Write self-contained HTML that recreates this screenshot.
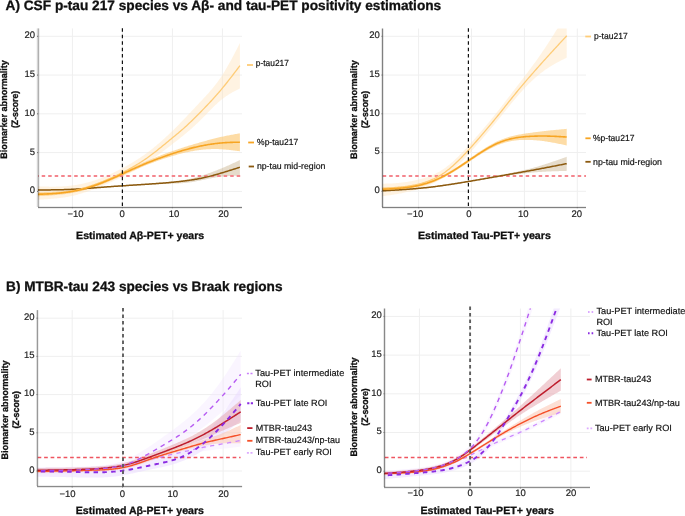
<!DOCTYPE html>
<html><head><meta charset="utf-8"><style>
html,body{margin:0;padding:0;background:#fff;width:685px;height:516px;overflow:hidden}
svg{display:block;font-family:"Liberation Sans", sans-serif;text-rendering:geometricPrecision}
</style></head><body>
<svg width="685" height="516" viewBox="0 0 685 516">
<defs><filter id="soft" color-interpolation-filters="sRGB" x="0" y="0" width="100%" height="100%" filterUnits="userSpaceOnUse"><feConvolveMatrix order="3" kernelMatrix="0 0 0 0 1 0 0 0 0" edgeMode="duplicate" preserveAlpha="false"/></filter><clipPath id="cAL"><rect x="38" y="28.4" width="204" height="178.79999999999998"/></clipPath><clipPath id="cAR"><rect x="382.5" y="28.5" width="203.5" height="178.7"/></clipPath><clipPath id="cBL"><rect x="37.5" y="310.1" width="204.5" height="176.39999999999998"/></clipPath><clipPath id="cBR"><rect x="384.5" y="308.5" width="205.5" height="179.0"/></clipPath></defs>
<g filter="url(#soft)"><rect x="0" y="0" width="685" height="516" fill="#fff"/>
<text x="5.50" y="9.60" font-size="13.7" font-weight="bold" fill="#111" stroke="#111" stroke-width="0.3" textLength="435.69" lengthAdjust="spacingAndGlyphs">A) CSF p-tau 217 species vs Aβ- and tau-PET positivity estimations</text>
<text x="6.10" y="290.90" font-size="13.7" font-weight="bold" fill="#111" stroke="#111" stroke-width="0.3" textLength="276.41" lengthAdjust="spacingAndGlyphs">B) MTBR-tau 243 species vs Braak regions</text>
<line x1="72.40" y1="28.4" x2="72.40" y2="207.2" stroke="#efefef" stroke-width="1"/>
<line x1="122.40" y1="28.4" x2="122.40" y2="207.2" stroke="#efefef" stroke-width="1"/>
<line x1="172.40" y1="28.4" x2="172.40" y2="207.2" stroke="#efefef" stroke-width="1"/>
<line x1="222.40" y1="28.4" x2="222.40" y2="207.2" stroke="#efefef" stroke-width="1"/>
<line x1="38" y1="191.40" x2="242" y2="191.40" stroke="#efefef" stroke-width="1"/>
<line x1="38" y1="152.62" x2="242" y2="152.62" stroke="#efefef" stroke-width="1"/>
<line x1="38" y1="113.85" x2="242" y2="113.85" stroke="#efefef" stroke-width="1"/>
<line x1="38" y1="75.08" x2="242" y2="75.08" stroke="#efefef" stroke-width="1"/>
<line x1="38" y1="36.30" x2="242" y2="36.30" stroke="#efefef" stroke-width="1"/>
<path d="M32.40,186.05 L33.40,186.09 L34.40,186.14 L35.40,186.18 L36.40,186.22 L37.40,186.27 L38.40,186.31 L39.40,186.35 L40.40,186.39 L41.40,186.42 L42.40,186.46 L43.40,186.49 L44.40,186.52 L45.40,186.55 L46.40,186.57 L47.40,186.60 L48.40,186.61 L49.40,186.63 L50.40,186.64 L51.40,186.65 L52.40,186.65 L53.40,186.65 L54.40,186.64 L55.40,186.63 L56.40,186.62 L57.40,186.60 L58.40,186.57 L59.40,186.54 L60.40,186.50 L61.40,186.46 L62.40,186.40 L63.40,186.35 L64.40,186.28 L65.40,186.21 L66.40,186.13 L67.40,186.05 L68.40,185.95 L69.40,185.85 L70.40,185.74 L71.40,185.62 L72.40,185.50 L73.40,185.36 L74.40,185.22 L75.40,185.06 L76.40,184.90 L77.40,184.73 L78.40,184.55 L79.40,184.36 L80.40,184.16 L81.40,183.96 L82.40,183.74 L83.40,183.52 L84.40,183.28 L85.40,183.04 L86.40,182.79 L87.40,182.53 L88.40,182.27 L89.40,181.99 L90.40,181.70 L91.40,181.41 L92.40,181.11 L93.40,180.80 L94.40,180.48 L95.40,180.15 L96.40,179.81 L97.40,179.47 L98.40,179.11 L99.40,178.75 L100.40,178.38 L101.40,178.00 L102.40,177.61 L103.40,177.21 L104.40,176.81 L105.40,176.39 L106.40,175.97 L107.40,175.54 L108.40,175.11 L109.40,174.66 L110.40,174.21 L111.40,173.75 L112.40,173.28 L113.40,172.81 L114.40,172.33 L115.40,171.84 L116.40,171.35 L117.40,170.85 L118.40,170.34 L119.40,169.83 L120.40,169.31 L121.40,168.78 L122.40,168.25 L123.40,167.71 L124.40,167.17 L125.40,166.62 L126.40,166.06 L127.40,165.50 L128.40,164.93 L129.40,164.35 L130.40,163.76 L131.40,163.17 L132.40,162.57 L133.40,161.96 L134.40,161.35 L135.40,160.73 L136.40,160.09 L137.40,159.45 L138.40,158.80 L139.40,158.15 L140.40,157.48 L141.40,156.80 L142.40,156.12 L143.40,155.42 L144.40,154.72 L145.40,154.00 L146.40,153.28 L147.40,152.54 L148.40,151.80 L149.40,151.04 L150.40,150.27 L151.40,149.50 L152.40,148.71 L153.40,147.91 L154.40,147.10 L155.40,146.28 L156.40,145.45 L157.40,144.61 L158.40,143.76 L159.40,142.90 L160.40,142.03 L161.40,141.15 L162.40,140.26 L163.40,139.37 L164.40,138.46 L165.40,137.54 L166.40,136.61 L167.40,135.68 L168.40,134.73 L169.40,133.78 L170.40,132.82 L171.40,131.86 L172.40,130.88 L173.40,129.90 L174.40,128.91 L175.40,127.92 L176.40,126.92 L177.40,125.91 L178.40,124.90 L179.40,123.88 L180.40,122.85 L181.40,121.83 L182.40,120.79 L183.40,119.76 L184.40,118.72 L185.40,117.67 L186.40,116.63 L187.40,115.58 L188.40,114.52 L189.40,113.47 L190.40,112.41 L191.40,111.35 L192.40,110.29 L193.40,109.23 L194.40,108.17 L195.40,107.11 L196.40,106.05 L197.40,104.98 L198.40,103.92 L199.40,102.86 L200.40,101.80 L201.40,100.74 L202.40,99.68 L203.40,98.61 L204.40,97.54 L205.40,96.46 L206.40,95.37 L207.40,94.27 L208.40,93.16 L209.40,92.02 L210.40,90.87 L211.40,89.70 L212.40,88.51 L213.40,87.29 L214.40,86.05 L215.40,84.77 L216.40,83.47 L217.40,82.13 L218.40,80.76 L219.40,79.35 L220.40,77.91 L221.40,76.42 L222.40,74.88 L223.40,73.31 L224.40,71.69 L225.40,70.03 L226.40,68.34 L227.40,66.61 L228.40,64.84 L229.40,63.05 L230.40,61.23 L231.40,59.39 L232.40,57.52 L233.40,55.63 L234.40,53.73 L235.40,51.81 L236.40,49.89 L237.40,47.95 L238.40,46.01 L239.40,44.06 L239.90,43.08 L239.90,88.37 L239.40,88.63 L238.40,89.15 L237.40,89.66 L236.40,90.19 L235.40,90.72 L234.40,91.25 L233.40,91.80 L232.40,92.36 L231.40,92.93 L230.40,93.52 L229.40,94.12 L228.40,94.74 L227.40,95.38 L226.40,96.05 L225.40,96.74 L224.40,97.45 L223.40,98.19 L222.40,98.96 L221.40,99.76 L220.40,100.59 L219.40,101.45 L218.40,102.33 L217.40,103.23 L216.40,104.16 L215.40,105.10 L214.40,106.06 L213.40,107.04 L212.40,108.03 L211.40,109.03 L210.40,110.04 L209.40,111.06 L208.40,112.08 L207.40,113.11 L206.40,114.14 L205.40,115.17 L204.40,116.19 L203.40,117.21 L202.40,118.23 L201.40,119.23 L200.40,120.23 L199.40,121.21 L198.40,122.18 L197.40,123.14 L196.40,124.09 L195.40,125.02 L194.40,125.94 L193.40,126.85 L192.40,127.76 L191.40,128.65 L190.40,129.53 L189.40,130.40 L188.40,131.26 L187.40,132.11 L186.40,132.95 L185.40,133.79 L184.40,134.62 L183.40,135.44 L182.40,136.26 L181.40,137.06 L180.40,137.87 L179.40,138.66 L178.40,139.45 L177.40,140.24 L176.40,141.02 L175.40,141.80 L174.40,142.57 L173.40,143.34 L172.40,144.11 L171.40,144.88 L170.40,145.64 L169.40,146.40 L168.40,147.16 L167.40,147.92 L166.40,148.68 L165.40,149.43 L164.40,150.19 L163.40,150.95 L162.40,151.71 L161.40,152.47 L160.40,153.23 L159.40,153.99 L158.40,154.75 L157.40,155.51 L156.40,156.27 L155.40,157.03 L154.40,157.78 L153.40,158.53 L152.40,159.28 L151.40,160.01 L150.40,160.74 L149.40,161.46 L148.40,162.16 L147.40,162.85 L146.40,163.53 L145.40,164.20 L144.40,164.85 L143.40,165.49 L142.40,166.12 L141.40,166.74 L140.40,167.34 L139.40,167.94 L138.40,168.52 L137.40,169.10 L136.40,169.66 L135.40,170.22 L134.40,170.77 L133.40,171.31 L132.40,171.84 L131.40,172.37 L130.40,172.89 L129.40,173.40 L128.40,173.90 L127.40,174.40 L126.40,174.90 L125.40,175.39 L124.40,175.88 L123.40,176.36 L122.40,176.84 L121.40,177.32 L120.40,177.79 L119.40,178.26 L118.40,178.73 L117.40,179.20 L116.40,179.66 L115.40,180.12 L114.40,180.57 L113.40,181.03 L112.40,181.48 L111.40,181.92 L110.40,182.36 L109.40,182.81 L108.40,183.24 L107.40,183.68 L106.40,184.11 L105.40,184.53 L104.40,184.96 L103.40,185.38 L102.40,185.79 L101.40,186.21 L100.40,186.62 L99.40,187.02 L98.40,187.42 L97.40,187.82 L96.40,188.22 L95.40,188.61 L94.40,188.99 L93.40,189.37 L92.40,189.75 L91.40,190.12 L90.40,190.48 L89.40,190.84 L88.40,191.20 L87.40,191.54 L86.40,191.88 L85.40,192.22 L84.40,192.55 L83.40,192.87 L82.40,193.18 L81.40,193.49 L80.40,193.79 L79.40,194.08 L78.40,194.36 L77.40,194.63 L76.40,194.90 L75.40,195.15 L74.40,195.40 L73.40,195.64 L72.40,195.87 L71.40,196.09 L70.40,196.30 L69.40,196.50 L68.40,196.69 L67.40,196.88 L66.40,197.05 L65.40,197.22 L64.40,197.38 L63.40,197.53 L62.40,197.67 L61.40,197.81 L60.40,197.94 L59.40,198.07 L58.40,198.19 L57.40,198.30 L56.40,198.41 L55.40,198.51 L54.40,198.60 L53.40,198.69 L52.40,198.78 L51.40,198.86 L50.40,198.94 L49.40,199.02 L48.40,199.09 L47.40,199.16 L46.40,199.22 L45.40,199.28 L44.40,199.34 L43.40,199.40 L42.40,199.46 L41.40,199.51 L40.40,199.56 L39.40,199.61 L38.40,199.66 L37.40,199.71 L36.40,199.76 L35.40,199.81 L34.40,199.86 L33.40,199.91 L32.40,199.96 Z" fill="#ffe3bb" fill-opacity="0.42" stroke="none" clip-path="url(#cAL)"/>
<path d="M32.40,192.23 L33.40,192.23 L34.40,192.22 L35.40,192.22 L36.40,192.21 L37.40,192.20 L38.40,192.20 L39.40,192.19 L40.40,192.18 L41.40,192.17 L42.40,192.16 L43.40,192.14 L44.40,192.12 L45.40,192.11 L46.40,192.08 L47.40,192.06 L48.40,192.03 L49.40,192.00 L50.40,191.97 L51.40,191.93 L52.40,191.89 L53.40,191.84 L54.40,191.79 L55.40,191.74 L56.40,191.68 L57.40,191.61 L58.40,191.55 L59.40,191.47 L60.40,191.39 L61.40,191.30 L62.40,191.21 L63.40,191.11 L64.40,191.01 L65.40,190.89 L66.40,190.77 L67.40,190.65 L68.40,190.51 L69.40,190.37 L70.40,190.22 L71.40,190.06 L72.40,189.90 L73.40,189.72 L74.40,189.54 L75.40,189.35 L76.40,189.15 L77.40,188.94 L78.40,188.72 L79.40,188.50 L80.40,188.26 L81.40,188.02 L82.40,187.77 L83.40,187.52 L84.40,187.25 L85.40,186.98 L86.40,186.70 L87.40,186.41 L88.40,186.11 L89.40,185.81 L90.40,185.49 L91.40,185.17 L92.40,184.85 L93.40,184.51 L94.40,184.17 L95.40,183.82 L96.40,183.47 L97.40,183.10 L98.40,182.73 L99.40,182.36 L100.40,181.97 L101.40,181.58 L102.40,181.18 L103.40,180.78 L104.40,180.37 L105.40,179.95 L106.40,179.53 L107.40,179.10 L108.40,178.67 L109.40,178.24 L110.40,177.80 L111.40,177.35 L112.40,176.91 L113.40,176.46 L114.40,176.00 L115.40,175.54 L116.40,175.09 L117.40,174.62 L118.40,174.16 L119.40,173.70 L120.40,173.23 L121.40,172.76 L122.40,172.29 L123.40,171.82 L124.40,171.35 L125.40,170.89 L126.40,170.42 L127.40,169.95 L128.40,169.48 L129.40,169.01 L130.40,168.54 L131.40,168.07 L132.40,167.61 L133.40,167.14 L134.40,166.68 L135.40,166.22 L136.40,165.75 L137.40,165.30 L138.40,164.84 L139.40,164.38 L140.40,163.93 L141.40,163.48 L142.40,163.03 L143.40,162.58 L144.40,162.14 L145.40,161.70 L146.40,161.27 L147.40,160.83 L148.40,160.40 L149.40,159.98 L150.40,159.55 L151.40,159.13 L152.40,158.72 L153.40,158.30 L154.40,157.90 L155.40,157.49 L156.40,157.09 L157.40,156.69 L158.40,156.29 L159.40,155.90 L160.40,155.51 L161.40,155.12 L162.40,154.74 L163.40,154.36 L164.40,153.99 L165.40,153.61 L166.40,153.24 L167.40,152.88 L168.40,152.51 L169.40,152.15 L170.40,151.80 L171.40,151.44 L172.40,151.09 L173.40,150.75 L174.40,150.40 L175.40,150.06 L176.40,149.72 L177.40,149.39 L178.40,149.05 L179.40,148.72 L180.40,148.40 L181.40,148.07 L182.40,147.75 L183.40,147.43 L184.40,147.11 L185.40,146.80 L186.40,146.49 L187.40,146.18 L188.40,145.87 L189.40,145.56 L190.40,145.26 L191.40,144.96 L192.40,144.66 L193.40,144.36 L194.40,144.06 L195.40,143.77 L196.40,143.48 L197.40,143.19 L198.40,142.90 L199.40,142.61 L200.40,142.32 L201.40,142.04 L202.40,141.75 L203.40,141.47 L204.40,141.19 L205.40,140.92 L206.40,140.64 L207.40,140.37 L208.40,140.10 L209.40,139.83 L210.40,139.56 L211.40,139.30 L212.40,139.04 L213.40,138.79 L214.40,138.53 L215.40,138.28 L216.40,138.04 L217.40,137.80 L218.40,137.56 L219.40,137.32 L220.40,137.09 L221.40,136.87 L222.40,136.65 L223.40,136.43 L224.40,136.22 L225.40,136.01 L226.40,135.81 L227.40,135.61 L228.40,135.41 L229.40,135.22 L230.40,135.02 L231.40,134.83 L232.40,134.65 L233.40,134.46 L234.40,134.28 L235.40,134.10 L236.40,133.92 L237.40,133.74 L238.40,133.56 L239.40,133.38 L239.90,133.29 L239.90,151.28 L239.40,151.22 L238.40,151.08 L237.40,150.94 L236.40,150.81 L235.40,150.67 L234.40,150.54 L233.40,150.42 L232.40,150.29 L231.40,150.17 L230.40,150.05 L229.40,149.94 L228.40,149.83 L227.40,149.73 L226.40,149.63 L225.40,149.54 L224.40,149.45 L223.40,149.38 L222.40,149.31 L221.40,149.25 L220.40,149.20 L219.40,149.15 L218.40,149.12 L217.40,149.09 L216.40,149.07 L215.40,149.06 L214.40,149.06 L213.40,149.07 L212.40,149.08 L211.40,149.10 L210.40,149.14 L209.40,149.18 L208.40,149.22 L207.40,149.28 L206.40,149.35 L205.40,149.42 L204.40,149.50 L203.40,149.59 L202.40,149.69 L201.40,149.80 L200.40,149.92 L199.40,150.04 L198.40,150.17 L197.40,150.31 L196.40,150.46 L195.40,150.62 L194.40,150.79 L193.40,150.96 L192.40,151.14 L191.40,151.33 L190.40,151.52 L189.40,151.72 L188.40,151.93 L187.40,152.15 L186.40,152.37 L185.40,152.59 L184.40,152.83 L183.40,153.07 L182.40,153.31 L181.40,153.56 L180.40,153.82 L179.40,154.08 L178.40,154.35 L177.40,154.62 L176.40,154.90 L175.40,155.18 L174.40,155.46 L173.40,155.75 L172.40,156.05 L171.40,156.35 L170.40,156.65 L169.40,156.95 L168.40,157.26 L167.40,157.58 L166.40,157.90 L165.40,158.22 L164.40,158.54 L163.40,158.87 L162.40,159.21 L161.40,159.55 L160.40,159.89 L159.40,160.24 L158.40,160.59 L157.40,160.94 L156.40,161.30 L155.40,161.66 L154.40,162.03 L153.40,162.40 L152.40,162.78 L151.40,163.15 L150.40,163.54 L149.40,163.93 L148.40,164.32 L147.40,164.71 L146.40,165.11 L145.40,165.52 L144.40,165.93 L143.40,166.34 L142.40,166.76 L141.40,167.17 L140.40,167.60 L139.40,168.02 L138.40,168.45 L137.40,168.88 L136.40,169.31 L135.40,169.75 L134.40,170.19 L133.40,170.63 L132.40,171.07 L131.40,171.51 L130.40,171.96 L129.40,172.40 L128.40,172.85 L127.40,173.30 L126.40,173.75 L125.40,174.19 L124.40,174.64 L123.40,175.09 L122.40,175.54 L121.40,175.99 L120.40,176.44 L119.40,176.89 L118.40,177.34 L117.40,177.79 L116.40,178.23 L115.40,178.67 L114.40,179.12 L113.40,179.55 L112.40,179.99 L111.40,180.42 L110.40,180.85 L109.40,181.28 L108.40,181.70 L107.40,182.12 L106.40,182.53 L105.40,182.94 L104.40,183.35 L103.40,183.75 L102.40,184.14 L101.40,184.53 L100.40,184.91 L99.40,185.29 L98.40,185.66 L97.40,186.02 L96.40,186.37 L95.40,186.72 L94.40,187.07 L93.40,187.40 L92.40,187.73 L91.40,188.05 L90.40,188.37 L89.40,188.68 L88.40,188.98 L87.40,189.28 L86.40,189.57 L85.40,189.85 L84.40,190.12 L83.40,190.39 L82.40,190.65 L81.40,190.90 L80.40,191.15 L79.40,191.39 L78.40,191.62 L77.40,191.85 L76.40,192.07 L75.40,192.28 L74.40,192.48 L73.40,192.68 L72.40,192.87 L71.40,193.05 L70.40,193.22 L69.40,193.39 L68.40,193.55 L67.40,193.71 L66.40,193.86 L65.40,194.00 L64.40,194.14 L63.40,194.27 L62.40,194.39 L61.40,194.51 L60.40,194.62 L59.40,194.73 L58.40,194.84 L57.40,194.94 L56.40,195.03 L55.40,195.12 L54.40,195.21 L53.40,195.29 L52.40,195.37 L51.40,195.45 L50.40,195.52 L49.40,195.59 L48.40,195.66 L47.40,195.72 L46.40,195.78 L45.40,195.84 L44.40,195.90 L43.40,195.96 L42.40,196.01 L41.40,196.06 L40.40,196.11 L39.40,196.16 L38.40,196.21 L37.40,196.26 L36.40,196.30 L35.40,196.35 L34.40,196.40 L33.40,196.44 L32.40,196.49 Z" fill="#fcc56b" fill-opacity="0.6" stroke="none" clip-path="url(#cAL)"/>
<path d="M32.40,189.38 L33.40,189.37 L34.40,189.36 L35.40,189.36 L36.40,189.35 L37.40,189.35 L38.40,189.34 L39.40,189.34 L40.40,189.33 L41.40,189.32 L42.40,189.32 L43.40,189.31 L44.40,189.31 L45.40,189.30 L46.40,189.29 L47.40,189.29 L48.40,189.28 L49.40,189.27 L50.40,189.26 L51.40,189.25 L52.40,189.24 L53.40,189.22 L54.40,189.21 L55.40,189.20 L56.40,189.18 L57.40,189.16 L58.40,189.14 L59.40,189.12 L60.40,189.10 L61.40,189.08 L62.40,189.05 L63.40,189.03 L64.40,189.00 L65.40,188.97 L66.40,188.93 L67.40,188.90 L68.40,188.86 L69.40,188.82 L70.40,188.78 L71.40,188.74 L72.40,188.69 L73.40,188.64 L74.40,188.59 L75.40,188.54 L76.40,188.48 L77.40,188.42 L78.40,188.36 L79.40,188.30 L80.40,188.24 L81.40,188.17 L82.40,188.10 L83.40,188.03 L84.40,187.96 L85.40,187.89 L86.40,187.82 L87.40,187.75 L88.40,187.67 L89.40,187.60 L90.40,187.52 L91.40,187.45 L92.40,187.37 L93.40,187.29 L94.40,187.22 L95.40,187.14 L96.40,187.06 L97.40,186.99 L98.40,186.91 L99.40,186.83 L100.40,186.76 L101.40,186.68 L102.40,186.61 L103.40,186.53 L104.40,186.46 L105.40,186.39 L106.40,186.31 L107.40,186.24 L108.40,186.17 L109.40,186.10 L110.40,186.03 L111.40,185.96 L112.40,185.89 L113.40,185.82 L114.40,185.75 L115.40,185.68 L116.40,185.61 L117.40,185.54 L118.40,185.47 L119.40,185.40 L120.40,185.34 L121.40,185.27 L122.40,185.20 L123.40,185.13 L124.40,185.07 L125.40,185.00 L126.40,184.93 L127.40,184.87 L128.40,184.80 L129.40,184.73 L130.40,184.66 L131.40,184.60 L132.40,184.53 L133.40,184.46 L134.40,184.40 L135.40,184.33 L136.40,184.26 L137.40,184.19 L138.40,184.12 L139.40,184.05 L140.40,183.99 L141.40,183.92 L142.40,183.85 L143.40,183.78 L144.40,183.71 L145.40,183.63 L146.40,183.56 L147.40,183.49 L148.40,183.42 L149.40,183.34 L150.40,183.27 L151.40,183.20 L152.40,183.12 L153.40,183.04 L154.40,182.97 L155.40,182.89 L156.40,182.81 L157.40,182.73 L158.40,182.65 L159.40,182.57 L160.40,182.49 L161.40,182.40 L162.40,182.32 L163.40,182.23 L164.40,182.15 L165.40,182.06 L166.40,181.97 L167.40,181.88 L168.40,181.79 L169.40,181.70 L170.40,181.60 L171.40,181.51 L172.40,181.41 L173.40,181.31 L174.40,181.21 L175.40,181.10 L176.40,180.99 L177.40,180.87 L178.40,180.75 L179.40,180.63 L180.40,180.49 L181.40,180.35 L182.40,180.21 L183.40,180.06 L184.40,179.89 L185.40,179.72 L186.40,179.54 L187.40,179.36 L188.40,179.16 L189.40,178.95 L190.40,178.73 L191.40,178.50 L192.40,178.26 L193.40,178.01 L194.40,177.75 L195.40,177.48 L196.40,177.20 L197.40,176.92 L198.40,176.63 L199.40,176.33 L200.40,176.02 L201.40,175.71 L202.40,175.39 L203.40,175.06 L204.40,174.73 L205.40,174.40 L206.40,174.06 L207.40,173.71 L208.40,173.36 L209.40,173.01 L210.40,172.65 L211.40,172.29 L212.40,171.92 L213.40,171.55 L214.40,171.18 L215.40,170.80 L216.40,170.41 L217.40,170.02 L218.40,169.62 L219.40,169.22 L220.40,168.82 L221.40,168.41 L222.40,167.99 L223.40,167.57 L224.40,167.14 L225.40,166.71 L226.40,166.27 L227.40,165.83 L228.40,165.39 L229.40,164.94 L230.40,164.49 L231.40,164.04 L232.40,163.58 L233.40,163.12 L234.40,162.66 L235.40,162.20 L236.40,161.74 L237.40,161.27 L238.40,160.81 L239.40,160.34 L239.90,160.11 L239.90,175.61 L239.40,175.62 L238.40,175.65 L237.40,175.68 L236.40,175.71 L235.40,175.74 L234.40,175.77 L233.40,175.81 L232.40,175.85 L231.40,175.89 L230.40,175.94 L229.40,176.00 L228.40,176.06 L227.40,176.12 L226.40,176.19 L225.40,176.27 L224.40,176.36 L223.40,176.46 L222.40,176.56 L221.40,176.68 L220.40,176.80 L219.40,176.93 L218.40,177.07 L217.40,177.22 L216.40,177.37 L215.40,177.53 L214.40,177.70 L213.40,177.87 L212.40,178.05 L211.40,178.24 L210.40,178.43 L209.40,178.62 L208.40,178.82 L207.40,179.02 L206.40,179.22 L205.40,179.43 L204.40,179.63 L203.40,179.84 L202.40,180.05 L201.40,180.26 L200.40,180.47 L199.40,180.67 L198.40,180.87 L197.40,181.07 L196.40,181.26 L195.40,181.45 L194.40,181.64 L193.40,181.81 L192.40,181.98 L191.40,182.14 L190.40,182.29 L189.40,182.43 L188.40,182.56 L187.40,182.68 L186.40,182.79 L185.40,182.89 L184.40,182.99 L183.40,183.07 L182.40,183.15 L181.40,183.22 L180.40,183.28 L179.40,183.34 L178.40,183.39 L177.40,183.44 L176.40,183.49 L175.40,183.53 L174.40,183.57 L173.40,183.61 L172.40,183.65 L171.40,183.69 L170.40,183.73 L169.40,183.76 L168.40,183.81 L167.40,183.85 L166.40,183.89 L165.40,183.93 L164.40,183.98 L163.40,184.02 L162.40,184.07 L161.40,184.12 L160.40,184.17 L159.40,184.22 L158.40,184.27 L157.40,184.32 L156.40,184.37 L155.40,184.43 L154.40,184.48 L153.40,184.53 L152.40,184.59 L151.40,184.64 L150.40,184.70 L149.40,184.76 L148.40,184.81 L147.40,184.87 L146.40,184.93 L145.40,184.99 L144.40,185.05 L143.40,185.11 L142.40,185.17 L141.40,185.23 L140.40,185.29 L139.40,185.35 L138.40,185.41 L137.40,185.47 L136.40,185.53 L135.40,185.59 L134.40,185.66 L133.40,185.72 L132.40,185.78 L131.40,185.85 L130.40,185.91 L129.40,185.97 L128.40,186.04 L127.40,186.10 L126.40,186.17 L125.40,186.23 L124.40,186.30 L123.40,186.37 L122.40,186.43 L121.40,186.50 L120.40,186.57 L119.40,186.63 L118.40,186.70 L117.40,186.77 L116.40,186.84 L115.40,186.91 L114.40,186.98 L113.40,187.05 L112.40,187.12 L111.40,187.19 L110.40,187.26 L109.40,187.33 L108.40,187.40 L107.40,187.48 L106.40,187.55 L105.40,187.62 L104.40,187.70 L103.40,187.77 L102.40,187.84 L101.40,187.92 L100.40,187.99 L99.40,188.07 L98.40,188.15 L97.40,188.22 L96.40,188.30 L95.40,188.38 L94.40,188.46 L93.40,188.53 L92.40,188.61 L91.40,188.69 L90.40,188.76 L89.40,188.84 L88.40,188.91 L87.40,188.99 L86.40,189.06 L85.40,189.13 L84.40,189.21 L83.40,189.28 L82.40,189.34 L81.40,189.41 L80.40,189.48 L79.40,189.54 L78.40,189.60 L77.40,189.66 L76.40,189.72 L75.40,189.78 L74.40,189.83 L73.40,189.88 L72.40,189.93 L71.40,189.98 L70.40,190.02 L69.40,190.06 L68.40,190.10 L67.40,190.14 L66.40,190.18 L65.40,190.21 L64.40,190.24 L63.40,190.27 L62.40,190.30 L61.40,190.32 L60.40,190.34 L59.40,190.37 L58.40,190.39 L57.40,190.40 L56.40,190.42 L55.40,190.44 L54.40,190.45 L53.40,190.47 L52.40,190.48 L51.40,190.49 L50.40,190.50 L49.40,190.51 L48.40,190.52 L47.40,190.53 L46.40,190.53 L45.40,190.54 L44.40,190.55 L43.40,190.55 L42.40,190.56 L41.40,190.57 L40.40,190.57 L39.40,190.58 L38.40,190.58 L37.40,190.59 L36.40,190.59 L35.40,190.60 L34.40,190.60 L33.40,190.61 L32.40,190.62 Z" fill="#b89a6a" fill-opacity="0.35" stroke="none" clip-path="url(#cAL)"/>
<line x1="35.2" y1="176.0" x2="242" y2="176.0" stroke="#f4868e" stroke-width="2.0" stroke-dasharray="3.5 3.0" clip-path="url(#cAL)"/>
<path d="M32.40,190.00 L33.40,189.99 L34.40,189.98 L35.40,189.98 L36.40,189.97 L37.40,189.97 L38.40,189.96 L39.40,189.96 L40.40,189.95 L41.40,189.95 L42.40,189.94 L43.40,189.93 L44.40,189.93 L45.40,189.92 L46.40,189.91 L47.40,189.91 L48.40,189.90 L49.40,189.89 L50.40,189.88 L51.40,189.87 L52.40,189.86 L53.40,189.85 L54.40,189.83 L55.40,189.82 L56.40,189.80 L57.40,189.78 L58.40,189.76 L59.40,189.74 L60.40,189.72 L61.40,189.70 L62.40,189.67 L63.40,189.65 L64.40,189.62 L65.40,189.59 L66.40,189.56 L67.40,189.52 L68.40,189.48 L69.40,189.44 L70.40,189.40 L71.40,189.36 L72.40,189.31 L73.40,189.26 L74.40,189.21 L75.40,189.16 L76.40,189.10 L77.40,189.04 L78.40,188.98 L79.40,188.92 L80.40,188.86 L81.40,188.79 L82.40,188.72 L83.40,188.65 L84.40,188.58 L85.40,188.51 L86.40,188.44 L87.40,188.37 L88.40,188.29 L89.40,188.22 L90.40,188.14 L91.40,188.07 L92.40,187.99 L93.40,187.91 L94.40,187.84 L95.40,187.76 L96.40,187.68 L97.40,187.60 L98.40,187.53 L99.40,187.45 L100.40,187.38 L101.40,187.30 L102.40,187.23 L103.40,187.15 L104.40,187.08 L105.40,187.00 L106.40,186.93 L107.40,186.86 L108.40,186.79 L109.40,186.71 L110.40,186.64 L111.40,186.57 L112.40,186.50 L113.40,186.43 L114.40,186.36 L115.40,186.30 L116.40,186.23 L117.40,186.16 L118.40,186.09 L119.40,186.02 L120.40,185.96 L121.40,185.89 L122.40,185.82 L123.40,185.76 L124.40,185.69 L125.40,185.63 L126.40,185.56 L127.40,185.50 L128.40,185.43 L129.40,185.37 L130.40,185.30 L131.40,185.24 L132.40,185.17 L133.40,185.11 L134.40,185.04 L135.40,184.98 L136.40,184.92 L137.40,184.85 L138.40,184.79 L139.40,184.72 L140.40,184.66 L141.40,184.59 L142.40,184.53 L143.40,184.46 L144.40,184.40 L145.40,184.33 L146.40,184.27 L147.40,184.20 L148.40,184.13 L149.40,184.07 L150.40,184.00 L151.40,183.93 L152.40,183.86 L153.40,183.79 L154.40,183.72 L155.40,183.65 L156.40,183.58 L157.40,183.51 L158.40,183.43 L159.40,183.36 L160.40,183.28 L161.40,183.21 L162.40,183.13 L163.40,183.05 L164.40,182.97 L165.40,182.89 L166.40,182.80 L167.40,182.72 L168.40,182.63 L169.40,182.54 L170.40,182.45 L171.40,182.36 L172.40,182.27 L173.40,182.17 L174.40,182.07 L175.40,181.97 L176.40,181.87 L177.40,181.77 L178.40,181.66 L179.40,181.55 L180.40,181.44 L181.40,181.32 L182.40,181.20 L183.40,181.08 L184.40,180.96 L185.40,180.83 L186.40,180.70 L187.40,180.56 L188.40,180.42 L189.40,180.28 L190.40,180.13 L191.40,179.98 L192.40,179.82 L193.40,179.66 L194.40,179.50 L195.40,179.33 L196.40,179.16 L197.40,178.98 L198.40,178.79 L199.40,178.60 L200.40,178.41 L201.40,178.21 L202.40,178.00 L203.40,177.79 L204.40,177.57 L205.40,177.35 L206.40,177.12 L207.40,176.88 L208.40,176.63 L209.40,176.39 L210.40,176.13 L211.40,175.87 L212.40,175.60 L213.40,175.33 L214.40,175.05 L215.40,174.77 L216.40,174.49 L217.40,174.20 L218.40,173.91 L219.40,173.61 L220.40,173.32 L221.40,173.02 L222.40,172.72 L223.40,172.41 L224.40,172.11 L225.40,171.80 L226.40,171.49 L227.40,171.18 L228.40,170.87 L229.40,170.56 L230.40,170.25 L231.40,169.93 L232.40,169.62 L233.40,169.30 L234.40,168.99 L235.40,168.67 L236.40,168.35 L237.40,168.04 L238.40,167.72 L239.40,167.40 L239.90,167.24" fill="none" stroke="#8c5a0f" stroke-width="1.5" stroke-opacity="1" clip-path="url(#cAL)"/>
<path d="M32.40,194.90 L33.40,194.84 L34.40,194.78 L35.40,194.72 L36.40,194.67 L37.40,194.61 L38.40,194.55 L39.40,194.49 L40.40,194.43 L41.40,194.37 L42.40,194.31 L43.40,194.25 L44.40,194.18 L45.40,194.12 L46.40,194.05 L47.40,193.98 L48.40,193.91 L49.40,193.83 L50.40,193.76 L51.40,193.68 L52.40,193.59 L53.40,193.51 L54.40,193.41 L55.40,193.32 L56.40,193.22 L57.40,193.12 L58.40,193.01 L59.40,192.90 L60.40,192.78 L61.40,192.66 L62.40,192.53 L63.40,192.40 L64.40,192.26 L65.40,192.11 L66.40,191.96 L67.40,191.80 L68.40,191.63 L69.40,191.46 L70.40,191.28 L71.40,191.09 L72.40,190.89 L73.40,190.69 L74.40,190.48 L75.40,190.26 L76.40,190.03 L77.40,189.79 L78.40,189.55 L79.40,189.30 L80.40,189.04 L81.40,188.78 L82.40,188.50 L83.40,188.22 L84.40,187.94 L85.40,187.64 L86.40,187.34 L87.40,187.04 L88.40,186.72 L89.40,186.40 L90.40,186.07 L91.40,185.74 L92.40,185.40 L93.40,185.06 L94.40,184.70 L95.40,184.34 L96.40,183.98 L97.40,183.61 L98.40,183.23 L99.40,182.85 L100.40,182.46 L101.40,182.07 L102.40,181.67 L103.40,181.27 L104.40,180.86 L105.40,180.44 L106.40,180.02 L107.40,179.60 L108.40,179.17 L109.40,178.73 L110.40,178.29 L111.40,177.84 L112.40,177.39 L113.40,176.93 L114.40,176.47 L115.40,176.00 L116.40,175.53 L117.40,175.05 L118.40,174.57 L119.40,174.08 L120.40,173.59 L121.40,173.09 L122.40,172.59 L123.40,172.08 L124.40,171.57 L125.40,171.05 L126.40,170.53 L127.40,170.00 L128.40,169.46 L129.40,168.92 L130.40,168.37 L131.40,167.81 L132.40,167.25 L133.40,166.68 L134.40,166.10 L135.40,165.51 L136.40,164.91 L137.40,164.31 L138.40,163.70 L139.40,163.08 L140.40,162.44 L141.40,161.80 L142.40,161.15 L143.40,160.49 L144.40,159.82 L145.40,159.14 L146.40,158.44 L147.40,157.74 L148.40,157.02 L149.40,156.30 L150.40,155.56 L151.40,154.81 L152.40,154.05 L153.40,153.29 L154.40,152.52 L155.40,151.74 L156.40,150.95 L157.40,150.15 L158.40,149.35 L159.40,148.55 L160.40,147.74 L161.40,146.93 L162.40,146.11 L163.40,145.29 L164.40,144.47 L165.40,143.64 L166.40,142.82 L167.40,141.99 L168.40,141.16 L169.40,140.33 L170.40,139.51 L171.40,138.68 L172.40,137.86 L173.40,137.03 L174.40,136.21 L175.40,135.39 L176.40,134.57 L177.40,133.74 L178.40,132.91 L179.40,132.07 L180.40,131.22 L181.40,130.36 L182.40,129.50 L183.40,128.62 L184.40,127.72 L185.40,126.82 L186.40,125.90 L187.40,124.98 L188.40,124.04 L189.40,123.09 L190.40,122.13 L191.40,121.17 L192.40,120.20 L193.40,119.22 L194.40,118.23 L195.40,117.23 L196.40,116.23 L197.40,115.23 L198.40,114.22 L199.40,113.21 L200.40,112.19 L201.40,111.17 L202.40,110.15 L203.40,109.12 L204.40,108.09 L205.40,107.05 L206.40,106.01 L207.40,104.96 L208.40,103.91 L209.40,102.84 L210.40,101.77 L211.40,100.70 L212.40,99.61 L213.40,98.51 L214.40,97.41 L215.40,96.29 L216.40,95.17 L217.40,94.03 L218.40,92.88 L219.40,91.73 L220.40,90.55 L221.40,89.37 L222.40,88.17 L223.40,86.96 L224.40,85.73 L225.40,84.50 L226.40,83.25 L227.40,81.99 L228.40,80.72 L229.40,79.44 L230.40,78.16 L231.40,76.86 L232.40,75.56 L233.40,74.26 L234.40,72.95 L235.40,71.63 L236.40,70.31 L237.40,68.99 L238.40,67.66 L239.40,66.34 L239.90,65.68" fill="none" stroke="#fecc78" stroke-width="1.3" stroke-opacity="1" clip-path="url(#cAL)"/>
<path d="M32.40,194.39 L33.40,194.36 L34.40,194.33 L35.40,194.30 L36.40,194.27 L37.40,194.25 L38.40,194.22 L39.40,194.19 L40.40,194.15 L41.40,194.12 L42.40,194.09 L43.40,194.05 L44.40,194.01 L45.40,193.98 L46.40,193.93 L47.40,193.89 L48.40,193.84 L49.40,193.79 L50.40,193.74 L51.40,193.69 L52.40,193.63 L53.40,193.56 L54.40,193.50 L55.40,193.43 L56.40,193.35 L57.40,193.27 L58.40,193.19 L59.40,193.10 L60.40,193.00 L61.40,192.90 L62.40,192.80 L63.40,192.68 L64.40,192.57 L65.40,192.44 L66.40,192.31 L67.40,192.17 L68.40,192.03 L69.40,191.88 L70.40,191.72 L71.40,191.55 L72.40,191.38 L73.40,191.20 L74.40,191.01 L75.40,190.81 L76.40,190.61 L77.40,190.39 L78.40,190.17 L79.40,189.94 L80.40,189.71 L81.40,189.46 L82.40,189.21 L83.40,188.95 L84.40,188.69 L85.40,188.41 L86.40,188.13 L87.40,187.84 L88.40,187.55 L89.40,187.24 L90.40,186.93 L91.40,186.61 L92.40,186.29 L93.40,185.96 L94.40,185.62 L95.40,185.27 L96.40,184.92 L97.40,184.56 L98.40,184.19 L99.40,183.82 L100.40,183.44 L101.40,183.05 L102.40,182.66 L103.40,182.26 L104.40,181.85 L105.40,181.44 L106.40,181.03 L107.40,180.61 L108.40,180.18 L109.40,179.75 L110.40,179.32 L111.40,178.88 L112.40,178.44 L113.40,178.00 L114.40,177.55 L115.40,177.10 L116.40,176.65 L117.40,176.20 L118.40,175.74 L119.40,175.29 L120.40,174.83 L121.40,174.37 L122.40,173.91 L123.40,173.45 L124.40,172.99 L125.40,172.53 L126.40,172.08 L127.40,171.62 L128.40,171.16 L129.40,170.70 L130.40,170.25 L131.40,169.79 L132.40,169.34 L133.40,168.89 L134.40,168.44 L135.40,168.00 L136.40,167.55 L137.40,167.11 L138.40,166.67 L139.40,166.23 L140.40,165.80 L141.40,165.37 L142.40,164.94 L143.40,164.51 L144.40,164.09 L145.40,163.68 L146.40,163.27 L147.40,162.86 L148.40,162.45 L149.40,162.05 L150.40,161.66 L151.40,161.27 L152.40,160.88 L153.40,160.50 L154.40,160.12 L155.40,159.74 L156.40,159.36 L157.40,158.99 L158.40,158.62 L159.40,158.25 L160.40,157.88 L161.40,157.52 L162.40,157.16 L163.40,156.80 L164.40,156.44 L165.40,156.08 L166.40,155.73 L167.40,155.38 L168.40,155.03 L169.40,154.69 L170.40,154.35 L171.40,154.01 L172.40,153.68 L173.40,153.35 L174.40,153.03 L175.40,152.70 L176.40,152.39 L177.40,152.07 L178.40,151.76 L179.40,151.46 L180.40,151.16 L181.40,150.86 L182.40,150.57 L183.40,150.28 L184.40,150.00 L185.40,149.72 L186.40,149.44 L187.40,149.17 L188.40,148.90 L189.40,148.64 L190.40,148.38 L191.40,148.13 L192.40,147.88 L193.40,147.64 L194.40,147.40 L195.40,147.17 L196.40,146.94 L197.40,146.72 L198.40,146.50 L199.40,146.28 L200.40,146.07 L201.40,145.87 L202.40,145.67 L203.40,145.47 L204.40,145.29 L205.40,145.10 L206.40,144.92 L207.40,144.75 L208.40,144.58 L209.40,144.42 L210.40,144.27 L211.40,144.12 L212.40,143.97 L213.40,143.84 L214.40,143.70 L215.40,143.58 L216.40,143.46 L217.40,143.34 L218.40,143.23 L219.40,143.13 L220.40,143.04 L221.40,142.95 L222.40,142.87 L223.40,142.79 L224.40,142.72 L225.40,142.66 L226.40,142.60 L227.40,142.55 L228.40,142.50 L229.40,142.46 L230.40,142.42 L231.40,142.38 L232.40,142.35 L233.40,142.32 L234.40,142.29 L235.40,142.27 L236.40,142.24 L237.40,142.22 L238.40,142.20 L239.40,142.18 L239.90,142.17" fill="none" stroke="#f7a523" stroke-width="1.6" stroke-opacity="1" clip-path="url(#cAL)"/>
<line x1="122.4" y1="28.3" x2="122.4" y2="207.2" stroke="#111" stroke-width="1.2" stroke-dasharray="3.5 2.95"/>
<rect x="36" y="28.4" width="1" height="178.60" fill="#000" fill-opacity="0.035"/>
<rect x="37" y="28.4" width="1" height="178.60" fill="#000" fill-opacity="0.169"/>
<rect x="38" y="28.4" width="1" height="178.60" fill="#000" fill-opacity="0.310"/>
<rect x="39" y="28.4" width="1" height="178.60" fill="#000" fill-opacity="0.059"/>
<rect x="38" y="206" width="204.00" height="1" fill="#000" fill-opacity="0.075"/>
<rect x="38" y="207" width="204.00" height="1" fill="#000" fill-opacity="0.498"/>
<rect x="38" y="208" width="204.00" height="1" fill="#000" fill-opacity="0.075"/>
<line x1="37.00" y1="191.40" x2="38" y2="191.40" stroke="#666" stroke-width="0.9"/>
<line x1="37.00" y1="152.62" x2="38" y2="152.62" stroke="#666" stroke-width="0.9"/>
<line x1="37.00" y1="113.85" x2="38" y2="113.85" stroke="#666" stroke-width="0.9"/>
<line x1="37.00" y1="75.08" x2="38" y2="75.08" stroke="#666" stroke-width="0.9"/>
<line x1="37.00" y1="36.30" x2="38" y2="36.30" stroke="#666" stroke-width="0.9"/>
<line x1="72.40" y1="207.2" x2="72.40" y2="208.2" stroke="#666" stroke-width="0.9"/>
<line x1="122.40" y1="207.2" x2="122.40" y2="208.2" stroke="#666" stroke-width="0.9"/>
<line x1="172.40" y1="207.2" x2="172.40" y2="208.2" stroke="#666" stroke-width="0.9"/>
<line x1="222.40" y1="207.2" x2="222.40" y2="208.2" stroke="#666" stroke-width="0.9"/>
<text x="29.73" y="193.30" font-size="9.5" font-weight="normal" fill="#222" stroke="#222" stroke-width="0.18">0</text>
<text x="29.73" y="154.53" font-size="9.5" font-weight="normal" fill="#222" stroke="#222" stroke-width="0.18">5</text>
<text x="24.45" y="115.75" font-size="9.5" font-weight="normal" fill="#222" stroke="#222" stroke-width="0.18">10</text>
<text x="24.45" y="76.98" font-size="9.5" font-weight="normal" fill="#222" stroke="#222" stroke-width="0.18">15</text>
<text x="24.45" y="38.20" font-size="9.5" font-weight="normal" fill="#222" stroke="#222" stroke-width="0.18">20</text>
<text x="67.40" y="216.80" font-size="9.5" font-weight="normal" fill="#222" stroke="#222" stroke-width="0.18">−10</text>
<text x="119.46" y="216.80" font-size="9.5" font-weight="normal" fill="#222" stroke="#222" stroke-width="0.18">0</text>
<text x="168.63" y="216.80" font-size="9.5" font-weight="normal" fill="#222" stroke="#222" stroke-width="0.18">10</text>
<text x="218.23" y="216.80" font-size="9.5" font-weight="normal" fill="#222" stroke="#222" stroke-width="0.18">20</text>
<line x1="418.60" y1="28.5" x2="418.60" y2="207.2" stroke="#efefef" stroke-width="1"/>
<line x1="471.50" y1="28.5" x2="471.50" y2="207.2" stroke="#efefef" stroke-width="1"/>
<line x1="524.40" y1="28.5" x2="524.40" y2="207.2" stroke="#efefef" stroke-width="1"/>
<line x1="577.30" y1="28.5" x2="577.30" y2="207.2" stroke="#efefef" stroke-width="1"/>
<line x1="382.5" y1="191.30" x2="586" y2="191.30" stroke="#efefef" stroke-width="1"/>
<line x1="382.5" y1="152.55" x2="586" y2="152.55" stroke="#efefef" stroke-width="1"/>
<line x1="382.5" y1="113.80" x2="586" y2="113.80" stroke="#efefef" stroke-width="1"/>
<line x1="382.5" y1="75.05" x2="586" y2="75.05" stroke="#efefef" stroke-width="1"/>
<line x1="382.5" y1="36.30" x2="586" y2="36.30" stroke="#efefef" stroke-width="1"/>
<path d="M376.28,183.57 L377.34,183.59 L378.40,183.61 L379.45,183.62 L380.51,183.64 L381.57,183.64 L382.63,183.65 L383.69,183.65 L384.74,183.64 L385.80,183.62 L386.86,183.60 L387.92,183.57 L388.98,183.54 L390.03,183.50 L391.09,183.45 L392.15,183.40 L393.21,183.34 L394.27,183.27 L395.32,183.20 L396.38,183.12 L397.44,183.03 L398.50,182.93 L399.56,182.83 L400.61,182.72 L401.67,182.60 L402.73,182.47 L403.79,182.34 L404.85,182.19 L405.90,182.04 L406.96,181.89 L408.02,181.72 L409.08,181.54 L410.14,181.36 L411.19,181.17 L412.25,180.97 L413.31,180.76 L414.37,180.54 L415.43,180.32 L416.48,180.08 L417.54,179.84 L418.60,179.58 L419.66,179.32 L420.72,179.04 L421.77,178.76 L422.83,178.46 L423.89,178.15 L424.95,177.83 L426.01,177.49 L427.06,177.14 L428.12,176.77 L429.18,176.38 L430.24,175.98 L431.30,175.56 L432.35,175.11 L433.41,174.65 L434.47,174.16 L435.53,173.65 L436.59,173.12 L437.64,172.57 L438.70,171.99 L439.76,171.38 L440.82,170.74 L441.88,170.08 L442.93,169.39 L443.99,168.67 L445.05,167.92 L446.11,167.14 L447.17,166.33 L448.22,165.50 L449.28,164.64 L450.34,163.75 L451.40,162.84 L452.46,161.91 L453.51,160.95 L454.57,159.98 L455.63,158.99 L456.69,157.97 L457.75,156.94 L458.80,155.90 L459.86,154.83 L460.92,153.76 L461.98,152.66 L463.04,151.56 L464.09,150.44 L465.15,149.31 L466.21,148.17 L467.27,147.02 L468.33,145.87 L469.38,144.70 L470.44,143.53 L471.50,142.35 L472.56,141.16 L473.62,139.97 L474.67,138.77 L475.73,137.57 L476.79,136.36 L477.85,135.14 L478.91,133.92 L479.96,132.69 L481.02,131.46 L482.08,130.22 L483.14,128.98 L484.20,127.73 L485.25,126.48 L486.31,125.23 L487.37,123.96 L488.43,122.69 L489.49,121.42 L490.54,120.14 L491.60,118.85 L492.66,117.56 L493.72,116.26 L494.78,114.95 L495.83,113.63 L496.89,112.31 L497.95,110.98 L499.01,109.64 L500.07,108.30 L501.12,106.94 L502.18,105.58 L503.24,104.21 L504.30,102.84 L505.36,101.46 L506.41,100.08 L507.47,98.70 L508.53,97.32 L509.59,95.94 L510.65,94.56 L511.70,93.19 L512.76,91.81 L513.82,90.44 L514.88,89.07 L515.94,87.69 L516.99,86.32 L518.05,84.95 L519.11,83.57 L520.17,82.19 L521.23,80.81 L522.28,79.43 L523.34,78.04 L524.40,76.65 L525.46,75.26 L526.52,73.86 L527.57,72.45 L528.63,71.04 L529.69,69.62 L530.75,68.20 L531.81,66.76 L532.86,65.32 L533.92,63.87 L534.98,62.41 L536.04,60.94 L537.10,59.46 L538.15,57.97 L539.21,56.46 L540.27,54.94 L541.33,53.41 L542.39,51.87 L543.44,50.31 L544.50,48.73 L545.56,47.14 L546.62,45.54 L547.68,43.92 L548.73,42.29 L549.79,40.65 L550.85,39.00 L551.91,37.33 L552.97,35.66 L554.02,33.97 L555.08,32.28 L556.14,30.58 L557.20,28.88 L558.26,27.16 L559.31,25.45 L560.37,23.72 L561.43,21.99 L562.49,20.26 L563.55,18.53 L564.60,16.79 L565.66,15.05 L566.72,13.32 L566.72,13.32 L566.72,57.62 L566.72,57.62 L565.66,58.15 L564.60,58.69 L563.55,59.22 L562.49,59.76 L561.43,60.31 L560.37,60.85 L559.31,61.41 L558.26,61.97 L557.20,62.54 L556.14,63.12 L555.08,63.71 L554.02,64.31 L552.97,64.92 L551.91,65.54 L550.85,66.18 L549.79,66.84 L548.73,67.51 L547.68,68.19 L546.62,68.90 L545.56,69.62 L544.50,70.37 L543.44,71.14 L542.39,71.92 L541.33,72.73 L540.27,73.56 L539.21,74.42 L538.15,75.29 L537.10,76.18 L536.04,77.10 L534.98,78.03 L533.92,78.98 L532.86,79.96 L531.81,80.95 L530.75,81.96 L529.69,83.00 L528.63,84.05 L527.57,85.12 L526.52,86.20 L525.46,87.31 L524.40,88.43 L523.34,89.57 L522.28,90.73 L521.23,91.90 L520.17,93.09 L519.11,94.30 L518.05,95.51 L516.99,96.74 L515.94,97.99 L514.88,99.24 L513.82,100.50 L512.76,101.78 L511.70,103.06 L510.65,104.35 L509.59,105.65 L508.53,106.96 L507.47,108.27 L506.41,109.59 L505.36,110.90 L504.30,112.22 L503.24,113.54 L502.18,114.85 L501.12,116.17 L500.07,117.47 L499.01,118.78 L497.95,120.07 L496.89,121.36 L495.83,122.64 L494.78,123.92 L493.72,125.19 L492.66,126.46 L491.60,127.72 L490.54,128.98 L489.49,130.23 L488.43,131.48 L487.37,132.73 L486.31,133.97 L485.25,135.21 L484.20,136.45 L483.14,137.69 L482.08,138.92 L481.02,140.15 L479.96,141.38 L478.91,142.60 L477.85,143.83 L476.79,145.04 L475.73,146.25 L474.67,147.46 L473.62,148.66 L472.56,149.85 L471.50,151.04 L470.44,152.22 L469.38,153.38 L468.33,154.54 L467.27,155.69 L466.21,156.83 L465.15,157.96 L464.09,159.07 L463.04,160.18 L461.98,161.26 L460.92,162.34 L459.86,163.40 L458.80,164.44 L457.75,165.47 L456.69,166.48 L455.63,167.47 L454.57,168.45 L453.51,169.40 L452.46,170.34 L451.40,171.25 L450.34,172.14 L449.28,173.02 L448.22,173.86 L447.17,174.69 L446.11,175.49 L445.05,176.27 L443.99,177.02 L442.93,177.75 L441.88,178.45 L440.82,179.13 L439.76,179.78 L438.70,180.41 L437.64,181.02 L436.59,181.61 L435.53,182.18 L434.47,182.73 L433.41,183.26 L432.35,183.77 L431.30,184.27 L430.24,184.75 L429.18,185.21 L428.12,185.66 L427.06,186.09 L426.01,186.51 L424.95,186.91 L423.89,187.30 L422.83,187.68 L421.77,188.04 L420.72,188.40 L419.66,188.74 L418.60,189.07 L417.54,189.39 L416.48,189.70 L415.43,190.00 L414.37,190.30 L413.31,190.58 L412.25,190.85 L411.19,191.12 L410.14,191.38 L409.08,191.63 L408.02,191.87 L406.96,192.11 L405.90,192.34 L404.85,192.56 L403.79,192.78 L402.73,192.99 L401.67,193.19 L400.61,193.39 L399.56,193.58 L398.50,193.77 L397.44,193.95 L396.38,194.13 L395.32,194.31 L394.27,194.48 L393.21,194.65 L392.15,194.82 L391.09,194.98 L390.03,195.14 L388.98,195.30 L387.92,195.45 L386.86,195.61 L385.80,195.76 L384.74,195.91 L383.69,196.06 L382.63,196.21 L381.57,196.36 L380.51,196.51 L379.45,196.66 L378.40,196.82 L377.34,196.97 L376.28,197.12 Z" fill="#ffe3bb" fill-opacity="0.42" stroke="none" clip-path="url(#cAR)"/>
<path d="M376.28,188.01 L377.34,187.96 L378.40,187.91 L379.45,187.86 L380.51,187.82 L381.57,187.77 L382.63,187.72 L383.69,187.68 L384.74,187.63 L385.80,187.58 L386.86,187.53 L387.92,187.48 L388.98,187.43 L390.03,187.38 L391.09,187.33 L392.15,187.27 L393.21,187.21 L394.27,187.15 L395.32,187.08 L396.38,187.01 L397.44,186.94 L398.50,186.86 L399.56,186.78 L400.61,186.69 L401.67,186.59 L402.73,186.49 L403.79,186.38 L404.85,186.27 L405.90,186.15 L406.96,186.02 L408.02,185.89 L409.08,185.75 L410.14,185.59 L411.19,185.43 L412.25,185.26 L413.31,185.08 L414.37,184.90 L415.43,184.70 L416.48,184.49 L417.54,184.27 L418.60,184.04 L419.66,183.79 L420.72,183.54 L421.77,183.27 L422.83,183.00 L423.89,182.70 L424.95,182.40 L426.01,182.09 L427.06,181.76 L428.12,181.41 L429.18,181.06 L430.24,180.69 L431.30,180.31 L432.35,179.91 L433.41,179.50 L434.47,179.08 L435.53,178.64 L436.59,178.18 L437.64,177.72 L438.70,177.24 L439.76,176.74 L440.82,176.23 L441.88,175.71 L442.93,175.17 L443.99,174.62 L445.05,174.06 L446.11,173.48 L447.17,172.89 L448.22,172.29 L449.28,171.67 L450.34,171.05 L451.40,170.41 L452.46,169.77 L453.51,169.12 L454.57,168.45 L455.63,167.78 L456.69,167.11 L457.75,166.42 L458.80,165.73 L459.86,165.03 L460.92,164.33 L461.98,163.62 L463.04,162.91 L464.09,162.20 L465.15,161.48 L466.21,160.76 L467.27,160.03 L468.33,159.31 L469.38,158.58 L470.44,157.85 L471.50,157.12 L472.56,156.39 L473.62,155.67 L474.67,154.95 L475.73,154.23 L476.79,153.51 L477.85,152.80 L478.91,152.09 L479.96,151.39 L481.02,150.70 L482.08,150.01 L483.14,149.34 L484.20,148.67 L485.25,148.01 L486.31,147.36 L487.37,146.73 L488.43,146.10 L489.49,145.49 L490.54,144.89 L491.60,144.30 L492.66,143.73 L493.72,143.17 L494.78,142.62 L495.83,142.10 L496.89,141.59 L497.95,141.09 L499.01,140.61 L500.07,140.16 L501.12,139.72 L502.18,139.30 L503.24,138.89 L504.30,138.51 L505.36,138.14 L506.41,137.78 L507.47,137.44 L508.53,137.12 L509.59,136.81 L510.65,136.52 L511.70,136.23 L512.76,135.96 L513.82,135.71 L514.88,135.46 L515.94,135.23 L516.99,135.01 L518.05,134.79 L519.11,134.59 L520.17,134.40 L521.23,134.21 L522.28,134.03 L523.34,133.86 L524.40,133.69 L525.46,133.53 L526.52,133.37 L527.57,133.22 L528.63,133.07 L529.69,132.92 L530.75,132.78 L531.81,132.63 L532.86,132.49 L533.92,132.35 L534.98,132.21 L536.04,132.07 L537.10,131.94 L538.15,131.80 L539.21,131.67 L540.27,131.54 L541.33,131.41 L542.39,131.28 L543.44,131.16 L544.50,131.04 L545.56,130.92 L546.62,130.80 L547.68,130.69 L548.73,130.57 L549.79,130.46 L550.85,130.35 L551.91,130.25 L552.97,130.14 L554.02,130.04 L555.08,129.94 L556.14,129.83 L557.20,129.73 L558.26,129.64 L559.31,129.54 L560.37,129.44 L561.43,129.34 L562.49,129.25 L563.55,129.15 L564.60,129.06 L565.66,128.96 L566.72,128.87 L566.72,128.87 L566.72,145.44 L566.72,145.44 L565.66,145.22 L564.60,144.99 L563.55,144.77 L562.49,144.54 L561.43,144.32 L560.37,144.10 L559.31,143.89 L558.26,143.67 L557.20,143.46 L556.14,143.25 L555.08,143.04 L554.02,142.84 L552.97,142.64 L551.91,142.45 L550.85,142.26 L549.79,142.08 L548.73,141.90 L547.68,141.73 L546.62,141.57 L545.56,141.41 L544.50,141.26 L543.44,141.12 L542.39,140.98 L541.33,140.85 L540.27,140.73 L539.21,140.62 L538.15,140.51 L537.10,140.41 L536.04,140.32 L534.98,140.24 L533.92,140.16 L532.86,140.10 L531.81,140.04 L530.75,139.99 L529.69,139.95 L528.63,139.92 L527.57,139.89 L526.52,139.88 L525.46,139.88 L524.40,139.88 L523.34,139.90 L522.28,139.94 L521.23,139.98 L520.17,140.04 L519.11,140.11 L518.05,140.20 L516.99,140.30 L515.94,140.42 L514.88,140.55 L513.82,140.70 L512.76,140.87 L511.70,141.05 L510.65,141.25 L509.59,141.47 L508.53,141.71 L507.47,141.96 L506.41,142.23 L505.36,142.52 L504.30,142.83 L503.24,143.16 L502.18,143.51 L501.12,143.87 L500.07,144.26 L499.01,144.67 L497.95,145.09 L496.89,145.54 L495.83,146.00 L494.78,146.49 L493.72,146.98 L492.66,147.50 L491.60,148.03 L490.54,148.58 L489.49,149.14 L488.43,149.71 L487.37,150.30 L486.31,150.90 L485.25,151.52 L484.20,152.14 L483.14,152.78 L482.08,153.42 L481.02,154.08 L479.96,154.74 L478.91,155.41 L477.85,156.09 L476.79,156.78 L475.73,157.47 L474.67,158.17 L473.62,158.87 L472.56,159.57 L471.50,160.28 L470.44,160.99 L469.38,161.70 L468.33,162.41 L467.27,163.12 L466.21,163.82 L465.15,164.53 L464.09,165.23 L463.04,165.94 L461.98,166.63 L460.92,167.33 L459.86,168.02 L458.80,168.70 L457.75,169.38 L456.69,170.05 L455.63,170.72 L454.57,171.38 L453.51,172.03 L452.46,172.67 L451.40,173.31 L450.34,173.93 L449.28,174.54 L448.22,175.15 L447.17,175.74 L446.11,176.32 L445.05,176.89 L443.99,177.45 L442.93,177.99 L441.88,178.52 L440.82,179.04 L439.76,179.54 L438.70,180.03 L437.64,180.51 L436.59,180.97 L435.53,181.42 L434.47,181.86 L433.41,182.28 L432.35,182.69 L431.30,183.09 L430.24,183.47 L429.18,183.84 L428.12,184.19 L427.06,184.53 L426.01,184.86 L424.95,185.18 L423.89,185.49 L422.83,185.78 L421.77,186.06 L420.72,186.33 L419.66,186.59 L418.60,186.83 L417.54,187.07 L416.48,187.30 L415.43,187.51 L414.37,187.71 L413.31,187.91 L412.25,188.09 L411.19,188.27 L410.14,188.44 L409.08,188.60 L408.02,188.75 L406.96,188.89 L405.90,189.03 L404.85,189.16 L403.79,189.28 L402.73,189.39 L401.67,189.50 L400.61,189.61 L399.56,189.70 L398.50,189.80 L397.44,189.88 L396.38,189.97 L395.32,190.05 L394.27,190.12 L393.21,190.19 L392.15,190.26 L391.09,190.33 L390.03,190.39 L388.98,190.45 L387.92,190.51 L386.86,190.57 L385.80,190.63 L384.74,190.68 L383.69,190.74 L382.63,190.79 L381.57,190.85 L380.51,190.90 L379.45,190.96 L378.40,191.02 L377.34,191.07 L376.28,191.13 Z" fill="#fcc56b" fill-opacity="0.6" stroke="none" clip-path="url(#cAR)"/>
<path d="M376.28,190.54 L377.34,190.48 L378.40,190.42 L379.45,190.37 L380.51,190.31 L381.57,190.25 L382.63,190.19 L383.69,190.13 L384.74,190.08 L385.80,190.02 L386.86,189.96 L387.92,189.90 L388.98,189.84 L390.03,189.78 L391.09,189.72 L392.15,189.66 L393.21,189.59 L394.27,189.53 L395.32,189.47 L396.38,189.40 L397.44,189.34 L398.50,189.27 L399.56,189.20 L400.61,189.13 L401.67,189.06 L402.73,188.99 L403.79,188.92 L404.85,188.85 L405.90,188.77 L406.96,188.70 L408.02,188.62 L409.08,188.54 L410.14,188.46 L411.19,188.38 L412.25,188.29 L413.31,188.21 L414.37,188.12 L415.43,188.03 L416.48,187.94 L417.54,187.85 L418.60,187.75 L419.66,187.65 L420.72,187.55 L421.77,187.45 L422.83,187.35 L423.89,187.24 L424.95,187.13 L426.01,187.02 L427.06,186.91 L428.12,186.79 L429.18,186.67 L430.24,186.55 L431.30,186.43 L432.35,186.30 L433.41,186.17 L434.47,186.03 L435.53,185.90 L436.59,185.76 L437.64,185.62 L438.70,185.47 L439.76,185.33 L440.82,185.18 L441.88,185.03 L442.93,184.88 L443.99,184.72 L445.05,184.57 L446.11,184.41 L447.17,184.25 L448.22,184.10 L449.28,183.93 L450.34,183.77 L451.40,183.61 L452.46,183.45 L453.51,183.28 L454.57,183.12 L455.63,182.95 L456.69,182.78 L457.75,182.61 L458.80,182.44 L459.86,182.27 L460.92,182.10 L461.98,181.93 L463.04,181.76 L464.09,181.58 L465.15,181.41 L466.21,181.23 L467.27,181.05 L468.33,180.87 L469.38,180.69 L470.44,180.51 L471.50,180.32 L472.56,180.14 L473.62,179.95 L474.67,179.77 L475.73,179.58 L476.79,179.39 L477.85,179.20 L478.91,179.01 L479.96,178.82 L481.02,178.62 L482.08,178.43 L483.14,178.23 L484.20,178.04 L485.25,177.84 L486.31,177.65 L487.37,177.45 L488.43,177.25 L489.49,177.06 L490.54,176.86 L491.60,176.66 L492.66,176.46 L493.72,176.26 L494.78,176.06 L495.83,175.87 L496.89,175.67 L497.95,175.47 L499.01,175.27 L500.07,175.07 L501.12,174.87 L502.18,174.67 L503.24,174.47 L504.30,174.27 L505.36,174.07 L506.41,173.87 L507.47,173.66 L508.53,173.46 L509.59,173.25 L510.65,173.04 L511.70,172.83 L512.76,172.62 L513.82,172.41 L514.88,172.19 L515.94,171.97 L516.99,171.75 L518.05,171.52 L519.11,171.29 L520.17,171.06 L521.23,170.82 L522.28,170.58 L523.34,170.34 L524.40,170.09 L525.46,169.84 L526.52,169.58 L527.57,169.31 L528.63,169.05 L529.69,168.77 L530.75,168.49 L531.81,168.21 L532.86,167.92 L533.92,167.62 L534.98,167.32 L536.04,167.02 L537.10,166.71 L538.15,166.40 L539.21,166.08 L540.27,165.75 L541.33,165.43 L542.39,165.10 L543.44,164.76 L544.50,164.42 L545.56,164.08 L546.62,163.74 L547.68,163.39 L548.73,163.04 L549.79,162.69 L550.85,162.33 L551.91,161.97 L552.97,161.61 L554.02,161.25 L555.08,160.89 L556.14,160.52 L557.20,160.15 L558.26,159.78 L559.31,159.41 L560.37,159.04 L561.43,158.67 L562.49,158.29 L563.55,157.92 L564.60,157.55 L565.66,157.17 L566.72,156.80 L566.72,156.80 L566.72,170.87 L566.72,170.87 L565.66,170.90 L564.60,170.94 L563.55,170.97 L562.49,171.00 L561.43,171.03 L560.37,171.07 L559.31,171.10 L558.26,171.13 L557.20,171.17 L556.14,171.21 L555.08,171.25 L554.02,171.28 L552.97,171.33 L551.91,171.37 L550.85,171.41 L549.79,171.46 L548.73,171.50 L547.68,171.55 L546.62,171.61 L545.56,171.66 L544.50,171.72 L543.44,171.78 L542.39,171.84 L541.33,171.90 L540.27,171.97 L539.21,172.04 L538.15,172.11 L537.10,172.19 L536.04,172.27 L534.98,172.35 L533.92,172.44 L532.86,172.53 L531.81,172.62 L530.75,172.72 L529.69,172.82 L528.63,172.93 L527.57,173.04 L526.52,173.15 L525.46,173.27 L524.40,173.39 L523.34,173.51 L522.28,173.64 L521.23,173.77 L520.17,173.91 L519.11,174.05 L518.05,174.19 L516.99,174.33 L515.94,174.47 L514.88,174.62 L513.82,174.77 L512.76,174.92 L511.70,175.08 L510.65,175.24 L509.59,175.40 L508.53,175.56 L507.47,175.72 L506.41,175.88 L505.36,176.05 L504.30,176.21 L503.24,176.38 L502.18,176.55 L501.12,176.72 L500.07,176.89 L499.01,177.06 L497.95,177.23 L496.89,177.40 L495.83,177.58 L494.78,177.75 L493.72,177.92 L492.66,178.10 L491.60,178.27 L490.54,178.45 L489.49,178.62 L488.43,178.80 L487.37,178.97 L486.31,179.15 L485.25,179.32 L484.20,179.50 L483.14,179.68 L482.08,179.85 L481.02,180.03 L479.96,180.20 L478.91,180.38 L477.85,180.56 L476.79,180.73 L475.73,180.91 L474.67,181.08 L473.62,181.26 L472.56,181.43 L471.50,181.61 L470.44,181.78 L469.38,181.96 L468.33,182.13 L467.27,182.30 L466.21,182.48 L465.15,182.65 L464.09,182.82 L463.04,182.99 L461.98,183.16 L460.92,183.33 L459.86,183.50 L458.80,183.67 L457.75,183.84 L456.69,184.01 L455.63,184.17 L454.57,184.34 L453.51,184.50 L452.46,184.67 L451.40,184.83 L450.34,185.00 L449.28,185.16 L448.22,185.32 L447.17,185.48 L446.11,185.64 L445.05,185.80 L443.99,185.95 L442.93,186.11 L441.88,186.26 L440.82,186.41 L439.76,186.56 L438.70,186.70 L437.64,186.85 L436.59,186.99 L435.53,187.13 L434.47,187.27 L433.41,187.40 L432.35,187.53 L431.30,187.66 L430.24,187.79 L429.18,187.91 L428.12,188.03 L427.06,188.15 L426.01,188.26 L424.95,188.37 L423.89,188.48 L422.83,188.59 L421.77,188.69 L420.72,188.79 L419.66,188.89 L418.60,188.99 L417.54,189.09 L416.48,189.18 L415.43,189.27 L414.37,189.36 L413.31,189.45 L412.25,189.53 L411.19,189.62 L410.14,189.70 L409.08,189.78 L408.02,189.86 L406.96,189.94 L405.90,190.01 L404.85,190.09 L403.79,190.16 L402.73,190.23 L401.67,190.31 L400.61,190.38 L399.56,190.44 L398.50,190.51 L397.44,190.58 L396.38,190.64 L395.32,190.71 L394.27,190.77 L393.21,190.84 L392.15,190.90 L391.09,190.96 L390.03,191.02 L388.98,191.08 L387.92,191.14 L386.86,191.20 L385.80,191.26 L384.74,191.32 L383.69,191.38 L382.63,191.43 L381.57,191.49 L380.51,191.55 L379.45,191.61 L378.40,191.66 L377.34,191.72 L376.28,191.78 Z" fill="#b89a6a" fill-opacity="0.35" stroke="none" clip-path="url(#cAR)"/>
<line x1="382.7" y1="176.0" x2="586" y2="176.0" stroke="#f4868e" stroke-width="2.0" stroke-dasharray="3.5 3.0" clip-path="url(#cAR)"/>
<path d="M376.28,191.16 L377.34,191.10 L378.40,191.04 L379.45,190.99 L380.51,190.93 L381.57,190.87 L382.63,190.81 L383.69,190.76 L384.74,190.70 L385.80,190.64 L386.86,190.58 L387.92,190.52 L388.98,190.46 L390.03,190.40 L391.09,190.34 L392.15,190.28 L393.21,190.21 L394.27,190.15 L395.32,190.09 L396.38,190.02 L397.44,189.96 L398.50,189.89 L399.56,189.82 L400.61,189.75 L401.67,189.68 L402.73,189.61 L403.79,189.54 L404.85,189.47 L405.90,189.39 L406.96,189.32 L408.02,189.24 L409.08,189.16 L410.14,189.08 L411.19,189.00 L412.25,188.91 L413.31,188.83 L414.37,188.74 L415.43,188.65 L416.48,188.56 L417.54,188.47 L418.60,188.37 L419.66,188.27 L420.72,188.17 L421.77,188.07 L422.83,187.97 L423.89,187.86 L424.95,187.75 L426.01,187.64 L427.06,187.53 L428.12,187.41 L429.18,187.29 L430.24,187.17 L431.30,187.04 L432.35,186.92 L433.41,186.78 L434.47,186.65 L435.53,186.51 L436.59,186.37 L437.64,186.23 L438.70,186.09 L439.76,185.94 L440.82,185.79 L441.88,185.64 L442.93,185.49 L443.99,185.34 L445.05,185.18 L446.11,185.03 L447.17,184.87 L448.22,184.71 L449.28,184.55 L450.34,184.39 L451.40,184.22 L452.46,184.06 L453.51,183.89 L454.57,183.73 L455.63,183.56 L456.69,183.40 L457.75,183.23 L458.80,183.06 L459.86,182.89 L460.92,182.72 L461.98,182.55 L463.04,182.37 L464.09,182.20 L465.15,182.03 L466.21,181.85 L467.27,181.68 L468.33,181.50 L469.38,181.32 L470.44,181.14 L471.50,180.96 L472.56,180.78 L473.62,180.60 L474.67,180.42 L475.73,180.24 L476.79,180.05 L477.85,179.87 L478.91,179.68 L479.96,179.50 L481.02,179.31 L482.08,179.13 L483.14,178.94 L484.20,178.75 L485.25,178.57 L486.31,178.38 L487.37,178.19 L488.43,178.00 L489.49,177.82 L490.54,177.63 L491.60,177.44 L492.66,177.25 L493.72,177.06 L494.78,176.88 L495.83,176.69 L496.89,176.50 L497.95,176.31 L499.01,176.13 L500.07,175.94 L501.12,175.76 L502.18,175.57 L503.24,175.38 L504.30,175.20 L505.36,175.01 L506.41,174.83 L507.47,174.64 L508.53,174.46 L509.59,174.28 L510.65,174.09 L511.70,173.91 L512.76,173.72 L513.82,173.54 L514.88,173.35 L515.94,173.17 L516.99,172.98 L518.05,172.79 L519.11,172.61 L520.17,172.42 L521.23,172.23 L522.28,172.05 L523.34,171.86 L524.40,171.67 L525.46,171.48 L526.52,171.29 L527.57,171.10 L528.63,170.91 L529.69,170.72 L530.75,170.53 L531.81,170.33 L532.86,170.14 L533.92,169.94 L534.98,169.75 L536.04,169.55 L537.10,169.35 L538.15,169.15 L539.21,168.96 L540.27,168.76 L541.33,168.56 L542.39,168.36 L543.44,168.15 L544.50,167.95 L545.56,167.75 L546.62,167.55 L547.68,167.35 L548.73,167.14 L549.79,166.94 L550.85,166.73 L551.91,166.53 L552.97,166.32 L554.02,166.12 L555.08,165.91 L556.14,165.71 L557.20,165.50 L558.26,165.30 L559.31,165.09 L560.37,164.88 L561.43,164.68 L562.49,164.47 L563.55,164.26 L564.60,164.06 L565.66,163.85 L566.72,163.64 L566.72,163.64" fill="none" stroke="#8c5a0f" stroke-width="1.5" stroke-opacity="1" clip-path="url(#cAR)"/>
<path d="M376.28,188.57 L377.34,188.52 L378.40,188.46 L379.45,188.41 L380.51,188.36 L381.57,188.30 L382.63,188.25 L383.69,188.19 L384.74,188.14 L385.80,188.09 L386.86,188.03 L387.92,187.97 L388.98,187.92 L390.03,187.86 L391.09,187.79 L392.15,187.73 L393.21,187.66 L394.27,187.59 L395.32,187.51 L396.38,187.43 L397.44,187.34 L398.50,187.25 L399.56,187.16 L400.61,187.06 L401.67,186.95 L402.73,186.83 L403.79,186.71 L404.85,186.58 L405.90,186.45 L406.96,186.31 L408.02,186.15 L409.08,185.99 L410.14,185.82 L411.19,185.65 L412.25,185.46 L413.31,185.26 L414.37,185.05 L415.43,184.83 L416.48,184.60 L417.54,184.36 L418.60,184.10 L419.66,183.84 L420.72,183.56 L421.77,183.27 L422.83,182.96 L423.89,182.64 L424.95,182.30 L426.01,181.95 L427.06,181.58 L428.12,181.20 L429.18,180.79 L430.24,180.37 L431.30,179.93 L432.35,179.47 L433.41,178.99 L434.47,178.49 L435.53,177.97 L436.59,177.42 L437.64,176.86 L438.70,176.27 L439.76,175.65 L440.82,175.01 L441.88,174.34 L442.93,173.64 L443.99,172.92 L445.05,172.17 L446.11,171.39 L447.17,170.58 L448.22,169.75 L449.28,168.89 L450.34,168.01 L451.40,167.10 L452.46,166.18 L453.51,165.23 L454.57,164.27 L455.63,163.28 L456.69,162.28 L457.75,161.25 L458.80,160.22 L459.86,159.16 L460.92,158.09 L461.98,157.01 L463.04,155.91 L464.09,154.80 L465.15,153.68 L466.21,152.55 L467.27,151.40 L468.33,150.25 L469.38,149.09 L470.44,147.92 L471.50,146.74 L472.56,145.55 L473.62,144.36 L474.67,143.16 L475.73,141.96 L476.79,140.74 L477.85,139.53 L478.91,138.30 L479.96,137.08 L481.02,135.84 L482.08,134.61 L483.14,133.37 L484.20,132.13 L485.25,130.88 L486.31,129.63 L487.37,128.37 L488.43,127.11 L489.49,125.84 L490.54,124.58 L491.60,123.30 L492.66,122.02 L493.72,120.73 L494.78,119.44 L495.83,118.15 L496.89,116.84 L497.95,115.53 L499.01,114.22 L500.07,112.90 L501.12,111.57 L502.18,110.24 L503.24,108.90 L504.30,107.56 L505.36,106.22 L506.41,104.88 L507.47,103.54 L508.53,102.21 L509.59,100.88 L510.65,99.55 L511.70,98.23 L512.76,96.92 L513.82,95.61 L514.88,94.31 L515.94,93.02 L516.99,91.73 L518.05,90.44 L519.11,89.17 L520.17,87.89 L521.23,86.63 L522.28,85.37 L523.34,84.11 L524.40,82.86 L525.46,81.62 L526.52,80.38 L527.57,79.15 L528.63,77.92 L529.69,76.70 L530.75,75.48 L531.81,74.27 L532.86,73.06 L533.92,71.85 L534.98,70.65 L536.04,69.46 L537.10,68.26 L538.15,67.07 L539.21,65.89 L540.27,64.71 L541.33,63.53 L542.39,62.35 L543.44,61.18 L544.50,60.01 L545.56,58.84 L546.62,57.67 L547.68,56.51 L548.73,55.34 L549.79,54.18 L550.85,53.03 L551.91,51.87 L552.97,50.71 L554.02,49.56 L555.08,48.41 L556.14,47.26 L557.20,46.11 L558.26,44.96 L559.31,43.81 L560.37,42.66 L561.43,41.52 L562.49,40.37 L563.55,39.23 L564.60,38.08 L565.66,36.94 L566.72,35.79 L566.72,35.79" fill="none" stroke="#fecc78" stroke-width="1.3" stroke-opacity="1" clip-path="url(#cAR)"/>
<path d="M376.28,189.57 L377.34,189.52 L378.40,189.46 L379.45,189.41 L380.51,189.36 L381.57,189.31 L382.63,189.26 L383.69,189.21 L384.74,189.16 L385.80,189.10 L386.86,189.05 L387.92,189.00 L388.98,188.94 L390.03,188.89 L391.09,188.83 L392.15,188.77 L393.21,188.70 L394.27,188.64 L395.32,188.56 L396.38,188.49 L397.44,188.41 L398.50,188.33 L399.56,188.24 L400.61,188.15 L401.67,188.05 L402.73,187.94 L403.79,187.83 L404.85,187.71 L405.90,187.59 L406.96,187.46 L408.02,187.32 L409.08,187.17 L410.14,187.02 L411.19,186.85 L412.25,186.68 L413.31,186.50 L414.37,186.31 L415.43,186.10 L416.48,185.89 L417.54,185.67 L418.60,185.44 L419.66,185.19 L420.72,184.93 L421.77,184.67 L422.83,184.39 L423.89,184.10 L424.95,183.79 L426.01,183.47 L427.06,183.15 L428.12,182.80 L429.18,182.45 L430.24,182.08 L431.30,181.70 L432.35,181.30 L433.41,180.89 L434.47,180.47 L435.53,180.03 L436.59,179.58 L437.64,179.11 L438.70,178.63 L439.76,178.14 L440.82,177.63 L441.88,177.11 L442.93,176.58 L443.99,176.03 L445.05,175.47 L446.11,174.90 L447.17,174.31 L448.22,173.72 L449.28,173.11 L450.34,172.49 L451.40,171.86 L452.46,171.22 L453.51,170.57 L454.57,169.92 L455.63,169.25 L456.69,168.58 L457.75,167.90 L458.80,167.22 L459.86,166.53 L460.92,165.83 L461.98,165.13 L463.04,164.42 L464.09,163.72 L465.15,163.00 L466.21,162.29 L467.27,161.57 L468.33,160.86 L469.38,160.14 L470.44,159.42 L471.50,158.70 L472.56,157.98 L473.62,157.27 L474.67,156.56 L475.73,155.85 L476.79,155.15 L477.85,154.45 L478.91,153.75 L479.96,153.07 L481.02,152.39 L482.08,151.72 L483.14,151.06 L484.20,150.41 L485.25,149.77 L486.31,149.14 L487.37,148.52 L488.43,147.91 L489.49,147.32 L490.54,146.73 L491.60,146.17 L492.66,145.62 L493.72,145.08 L494.78,144.56 L495.83,144.05 L496.89,143.57 L497.95,143.10 L499.01,142.65 L500.07,142.21 L501.12,141.80 L502.18,141.41 L503.24,141.03 L504.30,140.67 L505.36,140.33 L506.41,140.01 L507.47,139.70 L508.53,139.41 L509.59,139.14 L510.65,138.88 L511.70,138.64 L512.76,138.41 L513.82,138.20 L514.88,138.00 L515.94,137.81 L516.99,137.64 L518.05,137.48 L519.11,137.33 L520.17,137.19 L521.23,137.06 L522.28,136.95 L523.34,136.84 L524.40,136.74 L525.46,136.66 L526.52,136.57 L527.57,136.50 L528.63,136.43 L529.69,136.37 L530.75,136.32 L531.81,136.26 L532.86,136.22 L533.92,136.18 L534.98,136.14 L536.04,136.11 L537.10,136.08 L538.15,136.06 L539.21,136.05 L540.27,136.04 L541.33,136.03 L542.39,136.03 L543.44,136.03 L544.50,136.04 L545.56,136.05 L546.62,136.07 L547.68,136.10 L548.73,136.12 L549.79,136.16 L550.85,136.19 L551.91,136.23 L552.97,136.27 L554.02,136.32 L555.08,136.37 L556.14,136.42 L557.20,136.48 L558.26,136.53 L559.31,136.59 L560.37,136.65 L561.43,136.71 L562.49,136.78 L563.55,136.84 L564.60,136.90 L565.66,136.97 L566.72,137.04 L566.72,137.04" fill="none" stroke="#f7a523" stroke-width="1.6" stroke-opacity="1" clip-path="url(#cAR)"/>
<line x1="468.4" y1="28.3" x2="468.4" y2="207.2" stroke="#111" stroke-width="1.2" stroke-dasharray="3.5 2.95"/>
<rect x="381" y="28.5" width="1" height="178.50" fill="#000" fill-opacity="0.098"/>
<rect x="382" y="28.5" width="1" height="178.50" fill="#000" fill-opacity="0.498"/>
<rect x="383" y="28.5" width="1" height="178.50" fill="#000" fill-opacity="0.098"/>
<rect x="382" y="206" width="204.00" height="1" fill="#000" fill-opacity="0.075"/>
<rect x="382" y="207" width="204.00" height="1" fill="#000" fill-opacity="0.498"/>
<rect x="382" y="208" width="204.00" height="1" fill="#000" fill-opacity="0.075"/>
<line x1="381.50" y1="191.30" x2="382.5" y2="191.30" stroke="#666" stroke-width="0.9"/>
<line x1="381.50" y1="152.55" x2="382.5" y2="152.55" stroke="#666" stroke-width="0.9"/>
<line x1="381.50" y1="113.80" x2="382.5" y2="113.80" stroke="#666" stroke-width="0.9"/>
<line x1="381.50" y1="75.05" x2="382.5" y2="75.05" stroke="#666" stroke-width="0.9"/>
<line x1="381.50" y1="36.30" x2="382.5" y2="36.30" stroke="#666" stroke-width="0.9"/>
<line x1="418.60" y1="207.2" x2="418.60" y2="208.2" stroke="#666" stroke-width="0.9"/>
<line x1="471.50" y1="207.2" x2="471.50" y2="208.2" stroke="#666" stroke-width="0.9"/>
<line x1="524.40" y1="207.2" x2="524.40" y2="208.2" stroke="#666" stroke-width="0.9"/>
<line x1="577.30" y1="207.2" x2="577.30" y2="208.2" stroke="#666" stroke-width="0.9"/>
<text x="374.43" y="193.20" font-size="9.5" font-weight="normal" fill="#222" stroke="#222" stroke-width="0.18">0</text>
<text x="374.43" y="154.45" font-size="9.5" font-weight="normal" fill="#222" stroke="#222" stroke-width="0.18">5</text>
<text x="369.15" y="115.70" font-size="9.5" font-weight="normal" fill="#222" stroke="#222" stroke-width="0.18">10</text>
<text x="369.15" y="76.95" font-size="9.5" font-weight="normal" fill="#222" stroke="#222" stroke-width="0.18">15</text>
<text x="369.15" y="38.20" font-size="9.5" font-weight="normal" fill="#222" stroke="#222" stroke-width="0.18">20</text>
<text x="407.10" y="216.80" font-size="9.5" font-weight="normal" fill="#222" stroke="#222" stroke-width="0.18">−10</text>
<text x="466.36" y="216.80" font-size="9.5" font-weight="normal" fill="#222" stroke="#222" stroke-width="0.18">0</text>
<text x="518.03" y="216.80" font-size="9.5" font-weight="normal" fill="#222" stroke="#222" stroke-width="0.18">10</text>
<text x="571.48" y="216.80" font-size="9.5" font-weight="normal" fill="#222" stroke="#222" stroke-width="0.18">20</text>
<line x1="72.20" y1="310.1" x2="72.20" y2="486.5" stroke="#efefef" stroke-width="1"/>
<line x1="122.50" y1="310.1" x2="122.50" y2="486.5" stroke="#efefef" stroke-width="1"/>
<line x1="172.80" y1="310.1" x2="172.80" y2="486.5" stroke="#efefef" stroke-width="1"/>
<line x1="223.10" y1="310.1" x2="223.10" y2="486.5" stroke="#efefef" stroke-width="1"/>
<line x1="37.5" y1="471.00" x2="242" y2="471.00" stroke="#efefef" stroke-width="1"/>
<line x1="37.5" y1="432.79" x2="242" y2="432.79" stroke="#efefef" stroke-width="1"/>
<line x1="37.5" y1="394.58" x2="242" y2="394.58" stroke="#efefef" stroke-width="1"/>
<line x1="37.5" y1="356.37" x2="242" y2="356.37" stroke="#efefef" stroke-width="1"/>
<line x1="37.5" y1="318.16" x2="242" y2="318.16" stroke="#efefef" stroke-width="1"/>
<path d="M31.96,467.57 L32.97,467.57 L33.97,467.57 L34.98,467.57 L35.98,467.57 L36.99,467.57 L38.00,467.57 L39.00,467.56 L40.01,467.56 L41.01,467.56 L42.02,467.56 L43.03,467.56 L44.03,467.55 L45.04,467.55 L46.04,467.55 L47.05,467.54 L48.06,467.54 L49.06,467.53 L50.07,467.53 L51.07,467.52 L52.08,467.52 L53.09,467.51 L54.09,467.50 L55.10,467.49 L56.10,467.48 L57.11,467.47 L58.12,467.46 L59.12,467.45 L60.13,467.44 L61.13,467.42 L62.14,467.41 L63.15,467.39 L64.15,467.37 L65.16,467.36 L66.16,467.34 L67.17,467.32 L68.18,467.29 L69.18,467.27 L70.19,467.25 L71.19,467.22 L72.20,467.19 L73.21,467.16 L74.21,467.13 L75.22,467.10 L76.22,467.07 L77.23,467.03 L78.24,467.00 L79.24,466.96 L80.25,466.92 L81.25,466.88 L82.26,466.83 L83.27,466.78 L84.27,466.73 L85.28,466.68 L86.28,466.63 L87.29,466.57 L88.30,466.51 L89.30,466.45 L90.31,466.39 L91.31,466.32 L92.32,466.25 L93.33,466.18 L94.33,466.10 L95.34,466.02 L96.34,465.94 L97.35,465.86 L98.36,465.77 L99.36,465.68 L100.37,465.58 L101.37,465.48 L102.38,465.37 L103.39,465.26 L104.39,465.13 L105.40,465.01 L106.40,464.87 L107.41,464.72 L108.42,464.57 L109.42,464.40 L110.43,464.22 L111.43,464.04 L112.44,463.84 L113.45,463.62 L114.45,463.40 L115.46,463.16 L116.46,462.90 L117.47,462.63 L118.48,462.35 L119.48,462.05 L120.49,461.73 L121.49,461.39 L122.50,461.04 L123.51,460.67 L124.51,460.28 L125.52,459.88 L126.52,459.46 L127.53,459.03 L128.54,458.58 L129.54,458.11 L130.55,457.63 L131.55,457.14 L132.56,456.63 L133.57,456.10 L134.57,455.57 L135.58,455.02 L136.58,454.46 L137.59,453.88 L138.60,453.30 L139.60,452.71 L140.61,452.10 L141.61,451.49 L142.62,450.87 L143.63,450.24 L144.63,449.60 L145.64,448.96 L146.64,448.31 L147.65,447.65 L148.66,446.98 L149.66,446.32 L150.67,445.64 L151.67,444.96 L152.68,444.28 L153.69,443.60 L154.69,442.91 L155.70,442.22 L156.70,441.52 L157.71,440.83 L158.72,440.12 L159.72,439.42 L160.73,438.71 L161.73,438.00 L162.74,437.28 L163.75,436.57 L164.75,435.84 L165.76,435.12 L166.76,434.39 L167.77,433.66 L168.78,432.93 L169.78,432.19 L170.79,431.45 L171.79,430.71 L172.80,429.96 L173.81,429.21 L174.81,428.46 L175.82,427.71 L176.82,426.95 L177.83,426.18 L178.84,425.41 L179.84,424.63 L180.85,423.85 L181.85,423.06 L182.86,422.26 L183.87,421.45 L184.87,420.64 L185.88,419.81 L186.88,418.97 L187.89,418.13 L188.90,417.27 L189.90,416.40 L190.91,415.51 L191.91,414.62 L192.92,413.71 L193.93,412.78 L194.93,411.84 L195.94,410.89 L196.94,409.92 L197.95,408.93 L198.96,407.93 L199.96,406.91 L200.97,405.87 L201.97,404.81 L202.98,403.74 L203.99,402.64 L204.99,401.52 L206.00,400.39 L207.00,399.23 L208.01,398.06 L209.02,396.86 L210.02,395.65 L211.03,394.42 L212.03,393.17 L213.04,391.90 L214.05,390.61 L215.05,389.30 L216.06,387.97 L217.06,386.63 L218.07,385.26 L219.08,383.88 L220.08,382.48 L221.09,381.06 L222.09,379.62 L223.10,378.16 L224.11,376.69 L225.11,375.20 L226.12,373.69 L227.12,372.17 L228.13,370.63 L229.14,369.08 L230.14,367.52 L231.15,365.94 L232.15,364.36 L233.16,362.77 L234.17,361.17 L235.17,359.56 L236.18,357.95 L237.18,356.33 L238.19,354.71 L239.20,353.09 L240.20,351.46 L240.71,350.65 L240.71,395.36 L240.20,395.80 L239.20,396.68 L238.19,397.57 L237.18,398.45 L236.18,399.33 L235.17,400.22 L234.17,401.10 L233.16,401.98 L232.15,402.86 L231.15,403.74 L230.14,404.62 L229.14,405.50 L228.13,406.38 L227.12,407.26 L226.12,408.14 L225.11,409.02 L224.11,409.90 L223.10,410.78 L222.09,411.65 L221.09,412.53 L220.08,413.40 L219.08,414.27 L218.07,415.14 L217.06,416.00 L216.06,416.87 L215.05,417.73 L214.05,418.58 L213.04,419.43 L212.03,420.27 L211.03,421.11 L210.02,421.95 L209.02,422.77 L208.01,423.59 L207.00,424.40 L206.00,425.21 L204.99,426.01 L203.99,426.79 L202.98,427.57 L201.97,428.34 L200.97,429.10 L199.96,429.85 L198.96,430.59 L197.95,431.33 L196.94,432.05 L195.94,432.77 L194.93,433.47 L193.93,434.17 L192.92,434.87 L191.91,435.55 L190.91,436.23 L189.90,436.89 L188.90,437.56 L187.89,438.21 L186.88,438.86 L185.88,439.51 L184.87,440.14 L183.87,440.77 L182.86,441.40 L181.85,442.02 L180.85,442.63 L179.84,443.24 L178.84,443.85 L177.83,444.45 L176.82,445.05 L175.82,445.64 L174.81,446.23 L173.81,446.81 L172.80,447.40 L171.79,447.98 L170.79,448.55 L169.78,449.12 L168.78,449.69 L167.77,450.26 L166.76,450.82 L165.76,451.38 L164.75,451.94 L163.75,452.49 L162.74,453.04 L161.73,453.58 L160.73,454.13 L159.72,454.67 L158.72,455.20 L157.71,455.74 L156.70,456.27 L155.70,456.79 L154.69,457.32 L153.69,457.84 L152.68,458.35 L151.67,458.87 L150.67,459.38 L149.66,459.88 L148.66,460.38 L147.65,460.88 L146.64,461.37 L145.64,461.85 L144.63,462.33 L143.63,462.79 L142.62,463.25 L141.61,463.70 L140.61,464.14 L139.60,464.56 L138.60,464.98 L137.59,465.38 L136.58,465.77 L135.58,466.14 L134.57,466.50 L133.57,466.84 L132.56,467.17 L131.55,467.48 L130.55,467.77 L129.54,468.05 L128.54,468.30 L127.53,468.54 L126.52,468.76 L125.52,468.97 L124.51,469.16 L123.51,469.35 L122.50,469.52 L121.49,469.69 L120.49,469.84 L119.48,469.99 L118.48,470.14 L117.47,470.28 L116.46,470.41 L115.46,470.54 L114.45,470.67 L113.45,470.79 L112.44,470.90 L111.43,471.01 L110.43,471.12 L109.42,471.22 L108.42,471.32 L107.41,471.41 L106.40,471.51 L105.40,471.59 L104.39,471.68 L103.39,471.76 L102.38,471.84 L101.37,471.92 L100.37,471.99 L99.36,472.06 L98.36,472.13 L97.35,472.19 L96.34,472.26 L95.34,472.32 L94.33,472.38 L93.33,472.44 L92.32,472.50 L91.31,472.55 L90.31,472.61 L89.30,472.66 L88.30,472.71 L87.29,472.75 L86.28,472.80 L85.28,472.85 L84.27,472.89 L83.27,472.93 L82.26,472.97 L81.25,473.01 L80.25,473.05 L79.24,473.08 L78.24,473.12 L77.23,473.15 L76.22,473.18 L75.22,473.21 L74.21,473.24 L73.21,473.27 L72.20,473.29 L71.19,473.32 L70.19,473.34 L69.18,473.37 L68.18,473.39 L67.17,473.41 L66.16,473.43 L65.16,473.45 L64.15,473.46 L63.15,473.48 L62.14,473.50 L61.13,473.51 L60.13,473.52 L59.12,473.54 L58.12,473.55 L57.11,473.56 L56.10,473.57 L55.10,473.58 L54.09,473.59 L53.09,473.60 L52.08,473.61 L51.07,473.62 L50.07,473.62 L49.06,473.63 L48.06,473.64 L47.05,473.64 L46.04,473.65 L45.04,473.65 L44.03,473.65 L43.03,473.66 L42.02,473.66 L41.01,473.67 L40.01,473.67 L39.00,473.67 L38.00,473.67 L36.99,473.68 L35.98,473.68 L34.98,473.68 L33.97,473.68 L32.97,473.68 L31.96,473.69 Z" fill="#f3e6ff" fill-opacity="0.38" stroke="none" clip-path="url(#cBL)"/>
<path d="M31.96,469.46 L32.97,469.46 L33.97,469.46 L34.98,469.47 L35.98,469.47 L36.99,469.47 L38.00,469.48 L39.00,469.48 L40.01,469.48 L41.01,469.49 L42.02,469.49 L43.03,469.50 L44.03,469.50 L45.04,469.51 L46.04,469.51 L47.05,469.52 L48.06,469.53 L49.06,469.54 L50.07,469.54 L51.07,469.55 L52.08,469.56 L53.09,469.57 L54.09,469.58 L55.10,469.59 L56.10,469.60 L57.11,469.62 L58.12,469.63 L59.12,469.64 L60.13,469.66 L61.13,469.67 L62.14,469.69 L63.15,469.71 L64.15,469.73 L65.16,469.75 L66.16,469.76 L67.17,469.78 L68.18,469.80 L69.18,469.82 L70.19,469.85 L71.19,469.87 L72.20,469.89 L73.21,469.91 L74.21,469.93 L75.22,469.95 L76.22,469.97 L77.23,469.99 L78.24,470.01 L79.24,470.03 L80.25,470.05 L81.25,470.07 L82.26,470.09 L83.27,470.11 L84.27,470.13 L85.28,470.15 L86.28,470.16 L87.29,470.18 L88.30,470.20 L89.30,470.21 L90.31,470.22 L91.31,470.24 L92.32,470.25 L93.33,470.26 L94.33,470.26 L95.34,470.27 L96.34,470.27 L97.35,470.27 L98.36,470.26 L99.36,470.25 L100.37,470.23 L101.37,470.21 L102.38,470.18 L103.39,470.15 L104.39,470.11 L105.40,470.06 L106.40,470.01 L107.41,469.95 L108.42,469.88 L109.42,469.80 L110.43,469.71 L111.43,469.61 L112.44,469.50 L113.45,469.38 L114.45,469.25 L115.46,469.11 L116.46,468.96 L117.47,468.80 L118.48,468.63 L119.48,468.45 L120.49,468.26 L121.49,468.07 L122.50,467.86 L123.51,467.64 L124.51,467.42 L125.52,467.19 L126.52,466.95 L127.53,466.71 L128.54,466.46 L129.54,466.21 L130.55,465.95 L131.55,465.69 L132.56,465.43 L133.57,465.16 L134.57,464.90 L135.58,464.63 L136.58,464.36 L137.59,464.09 L138.60,463.83 L139.60,463.56 L140.61,463.30 L141.61,463.04 L142.62,462.78 L143.63,462.52 L144.63,462.27 L145.64,462.01 L146.64,461.76 L147.65,461.51 L148.66,461.26 L149.66,461.02 L150.67,460.78 L151.67,460.54 L152.68,460.30 L153.69,460.06 L154.69,459.82 L155.70,459.59 L156.70,459.35 L157.71,459.11 L158.72,458.87 L159.72,458.62 L160.73,458.37 L161.73,458.12 L162.74,457.86 L163.75,457.59 L164.75,457.32 L165.76,457.04 L166.76,456.74 L167.77,456.44 L168.78,456.13 L169.78,455.81 L170.79,455.48 L171.79,455.13 L172.80,454.77 L173.81,454.40 L174.81,454.01 L175.82,453.60 L176.82,453.18 L177.83,452.75 L178.84,452.30 L179.84,451.83 L180.85,451.35 L181.85,450.85 L182.86,450.33 L183.87,449.80 L184.87,449.25 L185.88,448.68 L186.88,448.09 L187.89,447.48 L188.90,446.86 L189.90,446.21 L190.91,445.55 L191.91,444.86 L192.92,444.16 L193.93,443.44 L194.93,442.69 L195.94,441.93 L196.94,441.14 L197.95,440.33 L198.96,439.50 L199.96,438.65 L200.97,437.78 L201.97,436.88 L202.98,435.96 L203.99,435.02 L204.99,434.05 L206.00,433.06 L207.00,432.05 L208.01,431.02 L209.02,429.96 L210.02,428.89 L211.03,427.79 L212.03,426.67 L213.04,425.53 L214.05,424.36 L215.05,423.18 L216.06,421.98 L217.06,420.75 L218.07,419.51 L219.08,418.24 L220.08,416.96 L221.09,415.66 L222.09,414.33 L223.10,412.99 L224.11,411.63 L225.11,410.25 L226.12,408.85 L227.12,407.44 L228.13,406.01 L229.14,404.57 L230.14,403.11 L231.15,401.65 L232.15,400.17 L233.16,398.68 L234.17,397.19 L235.17,395.69 L236.18,394.18 L237.18,392.67 L238.19,391.15 L239.20,389.63 L240.20,388.11 L240.71,387.35 L240.71,420.55 L240.20,420.95 L239.20,421.77 L238.19,422.59 L237.18,423.41 L236.18,424.22 L235.17,425.04 L234.17,425.86 L233.16,426.68 L232.15,427.50 L231.15,428.31 L230.14,429.13 L229.14,429.95 L228.13,430.77 L227.12,431.60 L226.12,432.42 L225.11,433.24 L224.11,434.06 L223.10,434.89 L222.09,435.71 L221.09,436.54 L220.08,437.36 L219.08,438.18 L218.07,439.00 L217.06,439.81 L216.06,440.62 L215.05,441.43 L214.05,442.23 L213.04,443.02 L212.03,443.81 L211.03,444.59 L210.02,445.35 L209.02,446.11 L208.01,446.86 L207.00,447.60 L206.00,448.32 L204.99,449.03 L203.99,449.73 L202.98,450.41 L201.97,451.07 L200.97,451.72 L199.96,452.36 L198.96,452.98 L197.95,453.58 L196.94,454.17 L195.94,454.74 L194.93,455.30 L193.93,455.85 L192.92,456.38 L191.91,456.90 L190.91,457.40 L189.90,457.89 L188.90,458.37 L187.89,458.83 L186.88,459.28 L185.88,459.72 L184.87,460.15 L183.87,460.56 L182.86,460.97 L181.85,461.36 L180.85,461.74 L179.84,462.11 L178.84,462.47 L177.83,462.81 L176.82,463.15 L175.82,463.48 L174.81,463.79 L173.81,464.10 L172.80,464.39 L171.79,464.68 L170.79,464.96 L169.78,465.23 L168.78,465.49 L167.77,465.75 L166.76,466.00 L165.76,466.24 L164.75,466.48 L163.75,466.71 L162.74,466.94 L161.73,467.16 L160.73,467.38 L159.72,467.59 L158.72,467.81 L157.71,468.02 L156.70,468.23 L155.70,468.44 L154.69,468.65 L153.69,468.85 L152.68,469.06 L151.67,469.27 L150.67,469.48 L149.66,469.70 L148.66,469.91 L147.65,470.13 L146.64,470.34 L145.64,470.56 L144.63,470.78 L143.63,471.00 L142.62,471.22 L141.61,471.44 L140.61,471.66 L139.60,471.88 L138.60,472.10 L137.59,472.31 L136.58,472.53 L135.58,472.75 L134.57,472.97 L133.57,473.18 L132.56,473.39 L131.55,473.60 L130.55,473.81 L129.54,474.02 L128.54,474.22 L127.53,474.42 L126.52,474.61 L125.52,474.80 L124.51,474.99 L123.51,475.17 L122.50,475.34 L121.49,475.52 L120.49,475.68 L119.48,475.84 L118.48,475.99 L117.47,476.14 L116.46,476.28 L115.46,476.41 L114.45,476.53 L113.45,476.65 L112.44,476.76 L111.43,476.86 L110.43,476.96 L109.42,477.04 L108.42,477.12 L107.41,477.19 L106.40,477.25 L105.40,477.31 L104.39,477.36 L103.39,477.41 L102.38,477.45 L101.37,477.48 L100.37,477.51 L99.36,477.53 L98.36,477.55 L97.35,477.57 L96.34,477.58 L95.34,477.58 L94.33,477.59 L93.33,477.59 L92.32,477.59 L91.31,477.58 L90.31,477.58 L89.30,477.57 L88.30,477.56 L87.29,477.55 L86.28,477.54 L85.28,477.53 L84.27,477.51 L83.27,477.50 L82.26,477.48 L81.25,477.46 L80.25,477.44 L79.24,477.42 L78.24,477.40 L77.23,477.38 L76.22,477.36 L75.22,477.34 L74.21,477.31 L73.21,477.29 L72.20,477.27 L71.19,477.25 L70.19,477.22 L69.18,477.20 L68.18,477.18 L67.17,477.16 L66.16,477.13 L65.16,477.11 L64.15,477.09 L63.15,477.07 L62.14,477.05 L61.13,477.03 L60.13,477.01 L59.12,477.00 L58.12,476.98 L57.11,476.97 L56.10,476.95 L55.10,476.94 L54.09,476.93 L53.09,476.91 L52.08,476.90 L51.07,476.89 L50.07,476.88 L49.06,476.87 L48.06,476.86 L47.05,476.85 L46.04,476.85 L45.04,476.84 L44.03,476.83 L43.03,476.82 L42.02,476.81 L41.01,476.81 L40.01,476.80 L39.00,476.79 L38.00,476.79 L36.99,476.78 L35.98,476.77 L34.98,476.76 L33.97,476.75 L32.97,476.75 L31.96,476.74 Z" fill="#e9d8ff" fill-opacity="0.48" stroke="none" clip-path="url(#cBL)"/>
<path d="M31.96,467.19 L32.97,467.19 L33.97,467.18 L34.98,467.18 L35.98,467.17 L36.99,467.17 L38.00,467.16 L39.00,467.15 L40.01,467.15 L41.01,467.14 L42.02,467.13 L43.03,467.13 L44.03,467.12 L45.04,467.11 L46.04,467.11 L47.05,467.10 L48.06,467.09 L49.06,467.08 L50.07,467.07 L51.07,467.07 L52.08,467.06 L53.09,467.05 L54.09,467.04 L55.10,467.03 L56.10,467.02 L57.11,467.01 L58.12,467.00 L59.12,466.99 L60.13,466.98 L61.13,466.97 L62.14,466.96 L63.15,466.95 L64.15,466.94 L65.16,466.93 L66.16,466.92 L67.17,466.91 L68.18,466.90 L69.18,466.89 L70.19,466.87 L71.19,466.86 L72.20,466.85 L73.21,466.84 L74.21,466.83 L75.22,466.82 L76.22,466.80 L77.23,466.79 L78.24,466.77 L79.24,466.76 L80.25,466.74 L81.25,466.72 L82.26,466.70 L83.27,466.68 L84.27,466.66 L85.28,466.64 L86.28,466.61 L87.29,466.58 L88.30,466.55 L89.30,466.52 L90.31,466.48 L91.31,466.44 L92.32,466.40 L93.33,466.36 L94.33,466.31 L95.34,466.26 L96.34,466.20 L97.35,466.15 L98.36,466.09 L99.36,466.02 L100.37,465.95 L101.37,465.88 L102.38,465.80 L103.39,465.72 L104.39,465.63 L105.40,465.54 L106.40,465.44 L107.41,465.34 L108.42,465.23 L109.42,465.12 L110.43,465.01 L111.43,464.88 L112.44,464.75 L113.45,464.62 L114.45,464.48 L115.46,464.33 L116.46,464.18 L117.47,464.02 L118.48,463.85 L119.48,463.68 L120.49,463.50 L121.49,463.31 L122.50,463.12 L123.51,462.92 L124.51,462.71 L125.52,462.50 L126.52,462.28 L127.53,462.05 L128.54,461.82 L129.54,461.59 L130.55,461.35 L131.55,461.11 L132.56,460.86 L133.57,460.62 L134.57,460.37 L135.58,460.12 L136.58,459.87 L137.59,459.61 L138.60,459.36 L139.60,459.11 L140.61,458.86 L141.61,458.61 L142.62,458.36 L143.63,458.11 L144.63,457.87 L145.64,457.62 L146.64,457.38 L147.65,457.13 L148.66,456.89 L149.66,456.65 L150.67,456.41 L151.67,456.17 L152.68,455.92 L153.69,455.68 L154.69,455.44 L155.70,455.20 L156.70,454.96 L157.71,454.72 L158.72,454.48 L159.72,454.24 L160.73,454.00 L161.73,453.76 L162.74,453.52 L163.75,453.27 L164.75,453.03 L165.76,452.79 L166.76,452.54 L167.77,452.30 L168.78,452.05 L169.78,451.81 L170.79,451.56 L171.79,451.31 L172.80,451.06 L173.81,450.81 L174.81,450.56 L175.82,450.30 L176.82,450.05 L177.83,449.80 L178.84,449.54 L179.84,449.28 L180.85,449.03 L181.85,448.77 L182.86,448.51 L183.87,448.26 L184.87,448.00 L185.88,447.74 L186.88,447.48 L187.89,447.23 L188.90,446.97 L189.90,446.72 L190.91,446.46 L191.91,446.21 L192.92,445.95 L193.93,445.70 L194.93,445.45 L195.94,445.20 L196.94,444.95 L197.95,444.70 L198.96,444.46 L199.96,444.21 L200.97,443.97 L201.97,443.73 L202.98,443.49 L203.99,443.25 L204.99,443.02 L206.00,442.79 L207.00,442.55 L208.01,442.32 L209.02,442.09 L210.02,441.86 L211.03,441.64 L212.03,441.41 L213.04,441.18 L214.05,440.95 L215.05,440.72 L216.06,440.49 L217.06,440.26 L218.07,440.03 L219.08,439.79 L220.08,439.56 L221.09,439.32 L222.09,439.08 L223.10,438.84 L224.11,438.60 L225.11,438.36 L226.12,438.11 L227.12,437.86 L228.13,437.61 L229.14,437.36 L230.14,437.10 L231.15,436.85 L232.15,436.59 L233.16,436.33 L234.17,436.07 L235.17,435.81 L236.18,435.55 L237.18,435.29 L238.19,435.03 L239.20,434.76 L240.20,434.50 L240.71,434.37 L240.71,446.57 L240.20,446.64 L239.20,446.76 L238.19,446.89 L237.18,447.02 L236.18,447.15 L235.17,447.27 L234.17,447.40 L233.16,447.52 L232.15,447.65 L231.15,447.77 L230.14,447.90 L229.14,448.02 L228.13,448.14 L227.12,448.27 L226.12,448.39 L225.11,448.51 L224.11,448.62 L223.10,448.74 L222.09,448.86 L221.09,448.97 L220.08,449.09 L219.08,449.20 L218.07,449.31 L217.06,449.43 L216.06,449.54 L215.05,449.66 L214.05,449.78 L213.04,449.89 L212.03,450.01 L211.03,450.13 L210.02,450.26 L209.02,450.38 L208.01,450.51 L207.00,450.65 L206.00,450.78 L204.99,450.92 L203.99,451.06 L202.98,451.21 L201.97,451.36 L200.97,451.52 L199.96,451.68 L198.96,451.84 L197.95,452.01 L196.94,452.19 L195.94,452.36 L194.93,452.54 L193.93,452.73 L192.92,452.91 L191.91,453.11 L190.91,453.30 L189.90,453.50 L188.90,453.70 L187.89,453.90 L186.88,454.11 L185.88,454.31 L184.87,454.52 L183.87,454.74 L182.86,454.95 L181.85,455.17 L180.85,455.39 L179.84,455.61 L178.84,455.83 L177.83,456.06 L176.82,456.28 L175.82,456.51 L174.81,456.74 L173.81,456.96 L172.80,457.19 L171.79,457.42 L170.79,457.65 L169.78,457.89 L168.78,458.12 L167.77,458.35 L166.76,458.58 L165.76,458.82 L164.75,459.05 L163.75,459.29 L162.74,459.53 L161.73,459.76 L160.73,460.00 L159.72,460.24 L158.72,460.48 L157.71,460.72 L156.70,460.96 L155.70,461.20 L154.69,461.45 L153.69,461.69 L152.68,461.94 L151.67,462.18 L150.67,462.43 L149.66,462.67 L148.66,462.92 L147.65,463.17 L146.64,463.42 L145.64,463.67 L144.63,463.92 L143.63,464.17 L142.62,464.42 L141.61,464.68 L140.61,464.93 L139.60,465.19 L138.60,465.44 L137.59,465.70 L136.58,465.95 L135.58,466.21 L134.57,466.46 L133.57,466.71 L132.56,466.96 L131.55,467.21 L130.55,467.46 L129.54,467.70 L128.54,467.93 L127.53,468.17 L126.52,468.39 L125.52,468.62 L124.51,468.83 L123.51,469.04 L122.50,469.25 L121.49,469.45 L120.49,469.64 L119.48,469.82 L118.48,470.00 L117.47,470.17 L116.46,470.33 L115.46,470.49 L114.45,470.64 L113.45,470.78 L112.44,470.92 L111.43,471.06 L110.43,471.18 L109.42,471.31 L108.42,471.42 L107.41,471.54 L106.40,471.64 L105.40,471.75 L104.39,471.85 L103.39,471.94 L102.38,472.03 L101.37,472.11 L100.37,472.19 L99.36,472.27 L98.36,472.34 L97.35,472.41 L96.34,472.48 L95.34,472.54 L94.33,472.60 L93.33,472.65 L92.32,472.71 L91.31,472.76 L90.31,472.80 L89.30,472.85 L88.30,472.89 L87.29,472.93 L86.28,472.97 L85.28,473.00 L84.27,473.04 L83.27,473.07 L82.26,473.10 L81.25,473.13 L80.25,473.16 L79.24,473.18 L78.24,473.21 L77.23,473.23 L76.22,473.26 L75.22,473.28 L74.21,473.31 L73.21,473.33 L72.20,473.35 L71.19,473.37 L70.19,473.40 L69.18,473.42 L68.18,473.44 L67.17,473.46 L66.16,473.48 L65.16,473.51 L64.15,473.53 L63.15,473.55 L62.14,473.57 L61.13,473.59 L60.13,473.61 L59.12,473.64 L58.12,473.66 L57.11,473.68 L56.10,473.70 L55.10,473.72 L54.09,473.74 L53.09,473.76 L52.08,473.78 L51.07,473.80 L50.07,473.81 L49.06,473.83 L48.06,473.85 L47.05,473.87 L46.04,473.89 L45.04,473.90 L44.03,473.92 L43.03,473.94 L42.02,473.95 L41.01,473.97 L40.01,473.98 L39.00,474.00 L38.00,474.01 L36.99,474.03 L35.98,474.04 L34.98,474.05 L33.97,474.06 L32.97,474.08 L31.96,474.09 Z" fill="#f3e8ff" fill-opacity="0.45" stroke="none" clip-path="url(#cBL)"/>
<path d="M31.96,467.96 L32.97,467.95 L33.97,467.95 L34.98,467.94 L35.98,467.94 L36.99,467.93 L38.00,467.93 L39.00,467.92 L40.01,467.92 L41.01,467.91 L42.02,467.90 L43.03,467.90 L44.03,467.89 L45.04,467.88 L46.04,467.87 L47.05,467.87 L48.06,467.86 L49.06,467.85 L50.07,467.84 L51.07,467.83 L52.08,467.82 L53.09,467.81 L54.09,467.80 L55.10,467.79 L56.10,467.77 L57.11,467.76 L58.12,467.75 L59.12,467.73 L60.13,467.72 L61.13,467.70 L62.14,467.69 L63.15,467.67 L64.15,467.66 L65.16,467.64 L66.16,467.62 L67.17,467.60 L68.18,467.58 L69.18,467.56 L70.19,467.54 L71.19,467.52 L72.20,467.50 L73.21,467.48 L74.21,467.45 L75.22,467.43 L76.22,467.40 L77.23,467.37 L78.24,467.35 L79.24,467.32 L80.25,467.29 L81.25,467.25 L82.26,467.22 L83.27,467.19 L84.27,467.15 L85.28,467.12 L86.28,467.08 L87.29,467.04 L88.30,467.00 L89.30,466.96 L90.31,466.92 L91.31,466.87 L92.32,466.83 L93.33,466.78 L94.33,466.73 L95.34,466.68 L96.34,466.62 L97.35,466.57 L98.36,466.51 L99.36,466.44 L100.37,466.37 L101.37,466.30 L102.38,466.22 L103.39,466.14 L104.39,466.06 L105.40,465.96 L106.40,465.87 L107.41,465.76 L108.42,465.65 L109.42,465.53 L110.43,465.41 L111.43,465.28 L112.44,465.14 L113.45,465.00 L114.45,464.84 L115.46,464.68 L116.46,464.51 L117.47,464.33 L118.48,464.14 L119.48,463.95 L120.49,463.74 L121.49,463.52 L122.50,463.29 L123.51,463.06 L124.51,462.81 L125.52,462.55 L126.52,462.29 L127.53,462.01 L128.54,461.72 L129.54,461.43 L130.55,461.13 L131.55,460.81 L132.56,460.49 L133.57,460.16 L134.57,459.83 L135.58,459.48 L136.58,459.13 L137.59,458.77 L138.60,458.40 L139.60,458.03 L140.61,457.64 L141.61,457.26 L142.62,456.87 L143.63,456.47 L144.63,456.07 L145.64,455.67 L146.64,455.26 L147.65,454.85 L148.66,454.44 L149.66,454.03 L150.67,453.63 L151.67,453.22 L152.68,452.81 L153.69,452.41 L154.69,452.00 L155.70,451.60 L156.70,451.20 L157.71,450.79 L158.72,450.39 L159.72,449.99 L160.73,449.59 L161.73,449.18 L162.74,448.78 L163.75,448.38 L164.75,447.97 L165.76,447.57 L166.76,447.16 L167.77,446.75 L168.78,446.34 L169.78,445.93 L170.79,445.51 L171.79,445.10 L172.80,444.68 L173.81,444.26 L174.81,443.84 L175.82,443.41 L176.82,442.98 L177.83,442.55 L178.84,442.11 L179.84,441.67 L180.85,441.22 L181.85,440.77 L182.86,440.31 L183.87,439.85 L184.87,439.38 L185.88,438.90 L186.88,438.42 L187.89,437.94 L188.90,437.44 L189.90,436.94 L190.91,436.43 L191.91,435.91 L192.92,435.39 L193.93,434.85 L194.93,434.31 L195.94,433.75 L196.94,433.19 L197.95,432.62 L198.96,432.04 L199.96,431.45 L200.97,430.84 L201.97,430.23 L202.98,429.60 L203.99,428.97 L204.99,428.32 L206.00,427.66 L207.00,426.99 L208.01,426.31 L209.02,425.62 L210.02,424.92 L211.03,424.21 L212.03,423.49 L213.04,422.76 L214.05,422.02 L215.05,421.28 L216.06,420.52 L217.06,419.76 L218.07,418.99 L219.08,418.21 L220.08,417.42 L221.09,416.62 L222.09,415.82 L223.10,415.01 L224.11,414.20 L225.11,413.37 L226.12,412.54 L227.12,411.71 L228.13,410.87 L229.14,410.02 L230.14,409.17 L231.15,408.32 L232.15,407.46 L233.16,406.60 L234.17,405.74 L235.17,404.87 L236.18,404.00 L237.18,403.13 L238.19,402.26 L239.20,401.39 L240.20,400.51 L240.71,400.08 L240.71,422.81 L240.20,423.03 L239.20,423.45 L238.19,423.88 L237.18,424.31 L236.18,424.74 L235.17,425.17 L234.17,425.60 L233.16,426.03 L232.15,426.46 L231.15,426.89 L230.14,427.33 L229.14,427.76 L228.13,428.20 L227.12,428.63 L226.12,429.07 L225.11,429.51 L224.11,429.96 L223.10,430.40 L222.09,430.85 L221.09,431.29 L220.08,431.74 L219.08,432.19 L218.07,432.64 L217.06,433.10 L216.06,433.55 L215.05,434.00 L214.05,434.45 L213.04,434.90 L212.03,435.35 L211.03,435.80 L210.02,436.24 L209.02,436.69 L208.01,437.13 L207.00,437.57 L206.00,438.00 L204.99,438.44 L203.99,438.87 L202.98,439.29 L201.97,439.72 L200.97,440.14 L199.96,440.55 L198.96,440.96 L197.95,441.37 L196.94,441.77 L195.94,442.17 L194.93,442.57 L193.93,442.97 L192.92,443.36 L191.91,443.75 L190.91,444.13 L189.90,444.52 L188.90,444.90 L187.89,445.28 L186.88,445.65 L185.88,446.03 L184.87,446.40 L183.87,446.78 L182.86,447.15 L181.85,447.51 L180.85,447.88 L179.84,448.25 L178.84,448.62 L177.83,448.98 L176.82,449.35 L175.82,449.71 L174.81,450.07 L173.81,450.44 L172.80,450.80 L171.79,451.16 L170.79,451.53 L169.78,451.89 L168.78,452.25 L167.77,452.62 L166.76,452.98 L165.76,453.34 L164.75,453.71 L163.75,454.07 L162.74,454.44 L161.73,454.80 L160.73,455.17 L159.72,455.53 L158.72,455.89 L157.71,456.26 L156.70,456.62 L155.70,456.99 L154.69,457.35 L153.69,457.72 L152.68,458.08 L151.67,458.45 L150.67,458.82 L149.66,459.18 L148.66,459.55 L147.65,459.91 L146.64,460.27 L145.64,460.63 L144.63,460.99 L143.63,461.34 L142.62,461.69 L141.61,462.04 L140.61,462.38 L139.60,462.72 L138.60,463.05 L137.59,463.38 L136.58,463.69 L135.58,464.01 L134.57,464.31 L133.57,464.61 L132.56,464.90 L131.55,465.19 L130.55,465.46 L129.54,465.73 L128.54,466.00 L127.53,466.25 L126.52,466.50 L125.52,466.74 L124.51,466.98 L123.51,467.20 L122.50,467.42 L121.49,467.63 L120.49,467.83 L119.48,468.02 L118.48,468.20 L117.47,468.38 L116.46,468.55 L115.46,468.71 L114.45,468.87 L113.45,469.02 L112.44,469.16 L111.43,469.30 L110.43,469.43 L109.42,469.55 L108.42,469.67 L107.41,469.79 L106.40,469.89 L105.40,470.00 L104.39,470.10 L103.39,470.19 L102.38,470.28 L101.37,470.36 L100.37,470.45 L99.36,470.52 L98.36,470.60 L97.35,470.67 L96.34,470.74 L95.34,470.80 L94.33,470.87 L93.33,470.93 L92.32,470.99 L91.31,471.04 L90.31,471.10 L89.30,471.15 L88.30,471.20 L87.29,471.25 L86.28,471.30 L85.28,471.35 L84.27,471.39 L83.27,471.44 L82.26,471.48 L81.25,471.52 L80.25,471.56 L79.24,471.60 L78.24,471.64 L77.23,471.68 L76.22,471.71 L75.22,471.75 L74.21,471.78 L73.21,471.81 L72.20,471.85 L71.19,471.88 L70.19,471.91 L69.18,471.93 L68.18,471.96 L67.17,471.99 L66.16,472.01 L65.16,472.04 L64.15,472.06 L63.15,472.09 L62.14,472.11 L61.13,472.13 L60.13,472.16 L59.12,472.18 L58.12,472.20 L57.11,472.22 L56.10,472.24 L55.10,472.26 L54.09,472.27 L53.09,472.29 L52.08,472.31 L51.07,472.33 L50.07,472.34 L49.06,472.36 L48.06,472.37 L47.05,472.39 L46.04,472.40 L45.04,472.42 L44.03,472.43 L43.03,472.44 L42.02,472.45 L41.01,472.47 L40.01,472.48 L39.00,472.49 L38.00,472.50 L36.99,472.51 L35.98,472.52 L34.98,472.53 L33.97,472.54 L32.97,472.55 L31.96,472.56 Z" fill="#e6a7b0" fill-opacity="0.55" stroke="none" clip-path="url(#cBL)"/>
<path d="M31.96,469.88 L32.97,469.87 L33.97,469.86 L34.98,469.85 L35.98,469.84 L36.99,469.83 L38.00,469.82 L39.00,469.81 L40.01,469.80 L41.01,469.78 L42.02,469.77 L43.03,469.76 L44.03,469.74 L45.04,469.73 L46.04,469.72 L47.05,469.70 L48.06,469.68 L49.06,469.67 L50.07,469.65 L51.07,469.64 L52.08,469.62 L53.09,469.60 L54.09,469.58 L55.10,469.56 L56.10,469.55 L57.11,469.53 L58.12,469.51 L59.12,469.49 L60.13,469.47 L61.13,469.44 L62.14,469.42 L63.15,469.40 L64.15,469.38 L65.16,469.36 L66.16,469.33 L67.17,469.31 L68.18,469.29 L69.18,469.26 L70.19,469.24 L71.19,469.21 L72.20,469.19 L73.21,469.16 L74.21,469.14 L75.22,469.11 L76.22,469.09 L77.23,469.06 L78.24,469.03 L79.24,469.01 L80.25,468.98 L81.25,468.95 L82.26,468.93 L83.27,468.90 L84.27,468.87 L85.28,468.85 L86.28,468.82 L87.29,468.79 L88.30,468.76 L89.30,468.74 L90.31,468.71 L91.31,468.68 L92.32,468.65 L93.33,468.63 L94.33,468.60 L95.34,468.57 L96.34,468.53 L97.35,468.50 L98.36,468.46 L99.36,468.42 L100.37,468.38 L101.37,468.34 L102.38,468.29 L103.39,468.23 L104.39,468.18 L105.40,468.11 L106.40,468.04 L107.41,467.97 L108.42,467.89 L109.42,467.81 L110.43,467.71 L111.43,467.61 L112.44,467.51 L113.45,467.39 L114.45,467.27 L115.46,467.14 L116.46,467.00 L117.47,466.85 L118.48,466.69 L119.48,466.52 L120.49,466.34 L121.49,466.15 L122.50,465.95 L123.51,465.73 L124.51,465.51 L125.52,465.28 L126.52,465.04 L127.53,464.79 L128.54,464.53 L129.54,464.25 L130.55,463.98 L131.55,463.69 L132.56,463.39 L133.57,463.09 L134.57,462.77 L135.58,462.45 L136.58,462.13 L137.59,461.79 L138.60,461.45 L139.60,461.10 L140.61,460.75 L141.61,460.39 L142.62,460.03 L143.63,459.66 L144.63,459.29 L145.64,458.93 L146.64,458.55 L147.65,458.18 L148.66,457.82 L149.66,457.45 L150.67,457.08 L151.67,456.72 L152.68,456.36 L153.69,456.01 L154.69,455.65 L155.70,455.31 L156.70,454.96 L157.71,454.62 L158.72,454.28 L159.72,453.94 L160.73,453.60 L161.73,453.27 L162.74,452.94 L163.75,452.61 L164.75,452.28 L165.76,451.95 L166.76,451.63 L167.77,451.30 L168.78,450.98 L169.78,450.66 L170.79,450.34 L171.79,450.01 L172.80,449.69 L173.81,449.37 L174.81,449.05 L175.82,448.73 L176.82,448.41 L177.83,448.09 L178.84,447.76 L179.84,447.44 L180.85,447.12 L181.85,446.80 L182.86,446.48 L183.87,446.16 L184.87,445.84 L185.88,445.51 L186.88,445.19 L187.89,444.87 L188.90,444.55 L189.90,444.23 L190.91,443.90 L191.91,443.58 L192.92,443.26 L193.93,442.94 L194.93,442.62 L195.94,442.29 L196.94,441.97 L197.95,441.65 L198.96,441.33 L199.96,441.00 L200.97,440.68 L201.97,440.36 L202.98,440.03 L203.99,439.71 L204.99,439.38 L206.00,439.06 L207.00,438.73 L208.01,438.40 L209.02,438.07 L210.02,437.74 L211.03,437.40 L212.03,437.06 L213.04,436.71 L214.05,436.36 L215.05,436.01 L216.06,435.65 L217.06,435.29 L218.07,434.92 L219.08,434.54 L220.08,434.16 L221.09,433.77 L222.09,433.37 L223.10,432.97 L224.11,432.55 L225.11,432.13 L226.12,431.70 L227.12,431.27 L228.13,430.83 L229.14,430.38 L230.14,429.92 L231.15,429.47 L232.15,429.00 L233.16,428.54 L234.17,428.06 L235.17,427.59 L236.18,427.11 L237.18,426.63 L238.19,426.15 L239.20,425.67 L240.20,425.19 L240.71,424.95 L240.71,443.32 L240.20,443.31 L239.20,443.28 L238.19,443.26 L237.18,443.24 L236.18,443.22 L235.17,443.20 L234.17,443.18 L233.16,443.17 L232.15,443.16 L231.15,443.16 L230.14,443.16 L229.14,443.16 L228.13,443.17 L227.12,443.19 L226.12,443.21 L225.11,443.23 L224.11,443.27 L223.10,443.31 L222.09,443.36 L221.09,443.42 L220.08,443.49 L219.08,443.56 L218.07,443.64 L217.06,443.73 L216.06,443.83 L215.05,443.93 L214.05,444.04 L213.04,444.16 L212.03,444.29 L211.03,444.42 L210.02,444.56 L209.02,444.71 L208.01,444.86 L207.00,445.02 L206.00,445.19 L204.99,445.37 L203.99,445.55 L202.98,445.74 L201.97,445.94 L200.97,446.14 L199.96,446.35 L198.96,446.56 L197.95,446.78 L196.94,447.01 L195.94,447.24 L194.93,447.48 L193.93,447.73 L192.92,447.98 L191.91,448.23 L190.91,448.49 L189.90,448.75 L188.90,449.02 L187.89,449.29 L186.88,449.56 L185.88,449.84 L184.87,450.12 L183.87,450.41 L182.86,450.70 L181.85,450.99 L180.85,451.28 L179.84,451.58 L178.84,451.87 L177.83,452.18 L176.82,452.48 L175.82,452.78 L174.81,453.09 L173.81,453.39 L172.80,453.70 L171.79,454.01 L170.79,454.32 L169.78,454.63 L168.78,454.94 L167.77,455.25 L166.76,455.57 L165.76,455.88 L164.75,456.20 L163.75,456.52 L162.74,456.83 L161.73,457.16 L160.73,457.48 L159.72,457.80 L158.72,458.13 L157.71,458.46 L156.70,458.79 L155.70,459.12 L154.69,459.46 L153.69,459.79 L152.68,460.13 L151.67,460.47 L150.67,460.82 L149.66,461.17 L148.66,461.51 L147.65,461.86 L146.64,462.21 L145.64,462.56 L144.63,462.90 L143.63,463.25 L142.62,463.59 L141.61,463.93 L140.61,464.26 L139.60,464.59 L138.60,464.91 L137.59,465.23 L136.58,465.54 L135.58,465.84 L134.57,466.14 L133.57,466.43 L132.56,466.71 L131.55,466.98 L130.55,467.25 L129.54,467.50 L128.54,467.75 L127.53,467.99 L126.52,468.23 L125.52,468.45 L124.51,468.66 L123.51,468.87 L122.50,469.06 L121.49,469.25 L120.49,469.43 L119.48,469.59 L118.48,469.75 L117.47,469.90 L116.46,470.04 L115.46,470.18 L114.45,470.30 L113.45,470.42 L112.44,470.53 L111.43,470.63 L110.43,470.73 L109.42,470.82 L108.42,470.90 L107.41,470.98 L106.40,471.05 L105.40,471.12 L104.39,471.18 L103.39,471.24 L102.38,471.30 L101.37,471.35 L100.37,471.40 L99.36,471.44 L98.36,471.48 L97.35,471.52 L96.34,471.56 L95.34,471.59 L94.33,471.62 L93.33,471.66 L92.32,471.69 L91.31,471.72 L90.31,471.75 L89.30,471.78 L88.30,471.81 L87.29,471.84 L86.28,471.87 L85.28,471.89 L84.27,471.92 L83.27,471.95 L82.26,471.98 L81.25,472.01 L80.25,472.04 L79.24,472.06 L78.24,472.09 L77.23,472.12 L76.22,472.14 L75.22,472.17 L74.21,472.20 L73.21,472.22 L72.20,472.25 L71.19,472.27 L70.19,472.30 L69.18,472.32 L68.18,472.35 L67.17,472.37 L66.16,472.39 L65.16,472.42 L64.15,472.44 L63.15,472.46 L62.14,472.48 L61.13,472.50 L60.13,472.52 L59.12,472.55 L58.12,472.57 L57.11,472.59 L56.10,472.60 L55.10,472.62 L54.09,472.64 L53.09,472.66 L52.08,472.68 L51.07,472.69 L50.07,472.71 L49.06,472.73 L48.06,472.74 L47.05,472.76 L46.04,472.77 L45.04,472.79 L44.03,472.80 L43.03,472.81 L42.02,472.83 L41.01,472.84 L40.01,472.85 L39.00,472.87 L38.00,472.88 L36.99,472.89 L35.98,472.90 L34.98,472.91 L33.97,472.92 L32.97,472.93 L31.96,472.94 Z" fill="#fcc4b0" fill-opacity="0.55" stroke="none" clip-path="url(#cBL)"/>
<line x1="37.6" y1="457.4" x2="240.6" y2="457.4" stroke="#ef5560" stroke-width="1.5" stroke-dasharray="3.7 2.8" clip-path="url(#cBL)"/>
<path d="M31.96,470.64 L32.97,470.63 L33.97,470.63 L34.98,470.62 L35.98,470.62 L36.99,470.61 L38.00,470.60 L39.00,470.60 L40.01,470.59 L41.01,470.59 L42.02,470.58 L43.03,470.57 L44.03,470.56 L45.04,470.56 L46.04,470.55 L47.05,470.54 L48.06,470.53 L49.06,470.52 L50.07,470.51 L51.07,470.49 L52.08,470.48 L53.09,470.47 L54.09,470.46 L55.10,470.44 L56.10,470.43 L57.11,470.41 L58.12,470.40 L59.12,470.38 L60.13,470.36 L61.13,470.35 L62.14,470.33 L63.15,470.31 L64.15,470.29 L65.16,470.26 L66.16,470.24 L67.17,470.22 L68.18,470.19 L69.18,470.17 L70.19,470.14 L71.19,470.11 L72.20,470.08 L73.21,470.05 L74.21,470.02 L75.22,469.99 L76.22,469.96 L77.23,469.92 L78.24,469.89 L79.24,469.85 L80.25,469.81 L81.25,469.77 L82.26,469.73 L83.27,469.69 L84.27,469.65 L85.28,469.60 L86.28,469.56 L87.29,469.51 L88.30,469.46 L89.30,469.41 L90.31,469.36 L91.31,469.30 L92.32,469.25 L93.33,469.19 L94.33,469.13 L95.34,469.07 L96.34,469.01 L97.35,468.95 L98.36,468.88 L99.36,468.81 L100.37,468.75 L101.37,468.67 L102.38,468.60 L103.39,468.52 L104.39,468.44 L105.40,468.35 L106.40,468.27 L107.41,468.17 L108.42,468.08 L109.42,467.97 L110.43,467.87 L111.43,467.76 L112.44,467.64 L113.45,467.52 L114.45,467.39 L115.46,467.25 L116.46,467.11 L117.47,466.97 L118.48,466.81 L119.48,466.65 L120.49,466.48 L121.49,466.31 L122.50,466.12 L123.51,465.93 L124.51,465.73 L125.52,465.52 L126.52,465.31 L127.53,465.09 L128.54,464.86 L129.54,464.63 L130.55,464.39 L131.55,464.16 L132.56,463.91 L133.57,463.67 L134.57,463.42 L135.58,463.17 L136.58,462.92 L137.59,462.67 L138.60,462.41 L139.60,462.16 L140.61,461.91 L141.61,461.66 L142.62,461.41 L143.63,461.16 L144.63,460.91 L145.64,460.67 L146.64,460.42 L147.65,460.17 L148.66,459.93 L149.66,459.69 L150.67,459.44 L151.67,459.20 L152.68,458.96 L153.69,458.72 L154.69,458.48 L155.70,458.24 L156.70,458.01 L157.71,457.77 L158.72,457.53 L159.72,457.30 L160.73,457.06 L161.73,456.82 L162.74,456.59 L163.75,456.36 L164.75,456.12 L165.76,455.89 L166.76,455.66 L167.77,455.43 L168.78,455.20 L169.78,454.96 L170.79,454.73 L171.79,454.50 L172.80,454.27 L173.81,454.04 L174.81,453.81 L175.82,453.59 L176.82,453.36 L177.83,453.12 L178.84,452.89 L179.84,452.66 L180.85,452.43 L181.85,452.19 L182.86,451.96 L183.87,451.72 L184.87,451.48 L185.88,451.24 L186.88,451.01 L187.89,450.77 L188.90,450.53 L189.90,450.30 L190.91,450.06 L191.91,449.83 L192.92,449.59 L193.93,449.36 L194.93,449.13 L195.94,448.91 L196.94,448.68 L197.95,448.46 L198.96,448.24 L199.96,448.03 L200.97,447.82 L201.97,447.61 L202.98,447.41 L203.99,447.21 L204.99,447.01 L206.00,446.82 L207.00,446.63 L208.01,446.44 L209.02,446.25 L210.02,446.07 L211.03,445.89 L212.03,445.71 L213.04,445.54 L214.05,445.36 L215.05,445.19 L216.06,445.01 L217.06,444.84 L218.07,444.66 L219.08,444.49 L220.08,444.31 L221.09,444.14 L222.09,443.96 L223.10,443.78 L224.11,443.60 L225.11,443.42 L226.12,443.24 L227.12,443.05 L228.13,442.87 L229.14,442.68 L230.14,442.49 L231.15,442.30 L232.15,442.11 L233.16,441.92 L234.17,441.73 L235.17,441.54 L236.18,441.34 L237.18,441.15 L238.19,440.96 L239.20,440.76 L240.20,440.57 L240.71,440.47" fill="none" stroke="#cc88ff" stroke-width="1.3" stroke-dasharray="4.2 4.4" stroke-opacity="1" clip-path="url(#cBL)"/>
<path d="M31.96,471.41 L32.97,471.40 L33.97,471.39 L34.98,471.38 L35.98,471.37 L36.99,471.36 L38.00,471.35 L39.00,471.34 L40.01,471.32 L41.01,471.31 L42.02,471.30 L43.03,471.29 L44.03,471.27 L45.04,471.26 L46.04,471.24 L47.05,471.23 L48.06,471.21 L49.06,471.20 L50.07,471.18 L51.07,471.16 L52.08,471.15 L53.09,471.13 L54.09,471.11 L55.10,471.09 L56.10,471.07 L57.11,471.05 L58.12,471.03 L59.12,471.01 L60.13,470.99 L61.13,470.97 L62.14,470.95 L63.15,470.93 L64.15,470.90 L65.16,470.88 L66.16,470.86 L67.17,470.83 L68.18,470.81 L69.18,470.79 L70.19,470.76 L71.19,470.74 L72.20,470.71 L73.21,470.69 L74.21,470.66 L75.22,470.63 L76.22,470.61 L77.23,470.58 L78.24,470.55 L79.24,470.53 L80.25,470.50 L81.25,470.47 L82.26,470.45 L83.27,470.42 L84.27,470.39 L85.28,470.36 L86.28,470.34 L87.29,470.31 L88.30,470.28 L89.30,470.25 L90.31,470.23 L91.31,470.20 L92.32,470.17 L93.33,470.14 L94.33,470.11 L95.34,470.08 L96.34,470.05 L97.35,470.02 L98.36,469.98 L99.36,469.95 L100.37,469.91 L101.37,469.86 L102.38,469.82 L103.39,469.77 L104.39,469.71 L105.40,469.65 L106.40,469.59 L107.41,469.52 L108.42,469.45 L109.42,469.37 L110.43,469.28 L111.43,469.19 L112.44,469.09 L113.45,468.99 L114.45,468.87 L115.46,468.75 L116.46,468.62 L117.47,468.49 L118.48,468.34 L119.48,468.19 L120.49,468.02 L121.49,467.85 L122.50,467.67 L123.51,467.47 L124.51,467.27 L125.52,467.06 L126.52,466.83 L127.53,466.60 L128.54,466.35 L129.54,466.09 L130.55,465.82 L131.55,465.54 L132.56,465.25 L133.57,464.95 L134.57,464.64 L135.58,464.33 L136.58,464.00 L137.59,463.67 L138.60,463.33 L139.60,462.98 L140.61,462.63 L141.61,462.27 L142.62,461.91 L143.63,461.55 L144.63,461.18 L145.64,460.82 L146.64,460.45 L147.65,460.09 L148.66,459.72 L149.66,459.36 L150.67,459.00 L151.67,458.64 L152.68,458.29 L153.69,457.95 L154.69,457.60 L155.70,457.26 L156.70,456.93 L157.71,456.60 L158.72,456.27 L159.72,455.94 L160.73,455.62 L161.73,455.30 L162.74,454.99 L163.75,454.67 L164.75,454.36 L165.76,454.05 L166.76,453.74 L167.77,453.44 L168.78,453.13 L169.78,452.83 L170.79,452.53 L171.79,452.23 L172.80,451.93 L173.81,451.63 L174.81,451.33 L175.82,451.03 L176.82,450.74 L177.83,450.44 L178.84,450.14 L179.84,449.84 L180.85,449.54 L181.85,449.24 L182.86,448.94 L183.87,448.64 L184.87,448.33 L185.88,448.03 L186.88,447.73 L187.89,447.43 L188.90,447.13 L189.90,446.83 L190.91,446.53 L191.91,446.24 L192.92,445.94 L193.93,445.65 L194.93,445.36 L195.94,445.07 L196.94,444.79 L197.95,444.51 L198.96,444.23 L199.96,443.96 L200.97,443.68 L201.97,443.42 L202.98,443.16 L203.99,442.90 L204.99,442.64 L206.00,442.39 L207.00,442.15 L208.01,441.90 L209.02,441.66 L210.02,441.42 L211.03,441.19 L212.03,440.96 L213.04,440.73 L214.05,440.50 L215.05,440.27 L216.06,440.05 L217.06,439.82 L218.07,439.60 L219.08,439.38 L220.08,439.15 L221.09,438.93 L222.09,438.71 L223.10,438.49 L224.11,438.27 L225.11,438.05 L226.12,437.82 L227.12,437.60 L228.13,437.38 L229.14,437.15 L230.14,436.93 L231.15,436.70 L232.15,436.48 L233.16,436.25 L234.17,436.03 L235.17,435.80 L236.18,435.58 L237.18,435.35 L238.19,435.12 L239.20,434.90 L240.20,434.67 L240.71,434.56" fill="none" stroke="#f55028" stroke-width="1.4" stroke-opacity="1" clip-path="url(#cBL)"/>
<path d="M31.96,470.26 L32.97,470.25 L33.97,470.24 L34.98,470.24 L35.98,470.23 L36.99,470.22 L38.00,470.21 L39.00,470.20 L40.01,470.20 L41.01,470.19 L42.02,470.18 L43.03,470.17 L44.03,470.16 L45.04,470.15 L46.04,470.14 L47.05,470.13 L48.06,470.11 L49.06,470.10 L50.07,470.09 L51.07,470.08 L52.08,470.06 L53.09,470.05 L54.09,470.04 L55.10,470.02 L56.10,470.01 L57.11,469.99 L58.12,469.97 L59.12,469.96 L60.13,469.94 L61.13,469.92 L62.14,469.90 L63.15,469.88 L64.15,469.87 L65.16,469.85 L66.16,469.82 L67.17,469.80 L68.18,469.78 L69.18,469.76 L70.19,469.73 L71.19,469.71 L72.20,469.68 L73.21,469.66 L74.21,469.63 L75.22,469.60 L76.22,469.57 L77.23,469.54 L78.24,469.51 L79.24,469.48 L80.25,469.44 L81.25,469.41 L82.26,469.37 L83.27,469.33 L84.27,469.29 L85.28,469.25 L86.28,469.21 L87.29,469.17 L88.30,469.13 L89.30,469.08 L90.31,469.03 L91.31,468.98 L92.32,468.93 L93.33,468.88 L94.33,468.83 L95.34,468.77 L96.34,468.71 L97.35,468.65 L98.36,468.58 L99.36,468.51 L100.37,468.44 L101.37,468.37 L102.38,468.29 L103.39,468.20 L104.39,468.12 L105.40,468.02 L106.40,467.93 L107.41,467.82 L108.42,467.72 L109.42,467.60 L110.43,467.48 L111.43,467.36 L112.44,467.23 L113.45,467.09 L114.45,466.95 L115.46,466.80 L116.46,466.64 L117.47,466.47 L118.48,466.30 L119.48,466.12 L120.49,465.93 L121.49,465.74 L122.50,465.53 L123.51,465.32 L124.51,465.10 L125.52,464.87 L126.52,464.63 L127.53,464.38 L128.54,464.12 L129.54,463.85 L130.55,463.57 L131.55,463.29 L132.56,462.99 L133.57,462.69 L134.57,462.38 L135.58,462.06 L136.58,461.73 L137.59,461.40 L138.60,461.06 L139.60,460.72 L140.61,460.37 L141.61,460.01 L142.62,459.66 L143.63,459.30 L144.63,458.93 L145.64,458.56 L146.64,458.19 L147.65,457.82 L148.66,457.45 L149.66,457.08 L150.67,456.70 L151.67,456.33 L152.68,455.96 L153.69,455.58 L154.69,455.21 L155.70,454.83 L156.70,454.46 L157.71,454.09 L158.72,453.71 L159.72,453.34 L160.73,452.96 L161.73,452.59 L162.74,452.21 L163.75,451.84 L164.75,451.46 L165.76,451.08 L166.76,450.70 L167.77,450.32 L168.78,449.94 L169.78,449.55 L170.79,449.17 L171.79,448.78 L172.80,448.39 L173.81,448.00 L174.81,447.61 L175.82,447.22 L176.82,446.82 L177.83,446.42 L178.84,446.01 L179.84,445.61 L180.85,445.19 L181.85,444.78 L182.86,444.36 L183.87,443.93 L184.87,443.50 L185.88,443.07 L186.88,442.63 L187.89,442.19 L188.90,441.74 L189.90,441.28 L190.91,440.82 L191.91,440.36 L192.92,439.89 L193.93,439.41 L194.93,438.93 L195.94,438.44 L196.94,437.94 L197.95,437.44 L198.96,436.94 L199.96,436.42 L200.97,435.91 L201.97,435.38 L202.98,434.85 L203.99,434.31 L204.99,433.76 L206.00,433.21 L207.00,432.65 L208.01,432.09 L209.02,431.52 L210.02,430.94 L211.03,430.36 L212.03,429.78 L213.04,429.19 L214.05,428.59 L215.05,427.99 L216.06,427.39 L217.06,426.78 L218.07,426.17 L219.08,425.56 L220.08,424.94 L221.09,424.32 L222.09,423.70 L223.10,423.07 L224.11,422.44 L225.11,421.81 L226.12,421.17 L227.12,420.54 L228.13,419.90 L229.14,419.26 L230.14,418.62 L231.15,417.98 L232.15,417.33 L233.16,416.69 L234.17,416.04 L235.17,415.40 L236.18,414.75 L237.18,414.10 L238.19,413.45 L239.20,412.80 L240.20,412.15 L240.71,411.83" fill="none" stroke="#be1e2d" stroke-width="1.5" stroke-opacity="1" clip-path="url(#cBL)"/>
<path d="M31.96,470.64 L32.97,470.63 L33.97,470.63 L34.98,470.62 L35.98,470.62 L36.99,470.61 L38.00,470.61 L39.00,470.60 L40.01,470.60 L41.01,470.59 L42.02,470.58 L43.03,470.58 L44.03,470.57 L45.04,470.56 L46.04,470.55 L47.05,470.54 L48.06,470.53 L49.06,470.52 L50.07,470.51 L51.07,470.50 L52.08,470.49 L53.09,470.48 L54.09,470.46 L55.10,470.45 L56.10,470.44 L57.11,470.42 L58.12,470.40 L59.12,470.39 L60.13,470.37 L61.13,470.35 L62.14,470.33 L63.15,470.31 L64.15,470.29 L65.16,470.27 L66.16,470.24 L67.17,470.22 L68.18,470.19 L69.18,470.17 L70.19,470.14 L71.19,470.11 L72.20,470.08 L73.21,470.05 L74.21,470.01 L75.22,469.98 L76.22,469.95 L77.23,469.91 L78.24,469.87 L79.24,469.83 L80.25,469.79 L81.25,469.75 L82.26,469.71 L83.27,469.66 L84.27,469.62 L85.28,469.57 L86.28,469.52 L87.29,469.47 L88.30,469.42 L89.30,469.37 L90.31,469.31 L91.31,469.25 L92.32,469.20 L93.33,469.14 L94.33,469.08 L95.34,469.01 L96.34,468.95 L97.35,468.89 L98.36,468.82 L99.36,468.75 L100.37,468.68 L101.37,468.60 L102.38,468.52 L103.39,468.44 L104.39,468.35 L105.40,468.26 L106.40,468.16 L107.41,468.06 L108.42,467.95 L109.42,467.83 L110.43,467.71 L111.43,467.58 L112.44,467.43 L113.45,467.28 L114.45,467.12 L115.46,466.95 L116.46,466.77 L117.47,466.58 L118.48,466.38 L119.48,466.17 L120.49,465.94 L121.49,465.70 L122.50,465.45 L123.51,465.18 L124.51,464.90 L125.52,464.60 L126.52,464.29 L127.53,463.96 L128.54,463.61 L129.54,463.25 L130.55,462.87 L131.55,462.47 L132.56,462.05 L133.57,461.62 L134.57,461.18 L135.58,460.71 L136.58,460.24 L137.59,459.75 L138.60,459.25 L139.60,458.74 L140.61,458.22 L141.61,457.69 L142.62,457.15 L143.63,456.60 L144.63,456.04 L145.64,455.48 L146.64,454.91 L147.65,454.34 L148.66,453.76 L149.66,453.18 L150.67,452.60 L151.67,452.01 L152.68,451.43 L153.69,450.84 L154.69,450.25 L155.70,449.66 L156.70,449.07 L157.71,448.48 L158.72,447.88 L159.72,447.29 L160.73,446.69 L161.73,446.09 L162.74,445.49 L163.75,444.89 L164.75,444.28 L165.76,443.68 L166.76,443.07 L167.77,442.46 L168.78,441.85 L169.78,441.23 L170.79,440.61 L171.79,439.99 L172.80,439.37 L173.81,438.75 L174.81,438.12 L175.82,437.49 L176.82,436.85 L177.83,436.20 L178.84,435.55 L179.84,434.88 L180.85,434.20 L181.85,433.51 L182.86,432.81 L183.87,432.10 L184.87,431.37 L185.88,430.63 L186.88,429.88 L187.89,429.12 L188.90,428.35 L189.90,427.56 L190.91,426.76 L191.91,425.95 L192.92,425.12 L193.93,424.28 L194.93,423.43 L195.94,422.57 L196.94,421.69 L197.95,420.80 L198.96,419.89 L199.96,418.97 L200.97,418.04 L201.97,417.10 L202.98,416.14 L203.99,415.17 L204.99,414.18 L206.00,413.19 L207.00,412.18 L208.01,411.16 L209.02,410.14 L210.02,409.10 L211.03,408.06 L212.03,407.01 L213.04,405.96 L214.05,404.90 L215.05,403.84 L216.06,402.77 L217.06,401.70 L218.07,400.62 L219.08,399.54 L220.08,398.45 L221.09,397.35 L222.09,396.24 L223.10,395.12 L224.11,393.99 L225.11,392.86 L226.12,391.71 L227.12,390.55 L228.13,389.39 L229.14,388.22 L230.14,387.04 L231.15,385.85 L232.15,384.66 L233.16,383.47 L234.17,382.27 L235.17,381.06 L236.18,379.86 L237.18,378.65 L238.19,377.44 L239.20,376.22 L240.20,375.01 L240.71,374.40" fill="none" stroke="#b75cf2" stroke-width="1.4" stroke-dasharray="4.6 4.3" stroke-opacity="1" clip-path="url(#cBL)"/>
<path d="M31.96,471.39 L32.97,471.40 L33.97,471.41 L34.98,471.41 L35.98,471.42 L36.99,471.43 L38.00,471.43 L39.00,471.44 L40.01,471.45 L41.01,471.46 L42.02,471.46 L43.03,471.47 L44.03,471.48 L45.04,471.49 L46.04,471.49 L47.05,471.50 L48.06,471.51 L49.06,471.52 L50.07,471.53 L51.07,471.54 L52.08,471.55 L53.09,471.56 L54.09,471.57 L55.10,471.59 L56.10,471.60 L57.11,471.61 L58.12,471.63 L59.12,471.64 L60.13,471.66 L61.13,471.68 L62.14,471.70 L63.15,471.72 L64.15,471.74 L65.16,471.76 L66.16,471.78 L67.17,471.81 L68.18,471.83 L69.18,471.85 L70.19,471.88 L71.19,471.90 L72.20,471.92 L73.21,471.95 L74.21,471.97 L75.22,471.99 L76.22,472.02 L77.23,472.04 L78.24,472.06 L79.24,472.09 L80.25,472.11 L81.25,472.13 L82.26,472.15 L83.27,472.17 L84.27,472.19 L85.28,472.21 L86.28,472.22 L87.29,472.24 L88.30,472.25 L89.30,472.26 L90.31,472.28 L91.31,472.29 L92.32,472.29 L93.33,472.30 L94.33,472.31 L95.34,472.31 L96.34,472.31 L97.35,472.30 L98.36,472.30 L99.36,472.29 L100.37,472.27 L101.37,472.26 L102.38,472.23 L103.39,472.21 L104.39,472.18 L105.40,472.14 L106.40,472.10 L107.41,472.06 L108.42,472.01 L109.42,471.95 L110.43,471.89 L111.43,471.82 L112.44,471.75 L113.45,471.67 L114.45,471.58 L115.46,471.49 L116.46,471.39 L117.47,471.29 L118.48,471.18 L119.48,471.06 L120.49,470.94 L121.49,470.82 L122.50,470.69 L123.51,470.55 L124.51,470.41 L125.52,470.26 L126.52,470.11 L127.53,469.96 L128.54,469.79 L129.54,469.63 L130.55,469.45 L131.55,469.27 L132.56,469.09 L133.57,468.90 L134.57,468.71 L135.58,468.51 L136.58,468.31 L137.59,468.11 L138.60,467.90 L139.60,467.69 L140.61,467.48 L141.61,467.27 L142.62,467.05 L143.63,466.83 L144.63,466.62 L145.64,466.40 L146.64,466.18 L147.65,465.96 L148.66,465.74 L149.66,465.53 L150.67,465.31 L151.67,465.10 L152.68,464.89 L153.69,464.68 L154.69,464.47 L155.70,464.26 L156.70,464.05 L157.71,463.84 L158.72,463.63 L159.72,463.42 L160.73,463.20 L161.73,462.98 L162.74,462.75 L163.75,462.52 L164.75,462.29 L165.76,462.05 L166.76,461.80 L167.77,461.54 L168.78,461.28 L169.78,461.01 L170.79,460.73 L171.79,460.44 L172.80,460.15 L173.81,459.84 L174.81,459.52 L175.82,459.18 L176.82,458.83 L177.83,458.47 L178.84,458.09 L179.84,457.70 L180.85,457.29 L181.85,456.86 L182.86,456.41 L183.87,455.95 L184.87,455.46 L185.88,454.96 L186.88,454.44 L187.89,453.91 L188.90,453.35 L189.90,452.78 L190.91,452.19 L191.91,451.58 L192.92,450.96 L193.93,450.31 L194.93,449.65 L195.94,448.97 L196.94,448.27 L197.95,447.56 L198.96,446.82 L199.96,446.07 L200.97,445.30 L201.97,444.51 L202.98,443.71 L203.99,442.88 L204.99,442.04 L206.00,441.18 L207.00,440.31 L208.01,439.42 L209.02,438.51 L210.02,437.58 L211.03,436.65 L212.03,435.69 L213.04,434.72 L214.05,433.74 L215.05,432.74 L216.06,431.73 L217.06,430.71 L218.07,429.68 L219.08,428.63 L220.08,427.57 L221.09,426.49 L222.09,425.41 L223.10,424.32 L224.11,423.21 L225.11,422.10 L226.12,420.97 L227.12,419.84 L228.13,418.70 L229.14,417.55 L230.14,416.39 L231.15,415.23 L232.15,414.06 L233.16,412.89 L234.17,411.71 L235.17,410.53 L236.18,409.34 L237.18,408.15 L238.19,406.96 L239.20,405.77 L240.20,404.58 L240.71,403.98" fill="none" stroke="#8b2be2" stroke-width="1.9" stroke-dasharray="4.5 4.3" stroke-opacity="1" clip-path="url(#cBL)"/>
<line x1="123.0" y1="308.0" x2="123.0" y2="486.5" stroke="#5e5e5e" stroke-width="1.9" stroke-dasharray="3.6 2.9"/>
<rect x="36" y="310.1" width="1" height="175.90" fill="#000" fill-opacity="0.122"/>
<rect x="37" y="310.1" width="1" height="175.90" fill="#000" fill-opacity="0.400"/>
<rect x="38" y="310.1" width="1" height="175.90" fill="#000" fill-opacity="0.067"/>
<rect x="37" y="485" width="205.10" height="1" fill="#000" fill-opacity="0.067"/>
<rect x="37" y="486" width="205.10" height="1" fill="#000" fill-opacity="0.459"/>
<rect x="37" y="487" width="205.10" height="1" fill="#000" fill-opacity="0.098"/>
<line x1="36.50" y1="471.00" x2="37.5" y2="471.00" stroke="#666" stroke-width="0.9"/>
<line x1="36.50" y1="432.79" x2="37.5" y2="432.79" stroke="#666" stroke-width="0.9"/>
<line x1="36.50" y1="394.58" x2="37.5" y2="394.58" stroke="#666" stroke-width="0.9"/>
<line x1="36.50" y1="356.37" x2="37.5" y2="356.37" stroke="#666" stroke-width="0.9"/>
<line x1="36.50" y1="318.16" x2="37.5" y2="318.16" stroke="#666" stroke-width="0.9"/>
<line x1="72.20" y1="486.5" x2="72.20" y2="487.5" stroke="#666" stroke-width="0.9"/>
<line x1="122.50" y1="486.5" x2="122.50" y2="487.5" stroke="#666" stroke-width="0.9"/>
<line x1="172.80" y1="486.5" x2="172.80" y2="487.5" stroke="#666" stroke-width="0.9"/>
<line x1="223.10" y1="486.5" x2="223.10" y2="487.5" stroke="#666" stroke-width="0.9"/>
<text x="29.23" y="472.90" font-size="9.5" font-weight="normal" fill="#222" stroke="#222" stroke-width="0.18">0</text>
<text x="29.23" y="434.69" font-size="9.5" font-weight="normal" fill="#222" stroke="#222" stroke-width="0.18">5</text>
<text x="23.95" y="396.48" font-size="9.5" font-weight="normal" fill="#222" stroke="#222" stroke-width="0.18">10</text>
<text x="23.95" y="358.27" font-size="9.5" font-weight="normal" fill="#222" stroke="#222" stroke-width="0.18">15</text>
<text x="23.95" y="320.06" font-size="9.5" font-weight="normal" fill="#222" stroke="#222" stroke-width="0.18">20</text>
<text x="59.50" y="496.80" font-size="9.5" font-weight="normal" fill="#222" stroke="#222" stroke-width="0.18">−10</text>
<text x="119.76" y="496.80" font-size="9.5" font-weight="normal" fill="#222" stroke="#222" stroke-width="0.18">0</text>
<text x="167.43" y="496.80" font-size="9.5" font-weight="normal" fill="#222" stroke="#222" stroke-width="0.18">10</text>
<text x="218.23" y="496.80" font-size="9.5" font-weight="normal" fill="#222" stroke="#222" stroke-width="0.18">20</text>
<line x1="419.40" y1="308.5" x2="419.40" y2="487.5" stroke="#efefef" stroke-width="1"/>
<line x1="469.90" y1="308.5" x2="469.90" y2="487.5" stroke="#efefef" stroke-width="1"/>
<line x1="520.40" y1="308.5" x2="520.40" y2="487.5" stroke="#efefef" stroke-width="1"/>
<line x1="570.90" y1="308.5" x2="570.90" y2="487.5" stroke="#efefef" stroke-width="1"/>
<line x1="384.5" y1="471.20" x2="590" y2="471.20" stroke="#efefef" stroke-width="1"/>
<line x1="384.5" y1="432.50" x2="590" y2="432.50" stroke="#efefef" stroke-width="1"/>
<line x1="384.5" y1="393.80" x2="590" y2="393.80" stroke="#efefef" stroke-width="1"/>
<line x1="384.5" y1="355.10" x2="590" y2="355.10" stroke="#efefef" stroke-width="1"/>
<line x1="384.5" y1="316.40" x2="590" y2="316.40" stroke="#efefef" stroke-width="1"/>
<path d="M379.00,471.13 L380.01,471.05 L381.02,470.98 L382.03,470.90 L383.04,470.83 L384.05,470.75 L385.06,470.68 L386.07,470.60 L387.08,470.53 L388.09,470.46 L389.10,470.39 L390.11,470.32 L391.12,470.25 L392.13,470.18 L393.14,470.11 L394.15,470.03 L395.16,469.96 L396.17,469.89 L397.18,469.82 L398.19,469.74 L399.20,469.67 L400.21,469.59 L401.22,469.51 L402.23,469.43 L403.24,469.35 L404.25,469.26 L405.26,469.18 L406.27,469.09 L407.28,469.00 L408.29,468.90 L409.30,468.80 L410.31,468.70 L411.32,468.60 L412.33,468.49 L413.34,468.38 L414.35,468.27 L415.36,468.15 L416.37,468.03 L417.38,467.91 L418.39,467.78 L419.40,467.64 L420.41,467.50 L421.42,467.36 L422.43,467.21 L423.44,467.06 L424.45,466.89 L425.46,466.73 L426.47,466.55 L427.48,466.37 L428.49,466.18 L429.50,465.98 L430.51,465.77 L431.52,465.55 L432.53,465.33 L433.54,465.09 L434.55,464.84 L435.56,464.58 L436.57,464.31 L437.58,464.03 L438.59,463.74 L439.60,463.43 L440.61,463.11 L441.62,462.78 L442.63,462.43 L443.64,462.06 L444.65,461.69 L445.66,461.29 L446.67,460.88 L447.68,460.45 L448.69,460.01 L449.70,459.54 L450.71,459.06 L451.72,458.56 L452.73,458.04 L453.74,457.51 L454.75,456.95 L455.76,456.37 L456.77,455.76 L457.78,455.14 L458.79,454.50 L459.80,453.83 L460.81,453.13 L461.82,452.41 L462.83,451.66 L463.84,450.88 L464.85,450.07 L465.86,449.23 L466.87,448.35 L467.88,447.43 L468.89,446.47 L469.90,445.47 L470.91,444.42 L471.92,443.33 L472.93,442.20 L473.94,441.01 L474.95,439.78 L475.96,438.49 L476.97,437.15 L477.98,435.75 L478.99,434.30 L480.00,432.78 L481.01,431.21 L482.02,429.58 L483.03,427.88 L484.04,426.12 L485.05,424.30 L486.06,422.42 L487.07,420.47 L488.08,418.48 L489.09,416.42 L490.10,414.31 L491.11,412.15 L492.12,409.94 L493.13,407.68 L494.14,405.37 L495.15,403.02 L496.16,400.62 L497.17,398.18 L498.18,395.69 L499.19,393.17 L500.20,390.61 L501.21,388.02 L502.22,385.39 L503.23,382.73 L504.24,380.03 L505.25,377.29 L506.26,374.52 L507.27,371.72 L508.28,368.89 L509.29,366.02 L510.30,363.11 L511.31,360.18 L512.32,357.21 L513.33,354.21 L514.34,351.19 L515.35,348.15 L516.36,345.09 L517.37,342.00 L518.38,338.90 L519.39,335.77 L520.40,332.62 L521.41,329.46 L522.42,326.27 L523.43,323.07 L524.44,319.85 L525.45,316.61 L526.46,313.36 L527.47,310.09 L528.48,306.80 L529.49,303.50 L530.50,300.18 L531.51,296.86 L532.52,293.53 L533.53,290.19 L534.54,286.85 L535.55,283.51 L535.55,283.51 L535.55,299.70 L535.55,299.70 L534.54,302.85 L533.53,306.00 L532.52,309.14 L531.51,312.28 L530.50,315.41 L529.49,318.53 L528.48,321.64 L527.47,324.73 L526.46,327.81 L525.45,330.88 L524.44,333.93 L523.43,336.96 L522.42,339.98 L521.41,342.98 L520.40,345.96 L519.39,348.92 L518.38,351.86 L517.37,354.79 L516.36,357.69 L515.35,360.58 L514.34,363.45 L513.33,366.29 L512.32,369.11 L511.31,371.90 L510.30,374.67 L509.29,377.40 L508.28,380.11 L507.27,382.78 L506.26,385.42 L505.25,388.02 L504.24,390.60 L503.23,393.14 L502.22,395.65 L501.21,398.13 L500.20,400.57 L499.19,402.98 L498.18,405.35 L497.17,407.69 L496.16,409.99 L495.15,412.25 L494.14,414.46 L493.13,416.64 L492.12,418.77 L491.11,420.85 L490.10,422.89 L489.09,424.87 L488.08,426.81 L487.07,428.69 L486.06,430.52 L485.05,432.29 L484.04,434.01 L483.03,435.66 L482.02,437.26 L481.01,438.80 L480.00,440.28 L478.99,441.71 L477.98,443.08 L476.97,444.39 L475.96,445.65 L474.95,446.87 L473.94,448.03 L472.93,449.15 L471.92,450.22 L470.91,451.24 L469.90,452.23 L468.89,453.17 L467.88,454.07 L466.87,454.94 L465.86,455.77 L464.85,456.56 L463.84,457.33 L462.83,458.06 L461.82,458.77 L460.81,459.44 L459.80,460.10 L458.79,460.73 L457.78,461.34 L456.77,461.92 L455.76,462.49 L454.75,463.04 L453.74,463.56 L452.73,464.07 L451.72,464.56 L450.71,465.03 L449.70,465.48 L448.69,465.92 L447.68,466.34 L446.67,466.74 L445.66,467.13 L444.65,467.50 L443.64,467.85 L442.63,468.20 L441.62,468.52 L440.61,468.84 L439.60,469.14 L438.59,469.43 L437.58,469.71 L436.57,469.97 L435.56,470.23 L434.55,470.47 L433.54,470.70 L432.53,470.93 L431.52,471.14 L430.51,471.34 L429.50,471.54 L428.49,471.73 L427.48,471.91 L426.47,472.08 L425.46,472.25 L424.45,472.40 L423.44,472.56 L422.43,472.70 L421.42,472.85 L420.41,472.98 L419.40,473.12 L418.39,473.24 L417.38,473.37 L416.37,473.49 L415.36,473.60 L414.35,473.72 L413.34,473.83 L412.33,473.93 L411.32,474.04 L410.31,474.14 L409.30,474.23 L408.29,474.33 L407.28,474.42 L406.27,474.51 L405.26,474.59 L404.25,474.68 L403.24,474.76 L402.23,474.84 L401.22,474.92 L400.21,475.00 L399.20,475.08 L398.19,475.15 L397.18,475.23 L396.17,475.30 L395.16,475.37 L394.15,475.44 L393.14,475.52 L392.13,475.59 L391.12,475.66 L390.11,475.73 L389.10,475.80 L388.09,475.87 L387.08,475.94 L386.07,476.02 L385.06,476.09 L384.05,476.16 L383.04,476.24 L382.03,476.32 L381.02,476.39 L380.01,476.47 L379.00,476.55 Z" fill="#f3e6ff" fill-opacity="0.38" stroke="none" clip-path="url(#cBR)"/>
<path d="M379.00,472.62 L380.01,472.53 L381.02,472.44 L382.03,472.36 L383.04,472.27 L384.05,472.19 L385.06,472.11 L386.07,472.03 L387.08,471.95 L388.09,471.87 L389.10,471.80 L390.11,471.73 L391.12,471.65 L392.13,471.58 L393.14,471.51 L394.15,471.45 L395.16,471.38 L396.17,471.31 L397.18,471.25 L398.19,471.18 L399.20,471.12 L400.21,471.05 L401.22,470.99 L402.23,470.92 L403.24,470.86 L404.25,470.80 L405.26,470.73 L406.27,470.67 L407.28,470.60 L408.29,470.54 L409.30,470.47 L410.31,470.41 L411.32,470.34 L412.33,470.27 L413.34,470.21 L414.35,470.14 L415.36,470.07 L416.37,470.00 L417.38,469.93 L418.39,469.85 L419.40,469.78 L420.41,469.71 L421.42,469.63 L422.43,469.55 L423.44,469.48 L424.45,469.39 L425.46,469.31 L426.47,469.22 L427.48,469.13 L428.49,469.04 L429.50,468.95 L430.51,468.85 L431.52,468.74 L432.53,468.63 L433.54,468.52 L434.55,468.40 L435.56,468.28 L436.57,468.15 L437.58,468.01 L438.59,467.87 L439.60,467.72 L440.61,467.57 L441.62,467.41 L442.63,467.24 L443.64,467.06 L444.65,466.87 L445.66,466.68 L446.67,466.47 L447.68,466.26 L448.69,466.04 L449.70,465.80 L450.71,465.56 L451.72,465.31 L452.73,465.04 L453.74,464.76 L454.75,464.47 L455.76,464.17 L456.77,463.85 L457.78,463.52 L458.79,463.18 L459.80,462.82 L460.81,462.45 L461.82,462.06 L462.83,461.66 L463.84,461.24 L464.85,460.80 L465.86,460.34 L466.87,459.87 L467.88,459.37 L468.89,458.86 L469.90,458.33 L470.91,457.77 L471.92,457.19 L472.93,456.59 L473.94,455.96 L474.95,455.30 L475.96,454.61 L476.97,453.90 L477.98,453.15 L478.99,452.37 L480.00,451.56 L481.01,450.71 L482.02,449.83 L483.03,448.90 L484.04,447.94 L485.05,446.94 L486.06,445.91 L487.07,444.83 L488.08,443.71 L489.09,442.56 L490.10,441.36 L491.11,440.12 L492.12,438.83 L493.13,437.50 L494.14,436.13 L495.15,434.72 L496.16,433.26 L497.17,431.76 L498.18,430.22 L499.19,428.64 L500.20,427.04 L501.21,425.40 L502.22,423.74 L503.23,422.06 L504.24,420.35 L505.25,418.62 L506.26,416.88 L507.27,415.12 L508.28,413.35 L509.29,411.58 L510.30,409.80 L511.31,408.01 L512.32,406.22 L513.33,404.41 L514.34,402.60 L515.35,400.77 L516.36,398.92 L517.37,397.05 L518.38,395.16 L519.39,393.25 L520.40,391.30 L521.41,389.32 L522.42,387.31 L523.43,385.26 L524.44,383.19 L525.45,381.08 L526.46,378.93 L527.47,376.75 L528.48,374.54 L529.49,372.29 L530.50,370.00 L531.51,367.68 L532.52,365.33 L533.53,362.94 L534.54,360.51 L535.55,358.04 L536.56,355.54 L537.57,353.00 L538.58,350.42 L539.59,347.80 L540.60,345.14 L541.61,342.45 L542.62,339.72 L543.63,336.96 L544.64,334.17 L545.65,331.35 L546.66,328.50 L547.67,325.63 L548.68,322.73 L549.69,319.81 L550.70,316.88 L551.71,313.92 L552.72,310.95 L553.73,307.97 L554.74,304.97 L555.75,301.97 L556.76,298.95 L557.77,295.93 L558.78,292.91 L559.79,289.88 L560.80,286.85 L560.80,286.85 L560.80,306.44 L560.80,306.44 L559.79,309.06 L558.78,311.69 L557.77,314.31 L556.76,316.93 L555.75,319.55 L554.74,322.17 L553.73,324.78 L552.72,327.40 L551.71,330.01 L550.70,332.61 L549.69,335.21 L548.68,337.80 L547.67,340.37 L546.66,342.93 L545.65,345.48 L544.64,348.01 L543.63,350.51 L542.62,353.00 L541.61,355.46 L540.60,357.90 L539.59,360.31 L538.58,362.69 L537.57,365.04 L536.56,367.36 L535.55,369.65 L534.54,371.91 L533.53,374.13 L532.52,376.33 L531.51,378.50 L530.50,380.64 L529.49,382.75 L528.48,384.83 L527.47,386.88 L526.46,388.90 L525.45,390.89 L524.44,392.85 L523.43,394.79 L522.42,396.69 L521.41,398.56 L520.40,400.40 L519.39,402.21 L518.38,403.99 L517.37,405.75 L516.36,407.49 L515.35,409.21 L514.34,410.92 L513.33,412.62 L512.32,414.30 L511.31,415.98 L510.30,417.66 L509.29,419.34 L508.28,421.02 L507.27,422.69 L506.26,424.35 L505.25,426.00 L504.24,427.64 L503.23,429.27 L502.22,430.87 L501.21,432.45 L500.20,434.01 L499.19,435.54 L498.18,437.04 L497.17,438.51 L496.16,439.94 L495.15,441.33 L494.14,442.68 L493.13,443.99 L492.12,445.26 L491.11,446.48 L490.10,447.67 L489.09,448.82 L488.08,449.92 L487.07,450.99 L486.06,452.02 L485.05,453.02 L484.04,453.98 L483.03,454.90 L482.02,455.79 L481.01,456.64 L480.00,457.47 L478.99,458.26 L477.98,459.01 L476.97,459.74 L475.96,460.44 L474.95,461.11 L473.94,461.76 L472.93,462.38 L471.92,462.97 L470.91,463.54 L469.90,464.09 L468.89,464.63 L467.88,465.14 L466.87,465.63 L465.86,466.10 L464.85,466.56 L463.84,466.99 L462.83,467.41 L461.82,467.82 L460.81,468.21 L459.80,468.58 L458.79,468.94 L457.78,469.28 L456.77,469.61 L455.76,469.93 L454.75,470.23 L453.74,470.52 L452.73,470.80 L451.72,471.07 L450.71,471.32 L449.70,471.57 L448.69,471.80 L447.68,472.02 L446.67,472.24 L445.66,472.44 L444.65,472.63 L443.64,472.82 L442.63,473.00 L441.62,473.17 L440.61,473.33 L439.60,473.49 L438.59,473.64 L437.58,473.78 L436.57,473.91 L435.56,474.05 L434.55,474.17 L433.54,474.29 L432.53,474.41 L431.52,474.52 L430.51,474.63 L429.50,474.74 L428.49,474.85 L427.48,474.95 L426.47,475.05 L425.46,475.15 L424.45,475.25 L423.44,475.34 L422.43,475.44 L421.42,475.54 L420.41,475.64 L419.40,475.74 L418.39,475.84 L417.38,475.94 L416.37,476.04 L415.36,476.15 L414.35,476.25 L413.34,476.35 L412.33,476.46 L411.32,476.56 L410.31,476.66 L409.30,476.77 L408.29,476.87 L407.28,476.97 L406.27,477.07 L405.26,477.17 L404.25,477.27 L403.24,477.37 L402.23,477.47 L401.22,477.56 L400.21,477.66 L399.20,477.75 L398.19,477.84 L397.18,477.93 L396.17,478.02 L395.16,478.11 L394.15,478.20 L393.14,478.29 L392.13,478.38 L391.12,478.48 L390.11,478.57 L389.10,478.66 L388.09,478.75 L387.08,478.84 L386.07,478.94 L385.06,479.03 L384.05,479.13 L383.04,479.23 L382.03,479.33 L381.02,479.43 L380.01,479.53 L379.00,479.63 Z" fill="#e9d8ff" fill-opacity="0.48" stroke="none" clip-path="url(#cBR)"/>
<path d="M379.00,471.54 L380.01,471.47 L381.02,471.39 L382.03,471.31 L383.04,471.24 L384.05,471.16 L385.06,471.09 L386.07,471.01 L387.08,470.94 L388.09,470.87 L389.10,470.79 L390.11,470.72 L391.12,470.65 L392.13,470.58 L393.14,470.50 L394.15,470.43 L395.16,470.36 L396.17,470.28 L397.18,470.21 L398.19,470.14 L399.20,470.06 L400.21,469.99 L401.22,469.91 L402.23,469.83 L403.24,469.75 L404.25,469.67 L405.26,469.59 L406.27,469.51 L407.28,469.43 L408.29,469.34 L409.30,469.26 L410.31,469.17 L411.32,469.07 L412.33,468.98 L413.34,468.89 L414.35,468.79 L415.36,468.69 L416.37,468.58 L417.38,468.47 L418.39,468.36 L419.40,468.25 L420.41,468.13 L421.42,468.01 L422.43,467.89 L423.44,467.76 L424.45,467.62 L425.46,467.48 L426.47,467.34 L427.48,467.19 L428.49,467.03 L429.50,466.87 L430.51,466.70 L431.52,466.52 L432.53,466.33 L433.54,466.14 L434.55,465.94 L435.56,465.73 L436.57,465.51 L437.58,465.28 L438.59,465.04 L439.60,464.79 L440.61,464.53 L441.62,464.26 L442.63,463.98 L443.64,463.69 L444.65,463.38 L445.66,463.07 L446.67,462.75 L447.68,462.42 L448.69,462.08 L449.70,461.73 L450.71,461.37 L451.72,461.01 L452.73,460.63 L453.74,460.24 L454.75,459.85 L455.76,459.44 L456.77,459.03 L457.78,458.60 L458.79,458.17 L459.80,457.73 L460.81,457.29 L461.82,456.83 L462.83,456.37 L463.84,455.90 L464.85,455.43 L465.86,454.96 L466.87,454.48 L467.88,454.00 L468.89,453.52 L469.90,453.03 L470.91,452.55 L471.92,452.07 L472.93,451.58 L473.94,451.10 L474.95,450.61 L475.96,450.12 L476.97,449.63 L477.98,449.14 L478.99,448.64 L480.00,448.15 L481.01,447.65 L482.02,447.14 L483.03,446.64 L484.04,446.13 L485.05,445.63 L486.06,445.12 L487.07,444.62 L488.08,444.12 L489.09,443.62 L490.10,443.12 L491.11,442.63 L492.12,442.14 L493.13,441.65 L494.14,441.18 L495.15,440.70 L496.16,440.24 L497.17,439.78 L498.18,439.33 L499.19,438.89 L500.20,438.45 L501.21,438.01 L502.22,437.58 L503.23,437.15 L504.24,436.72 L505.25,436.30 L506.26,435.88 L507.27,435.46 L508.28,435.04 L509.29,434.62 L510.30,434.20 L511.31,433.78 L512.32,433.36 L513.33,432.93 L514.34,432.51 L515.35,432.08 L516.36,431.64 L517.37,431.20 L518.38,430.76 L519.39,430.31 L520.40,429.86 L521.41,429.40 L522.42,428.93 L523.43,428.46 L524.44,427.98 L525.45,427.50 L526.46,427.01 L527.47,426.52 L528.48,426.02 L529.49,425.52 L530.50,425.02 L531.51,424.51 L532.52,424.00 L533.53,423.48 L534.54,422.97 L535.55,422.45 L536.56,421.93 L537.57,421.41 L538.58,420.88 L539.59,420.36 L540.60,419.84 L541.61,419.31 L542.62,418.79 L543.63,418.26 L544.64,417.73 L545.65,417.21 L546.66,416.68 L547.67,416.15 L548.68,415.63 L549.69,415.10 L550.70,414.57 L551.71,414.04 L552.72,413.51 L553.73,412.99 L554.74,412.46 L555.75,411.93 L556.76,411.40 L557.77,410.87 L558.78,410.34 L559.79,409.82 L560.80,409.29 L560.80,409.29 L560.80,413.93 L560.80,413.93 L559.79,414.46 L558.78,414.99 L557.77,415.52 L556.76,416.05 L555.75,416.57 L554.74,417.10 L553.73,417.63 L552.72,418.16 L551.71,418.69 L550.70,419.21 L549.69,419.74 L548.68,420.27 L547.67,420.80 L546.66,421.32 L545.65,421.85 L544.64,422.38 L543.63,422.90 L542.62,423.43 L541.61,423.95 L540.60,424.48 L539.59,425.00 L538.58,425.53 L537.57,426.05 L536.56,426.57 L535.55,427.09 L534.54,427.61 L533.53,428.13 L532.52,428.64 L531.51,429.15 L530.50,429.66 L529.49,430.17 L528.48,430.67 L527.47,431.16 L526.46,431.66 L525.45,432.14 L524.44,432.63 L523.43,433.10 L522.42,433.58 L521.41,434.04 L520.40,434.50 L519.39,434.96 L518.38,435.41 L517.37,435.85 L516.36,436.29 L515.35,436.72 L514.34,437.15 L513.33,437.58 L512.32,438.00 L511.31,438.42 L510.30,438.84 L509.29,439.26 L508.28,439.68 L507.27,440.10 L506.26,440.52 L505.25,440.94 L504.24,441.37 L503.23,441.79 L502.22,442.22 L501.21,442.65 L500.20,443.09 L499.19,443.53 L498.18,443.98 L497.17,444.43 L496.16,444.88 L495.15,445.35 L494.14,445.82 L493.13,446.30 L492.12,446.78 L491.11,447.27 L490.10,447.76 L489.09,448.26 L488.08,448.76 L487.07,449.26 L486.06,449.77 L485.05,450.27 L484.04,450.78 L483.03,451.28 L482.02,451.79 L481.01,452.29 L480.00,452.79 L478.99,453.29 L477.98,453.78 L476.97,454.28 L475.96,454.77 L474.95,455.25 L473.94,455.74 L472.93,456.22 L471.92,456.71 L470.91,457.19 L469.90,457.68 L468.89,458.16 L467.88,458.64 L466.87,459.12 L465.86,459.60 L464.85,460.08 L463.84,460.55 L462.83,461.01 L461.82,461.47 L460.81,461.93 L459.80,462.38 L458.79,462.82 L457.78,463.25 L456.77,463.67 L455.76,464.08 L454.75,464.49 L453.74,464.89 L452.73,465.27 L451.72,465.65 L450.71,466.02 L449.70,466.38 L448.69,466.73 L447.68,467.07 L446.67,467.40 L445.66,467.72 L444.65,468.03 L443.64,468.33 L442.63,468.62 L441.62,468.90 L440.61,469.17 L439.60,469.43 L438.59,469.68 L437.58,469.92 L436.57,470.15 L435.56,470.37 L434.55,470.58 L433.54,470.78 L432.53,470.98 L431.52,471.16 L430.51,471.34 L429.50,471.51 L428.49,471.67 L427.48,471.83 L426.47,471.98 L425.46,472.13 L424.45,472.27 L423.44,472.40 L422.43,472.53 L421.42,472.66 L420.41,472.78 L419.40,472.89 L418.39,473.01 L417.38,473.12 L416.37,473.23 L415.36,473.33 L414.35,473.43 L413.34,473.53 L412.33,473.63 L411.32,473.72 L410.31,473.81 L409.30,473.90 L408.29,473.99 L407.28,474.07 L406.27,474.16 L405.26,474.24 L404.25,474.32 L403.24,474.40 L402.23,474.48 L401.22,474.55 L400.21,474.63 L399.20,474.71 L398.19,474.78 L397.18,474.85 L396.17,474.93 L395.16,475.00 L394.15,475.07 L393.14,475.15 L392.13,475.22 L391.12,475.29 L390.11,475.37 L389.10,475.44 L388.09,475.51 L387.08,475.58 L386.07,475.66 L385.06,475.73 L384.05,475.81 L383.04,475.88 L382.03,475.96 L381.02,476.03 L380.01,476.11 L379.00,476.19 Z" fill="#f3e8ff" fill-opacity="0.45" stroke="none" clip-path="url(#cBR)"/>
<path d="M379.00,472.02 L380.01,471.96 L381.02,471.89 L382.03,471.83 L383.04,471.77 L384.05,471.71 L385.06,471.65 L386.07,471.59 L387.08,471.53 L388.09,471.47 L389.10,471.42 L390.11,471.36 L391.12,471.30 L392.13,471.24 L393.14,471.18 L394.15,471.11 L395.16,471.05 L396.17,470.99 L397.18,470.92 L398.19,470.85 L399.20,470.78 L400.21,470.71 L401.22,470.64 L402.23,470.57 L403.24,470.49 L404.25,470.41 L405.26,470.33 L406.27,470.24 L407.28,470.16 L408.29,470.06 L409.30,469.97 L410.31,469.87 L411.32,469.77 L412.33,469.67 L413.34,469.56 L414.35,469.45 L415.36,469.33 L416.37,469.21 L417.38,469.09 L418.39,468.96 L419.40,468.83 L420.41,468.69 L421.42,468.55 L422.43,468.41 L423.44,468.25 L424.45,468.10 L425.46,467.93 L426.47,467.76 L427.48,467.58 L428.49,467.40 L429.50,467.21 L430.51,467.00 L431.52,466.79 L432.53,466.58 L433.54,466.35 L434.55,466.11 L435.56,465.86 L436.57,465.60 L437.58,465.33 L438.59,465.05 L439.60,464.75 L440.61,464.45 L441.62,464.13 L442.63,463.80 L443.64,463.45 L444.65,463.09 L445.66,462.72 L446.67,462.33 L447.68,461.92 L448.69,461.50 L449.70,461.06 L450.71,460.60 L451.72,460.13 L452.73,459.64 L453.74,459.13 L454.75,458.60 L455.76,458.05 L456.77,457.48 L457.78,456.89 L458.79,456.28 L459.80,455.64 L460.81,454.99 L461.82,454.32 L462.83,453.63 L463.84,452.92 L464.85,452.20 L465.86,451.46 L466.87,450.71 L467.88,449.96 L468.89,449.19 L469.90,448.41 L470.91,447.62 L471.92,446.83 L472.93,446.04 L473.94,445.23 L474.95,444.43 L475.96,443.62 L476.97,442.80 L477.98,441.98 L478.99,441.16 L480.00,440.34 L481.01,439.52 L482.02,438.69 L483.03,437.87 L484.04,437.04 L485.05,436.21 L486.06,435.38 L487.07,434.55 L488.08,433.71 L489.09,432.88 L490.10,432.04 L491.11,431.20 L492.12,430.36 L493.13,429.51 L494.14,428.67 L495.15,427.82 L496.16,426.96 L497.17,426.11 L498.18,425.25 L499.19,424.39 L500.20,423.53 L501.21,422.66 L502.22,421.80 L503.23,420.93 L504.24,420.05 L505.25,419.18 L506.26,418.30 L507.27,417.42 L508.28,416.54 L509.29,415.66 L510.30,414.77 L511.31,413.88 L512.32,412.99 L513.33,412.10 L514.34,411.20 L515.35,410.30 L516.36,409.40 L517.37,408.50 L518.38,407.60 L519.39,406.69 L520.40,405.78 L521.41,404.87 L522.42,403.96 L523.43,403.04 L524.44,402.12 L525.45,401.20 L526.46,400.28 L527.47,399.36 L528.48,398.44 L529.49,397.51 L530.50,396.58 L531.51,395.65 L532.52,394.72 L533.53,393.79 L534.54,392.85 L535.55,391.92 L536.56,390.98 L537.57,390.05 L538.58,389.11 L539.59,388.17 L540.60,387.23 L541.61,386.28 L542.62,385.34 L543.63,384.40 L544.64,383.45 L545.65,382.51 L546.66,381.56 L547.67,380.62 L548.68,379.67 L549.69,378.72 L550.70,377.77 L551.71,376.83 L552.72,375.88 L553.73,374.93 L554.74,373.98 L555.75,373.03 L556.76,372.08 L557.77,371.13 L558.78,370.18 L559.79,369.23 L560.80,368.28 L560.80,368.28 L560.80,390.67 L560.80,390.67 L559.79,391.24 L558.78,391.81 L557.77,392.39 L556.76,392.96 L555.75,393.54 L554.74,394.12 L553.73,394.69 L552.72,395.27 L551.71,395.85 L550.70,396.43 L549.69,397.01 L548.68,397.59 L547.67,398.17 L546.66,398.75 L545.65,399.34 L544.64,399.92 L543.63,400.51 L542.62,401.10 L541.61,401.70 L540.60,402.29 L539.59,402.88 L538.58,403.48 L537.57,404.08 L536.56,404.69 L535.55,405.29 L534.54,405.90 L533.53,406.51 L532.52,407.13 L531.51,407.75 L530.50,408.37 L529.49,408.99 L528.48,409.62 L527.47,410.26 L526.46,410.89 L525.45,411.54 L524.44,412.18 L523.43,412.84 L522.42,413.49 L521.41,414.15 L520.40,414.82 L519.39,415.49 L518.38,416.17 L517.37,416.85 L516.36,417.54 L515.35,418.23 L514.34,418.93 L513.33,419.63 L512.32,420.34 L511.31,421.05 L510.30,421.76 L509.29,422.48 L508.28,423.20 L507.27,423.93 L506.26,424.66 L505.25,425.39 L504.24,426.12 L503.23,426.86 L502.22,427.60 L501.21,428.35 L500.20,429.09 L499.19,429.84 L498.18,430.59 L497.17,431.34 L496.16,432.09 L495.15,432.85 L494.14,433.61 L493.13,434.36 L492.12,435.12 L491.11,435.88 L490.10,436.65 L489.09,437.41 L488.08,438.17 L487.07,438.94 L486.06,439.71 L485.05,440.47 L484.04,441.24 L483.03,442.01 L482.02,442.78 L481.01,443.55 L480.00,444.32 L478.99,445.09 L477.98,445.87 L476.97,446.64 L475.96,447.41 L474.95,448.17 L473.94,448.94 L472.93,449.70 L471.92,450.46 L470.91,451.22 L469.90,451.96 L468.89,452.71 L467.88,453.44 L466.87,454.17 L465.86,454.89 L464.85,455.60 L463.84,456.29 L462.83,456.98 L461.82,457.64 L460.81,458.29 L459.80,458.93 L458.79,459.54 L457.78,460.13 L456.77,460.71 L455.76,461.26 L454.75,461.79 L453.74,462.31 L452.73,462.81 L451.72,463.29 L450.71,463.75 L449.70,464.20 L448.69,464.63 L447.68,465.04 L446.67,465.44 L445.66,465.83 L444.65,466.19 L443.64,466.55 L442.63,466.89 L441.62,467.22 L440.61,467.53 L439.60,467.84 L438.59,468.13 L437.58,468.41 L436.57,468.68 L435.56,468.93 L434.55,469.18 L433.54,469.42 L432.53,469.64 L431.52,469.86 L430.51,470.07 L429.50,470.27 L428.49,470.47 L427.48,470.65 L426.47,470.83 L425.46,471.00 L424.45,471.17 L423.44,471.33 L422.43,471.48 L421.42,471.63 L420.41,471.77 L419.40,471.91 L418.39,472.04 L417.38,472.17 L416.37,472.29 L415.36,472.42 L414.35,472.53 L413.34,472.65 L412.33,472.76 L411.32,472.87 L410.31,472.97 L409.30,473.07 L408.29,473.17 L407.28,473.27 L406.27,473.36 L405.26,473.45 L404.25,473.54 L403.24,473.63 L402.23,473.72 L401.22,473.80 L400.21,473.88 L399.20,473.97 L398.19,474.05 L397.18,474.12 L396.17,474.20 L395.16,474.28 L394.15,474.35 L393.14,474.43 L392.13,474.50 L391.12,474.58 L390.11,474.65 L389.10,474.72 L388.09,474.79 L387.08,474.87 L386.07,474.94 L385.06,475.01 L384.05,475.08 L383.04,475.15 L382.03,475.23 L381.02,475.30 L380.01,475.37 L379.00,475.44 Z" fill="#e6a7b0" fill-opacity="0.55" stroke="none" clip-path="url(#cBR)"/>
<path d="M379.00,472.80 L380.01,472.75 L381.02,472.70 L382.03,472.65 L383.04,472.60 L384.05,472.55 L385.06,472.50 L386.07,472.45 L387.08,472.40 L388.09,472.36 L389.10,472.32 L390.11,472.27 L391.12,472.23 L392.13,472.19 L393.14,472.15 L394.15,472.10 L395.16,472.06 L396.17,472.02 L397.18,471.98 L398.19,471.94 L399.20,471.89 L400.21,471.85 L401.22,471.80 L402.23,471.75 L403.24,471.71 L404.25,471.66 L405.26,471.61 L406.27,471.55 L407.28,471.50 L408.29,471.44 L409.30,471.38 L410.31,471.31 L411.32,471.24 L412.33,471.17 L413.34,471.09 L414.35,471.01 L415.36,470.92 L416.37,470.83 L417.38,470.73 L418.39,470.63 L419.40,470.52 L420.41,470.40 L421.42,470.27 L422.43,470.14 L423.44,470.00 L424.45,469.85 L425.46,469.70 L426.47,469.53 L427.48,469.36 L428.49,469.18 L429.50,468.99 L430.51,468.79 L431.52,468.58 L432.53,468.37 L433.54,468.14 L434.55,467.90 L435.56,467.66 L436.57,467.40 L437.58,467.13 L438.59,466.85 L439.60,466.57 L440.61,466.27 L441.62,465.96 L442.63,465.64 L443.64,465.30 L444.65,464.96 L445.66,464.60 L446.67,464.24 L447.68,463.86 L448.69,463.46 L449.70,463.06 L450.71,462.64 L451.72,462.21 L452.73,461.77 L453.74,461.31 L454.75,460.84 L455.76,460.36 L456.77,459.86 L457.78,459.35 L458.79,458.82 L459.80,458.28 L460.81,457.73 L461.82,457.17 L462.83,456.59 L463.84,456.01 L464.85,455.41 L465.86,454.81 L466.87,454.20 L467.88,453.58 L468.89,452.96 L469.90,452.34 L470.91,451.71 L471.92,451.08 L472.93,450.45 L473.94,449.82 L474.95,449.18 L475.96,448.54 L476.97,447.90 L477.98,447.26 L478.99,446.62 L480.00,445.97 L481.01,445.33 L482.02,444.68 L483.03,444.03 L484.04,443.39 L485.05,442.74 L486.06,442.09 L487.07,441.44 L488.08,440.79 L489.09,440.14 L490.10,439.49 L491.11,438.84 L492.12,438.19 L493.13,437.54 L494.14,436.89 L495.15,436.24 L496.16,435.59 L497.17,434.95 L498.18,434.30 L499.19,433.66 L500.20,433.01 L501.21,432.37 L502.22,431.73 L503.23,431.09 L504.24,430.45 L505.25,429.81 L506.26,429.18 L507.27,428.55 L508.28,427.91 L509.29,427.28 L510.30,426.65 L511.31,426.03 L512.32,425.40 L513.33,424.78 L514.34,424.16 L515.35,423.54 L516.36,422.92 L517.37,422.31 L518.38,421.70 L519.39,421.09 L520.40,420.48 L521.41,419.88 L522.42,419.27 L523.43,418.67 L524.44,418.08 L525.45,417.48 L526.46,416.89 L527.47,416.31 L528.48,415.72 L529.49,415.14 L530.50,414.57 L531.51,414.00 L532.52,413.43 L533.53,412.86 L534.54,412.30 L535.55,411.75 L536.56,411.20 L537.57,410.65 L538.58,410.11 L539.59,409.57 L540.60,409.04 L541.61,408.51 L542.62,407.99 L543.63,407.47 L544.64,406.96 L545.65,406.45 L546.66,405.94 L547.67,405.44 L548.68,404.94 L549.69,404.44 L550.70,403.95 L551.71,403.46 L552.72,402.97 L553.73,402.49 L554.74,402.00 L555.75,401.52 L556.76,401.04 L557.77,400.56 L558.78,400.08 L559.79,399.60 L560.80,399.12 L560.80,399.12 L560.80,413.06 L560.80,413.06 L559.79,413.34 L558.78,413.62 L557.77,413.90 L556.76,414.19 L555.75,414.47 L554.74,414.76 L553.73,415.04 L552.72,415.33 L551.71,415.62 L550.70,415.91 L549.69,416.21 L548.68,416.51 L547.67,416.81 L546.66,417.11 L545.65,417.42 L544.64,417.73 L543.63,418.05 L542.62,418.37 L541.61,418.69 L540.60,419.02 L539.59,419.36 L538.58,419.70 L537.57,420.04 L536.56,420.39 L535.55,420.74 L534.54,421.10 L533.53,421.47 L532.52,421.84 L531.51,422.22 L530.50,422.60 L529.49,422.99 L528.48,423.38 L527.47,423.78 L526.46,424.19 L525.45,424.60 L524.44,425.01 L523.43,425.44 L522.42,425.87 L521.41,426.30 L520.40,426.75 L519.39,427.20 L518.38,427.65 L517.37,428.11 L516.36,428.58 L515.35,429.05 L514.34,429.54 L513.33,430.02 L512.32,430.51 L511.31,431.01 L510.30,431.51 L509.29,432.02 L508.28,432.54 L507.27,433.06 L506.26,433.59 L505.25,434.12 L504.24,434.66 L503.23,435.20 L502.22,435.75 L501.21,436.30 L500.20,436.86 L499.19,437.42 L498.18,437.99 L497.17,438.56 L496.16,439.14 L495.15,439.72 L494.14,440.31 L493.13,440.90 L492.12,441.50 L491.11,442.10 L490.10,442.70 L489.09,443.31 L488.08,443.92 L487.07,444.53 L486.06,445.14 L485.05,445.75 L484.04,446.37 L483.03,446.99 L482.02,447.61 L481.01,448.22 L480.00,448.84 L478.99,449.46 L477.98,450.08 L476.97,450.69 L475.96,451.31 L474.95,451.92 L473.94,452.54 L472.93,453.15 L471.92,453.76 L470.91,454.37 L469.90,454.98 L468.89,455.58 L467.88,456.18 L466.87,456.78 L465.86,457.38 L464.85,457.96 L463.84,458.54 L462.83,459.11 L461.82,459.68 L460.81,460.23 L459.80,460.77 L458.79,461.29 L457.78,461.81 L456.77,462.31 L455.76,462.79 L454.75,463.27 L453.74,463.73 L452.73,464.17 L451.72,464.61 L450.71,465.03 L449.70,465.44 L448.69,465.84 L447.68,466.22 L446.67,466.60 L445.66,466.96 L444.65,467.31 L443.64,467.65 L442.63,467.98 L441.62,468.29 L440.61,468.60 L439.60,468.90 L438.59,469.18 L437.58,469.45 L436.57,469.72 L435.56,469.97 L434.55,470.22 L433.54,470.45 L432.53,470.68 L431.52,470.90 L430.51,471.10 L429.50,471.30 L428.49,471.49 L427.48,471.67 L426.47,471.84 L425.46,472.01 L424.45,472.16 L423.44,472.31 L422.43,472.45 L421.42,472.59 L420.41,472.71 L419.40,472.83 L418.39,472.94 L417.38,473.05 L416.37,473.15 L415.36,473.24 L414.35,473.33 L413.34,473.41 L412.33,473.49 L411.32,473.56 L410.31,473.63 L409.30,473.70 L408.29,473.76 L407.28,473.82 L406.27,473.87 L405.26,473.93 L404.25,473.98 L403.24,474.03 L402.23,474.08 L401.22,474.12 L400.21,474.17 L399.20,474.21 L398.19,474.26 L397.18,474.30 L396.17,474.34 L395.16,474.39 L394.15,474.43 L393.14,474.47 L392.13,474.51 L391.12,474.55 L390.11,474.60 L389.10,474.64 L388.09,474.68 L387.08,474.73 L386.07,474.77 L385.06,474.82 L384.05,474.87 L383.04,474.92 L382.03,474.97 L381.02,475.02 L380.01,475.07 L379.00,475.12 Z" fill="#fcc4b0" fill-opacity="0.55" stroke="none" clip-path="url(#cBR)"/>
<line x1="384.8" y1="457.4" x2="587.0" y2="457.4" stroke="#ef5560" stroke-width="1.5" stroke-dasharray="3.7 2.8" clip-path="url(#cBR)"/>
<path d="M379.00,473.86 L380.01,473.79 L381.02,473.71 L382.03,473.64 L383.04,473.56 L384.05,473.48 L385.06,473.41 L386.07,473.34 L387.08,473.26 L388.09,473.19 L389.10,473.12 L390.11,473.04 L391.12,472.97 L392.13,472.90 L393.14,472.83 L394.15,472.75 L395.16,472.68 L396.17,472.61 L397.18,472.53 L398.19,472.46 L399.20,472.38 L400.21,472.31 L401.22,472.23 L402.23,472.15 L403.24,472.08 L404.25,472.00 L405.26,471.92 L406.27,471.83 L407.28,471.75 L408.29,471.66 L409.30,471.58 L410.31,471.49 L411.32,471.40 L412.33,471.30 L413.34,471.21 L414.35,471.11 L415.36,471.01 L416.37,470.90 L417.38,470.80 L418.39,470.69 L419.40,470.57 L420.41,470.46 L421.42,470.33 L422.43,470.21 L423.44,470.08 L424.45,469.95 L425.46,469.81 L426.47,469.66 L427.48,469.51 L428.49,469.35 L429.50,469.19 L430.51,469.02 L431.52,468.84 L432.53,468.65 L433.54,468.46 L434.55,468.26 L435.56,468.05 L436.57,467.83 L437.58,467.60 L438.59,467.36 L439.60,467.11 L440.61,466.85 L441.62,466.58 L442.63,466.30 L443.64,466.01 L444.65,465.71 L445.66,465.40 L446.67,465.08 L447.68,464.75 L448.69,464.41 L449.70,464.06 L450.71,463.70 L451.72,463.33 L452.73,462.95 L453.74,462.56 L454.75,462.17 L455.76,461.76 L456.77,461.35 L457.78,460.93 L458.79,460.49 L459.80,460.05 L460.81,459.61 L461.82,459.15 L462.83,458.69 L463.84,458.22 L464.85,457.75 L465.86,457.28 L466.87,456.80 L467.88,456.32 L468.89,455.84 L469.90,455.35 L470.91,454.87 L471.92,454.39 L472.93,453.90 L473.94,453.42 L474.95,452.93 L475.96,452.44 L476.97,451.95 L477.98,451.46 L478.99,450.97 L480.00,450.47 L481.01,449.97 L482.02,449.47 L483.03,448.96 L484.04,448.46 L485.05,447.95 L486.06,447.45 L487.07,446.94 L488.08,446.44 L489.09,445.94 L490.10,445.44 L491.11,444.95 L492.12,444.46 L493.13,443.98 L494.14,443.50 L495.15,443.03 L496.16,442.56 L497.17,442.11 L498.18,441.65 L499.19,441.21 L500.20,440.77 L501.21,440.33 L502.22,439.90 L503.23,439.47 L504.24,439.05 L505.25,438.62 L506.26,438.20 L507.27,437.78 L508.28,437.36 L509.29,436.94 L510.30,436.52 L511.31,436.10 L512.32,435.68 L513.33,435.25 L514.34,434.83 L515.35,434.40 L516.36,433.96 L517.37,433.53 L518.38,433.08 L519.39,432.63 L520.40,432.18 L521.41,431.72 L522.42,431.25 L523.43,430.78 L524.44,430.30 L525.45,429.82 L526.46,429.33 L527.47,428.84 L528.48,428.34 L529.49,427.84 L530.50,427.34 L531.51,426.83 L532.52,426.32 L533.53,425.81 L534.54,425.29 L535.55,424.77 L536.56,424.25 L537.57,423.73 L538.58,423.21 L539.59,422.68 L540.60,422.16 L541.61,421.63 L542.62,421.11 L543.63,420.58 L544.64,420.06 L545.65,419.53 L546.66,419.00 L547.67,418.47 L548.68,417.95 L549.69,417.42 L550.70,416.89 L551.71,416.36 L552.72,415.84 L553.73,415.31 L554.74,414.78 L555.75,414.25 L556.76,413.72 L557.77,413.19 L558.78,412.67 L559.79,412.14 L560.80,411.61 L560.80,411.61" fill="none" stroke="#cc88ff" stroke-width="1.3" stroke-dasharray="4.2 4.4" stroke-opacity="1" clip-path="url(#cBR)"/>
<path d="M379.00,473.96 L380.01,473.91 L381.02,473.86 L382.03,473.81 L383.04,473.76 L384.05,473.71 L385.06,473.66 L386.07,473.61 L387.08,473.57 L388.09,473.52 L389.10,473.48 L390.11,473.43 L391.12,473.39 L392.13,473.35 L393.14,473.31 L394.15,473.27 L395.16,473.22 L396.17,473.18 L397.18,473.14 L398.19,473.10 L399.20,473.05 L400.21,473.01 L401.22,472.96 L402.23,472.92 L403.24,472.87 L404.25,472.82 L405.26,472.77 L406.27,472.71 L407.28,472.66 L408.29,472.60 L409.30,472.54 L410.31,472.47 L411.32,472.40 L412.33,472.33 L413.34,472.25 L414.35,472.17 L415.36,472.08 L416.37,471.99 L417.38,471.89 L418.39,471.79 L419.40,471.67 L420.41,471.56 L421.42,471.43 L422.43,471.30 L423.44,471.16 L424.45,471.01 L425.46,470.85 L426.47,470.69 L427.48,470.52 L428.49,470.33 L429.50,470.14 L430.51,469.95 L431.52,469.74 L432.53,469.52 L433.54,469.30 L434.55,469.06 L435.56,468.81 L436.57,468.56 L437.58,468.29 L438.59,468.02 L439.60,467.73 L440.61,467.43 L441.62,467.13 L442.63,466.81 L443.64,466.48 L444.65,466.13 L445.66,465.78 L446.67,465.42 L447.68,465.04 L448.69,464.65 L449.70,464.25 L450.71,463.84 L451.72,463.41 L452.73,462.97 L453.74,462.52 L454.75,462.05 L455.76,461.57 L456.77,461.08 L457.78,460.58 L458.79,460.06 L459.80,459.52 L460.81,458.98 L461.82,458.42 L462.83,457.85 L463.84,457.27 L464.85,456.69 L465.86,456.09 L466.87,455.49 L467.88,454.88 L468.89,454.27 L469.90,453.66 L470.91,453.04 L471.92,452.42 L472.93,451.80 L473.94,451.18 L474.95,450.55 L475.96,449.93 L476.97,449.30 L477.98,448.67 L478.99,448.04 L480.00,447.41 L481.01,446.78 L482.02,446.14 L483.03,445.51 L484.04,444.88 L485.05,444.25 L486.06,443.61 L487.07,442.98 L488.08,442.35 L489.09,441.72 L490.10,441.09 L491.11,440.47 L492.12,439.84 L493.13,439.22 L494.14,438.60 L495.15,437.98 L496.16,437.37 L497.17,436.75 L498.18,436.14 L499.19,435.54 L500.20,434.93 L501.21,434.33 L502.22,433.74 L503.23,433.14 L504.24,432.55 L505.25,431.97 L506.26,431.38 L507.27,430.80 L508.28,430.22 L509.29,429.65 L510.30,429.08 L511.31,428.52 L512.32,427.96 L513.33,427.40 L514.34,426.84 L515.35,426.29 L516.36,425.75 L517.37,425.21 L518.38,424.67 L519.39,424.14 L520.40,423.61 L521.41,423.09 L522.42,422.57 L523.43,422.05 L524.44,421.54 L525.45,421.04 L526.46,420.54 L527.47,420.04 L528.48,419.55 L529.49,419.06 L530.50,418.58 L531.51,418.10 L532.52,417.63 L533.53,417.16 L534.54,416.70 L535.55,416.25 L536.56,415.79 L537.57,415.35 L538.58,414.90 L539.59,414.47 L540.60,414.04 L541.61,413.61 L542.62,413.19 L543.63,412.77 L544.64,412.36 L545.65,411.95 L546.66,411.55 L547.67,411.15 L548.68,410.75 L549.69,410.36 L550.70,409.97 L551.71,409.58 L552.72,409.19 L553.73,408.81 L554.74,408.43 L555.75,408.05 L556.76,407.67 L557.77,407.29 L558.78,406.92 L559.79,406.54 L560.80,406.16 L560.80,406.16" fill="none" stroke="#f55028" stroke-width="1.4" stroke-opacity="1" clip-path="url(#cBR)"/>
<path d="M379.00,473.73 L380.01,473.66 L381.02,473.60 L382.03,473.53 L383.04,473.46 L384.05,473.40 L385.06,473.33 L386.07,473.27 L387.08,473.20 L388.09,473.13 L389.10,473.07 L390.11,473.00 L391.12,472.94 L392.13,472.87 L393.14,472.80 L394.15,472.73 L395.16,472.66 L396.17,472.59 L397.18,472.52 L398.19,472.45 L399.20,472.38 L400.21,472.30 L401.22,472.22 L402.23,472.14 L403.24,472.06 L404.25,471.98 L405.26,471.89 L406.27,471.80 L407.28,471.71 L408.29,471.62 L409.30,471.52 L410.31,471.42 L411.32,471.32 L412.33,471.21 L413.34,471.10 L414.35,470.99 L415.36,470.87 L416.37,470.75 L417.38,470.63 L418.39,470.50 L419.40,470.37 L420.41,470.23 L421.42,470.09 L422.43,469.94 L423.44,469.79 L424.45,469.63 L425.46,469.47 L426.47,469.30 L427.48,469.12 L428.49,468.93 L429.50,468.74 L430.51,468.54 L431.52,468.33 L432.53,468.11 L433.54,467.88 L434.55,467.64 L435.56,467.40 L436.57,467.14 L437.58,466.87 L438.59,466.59 L439.60,466.29 L440.61,465.99 L441.62,465.67 L442.63,465.34 L443.64,465.00 L444.65,464.64 L445.66,464.27 L446.67,463.88 L447.68,463.48 L448.69,463.06 L449.70,462.63 L450.71,462.18 L451.72,461.71 L452.73,461.22 L453.74,460.72 L454.75,460.19 L455.76,459.65 L456.77,459.09 L457.78,458.51 L458.79,457.91 L459.80,457.28 L460.81,456.64 L461.82,455.98 L462.83,455.30 L463.84,454.61 L464.85,453.90 L465.86,453.18 L466.87,452.44 L467.88,451.70 L468.89,450.95 L469.90,450.19 L470.91,449.42 L471.92,448.65 L472.93,447.87 L473.94,447.09 L474.95,446.30 L475.96,445.51 L476.97,444.72 L477.98,443.93 L478.99,443.13 L480.00,442.34 L481.01,441.54 L482.02,440.75 L483.03,439.95 L484.04,439.15 L485.05,438.36 L486.06,437.56 L487.07,436.76 L488.08,435.96 L489.09,435.16 L490.10,434.36 L491.11,433.56 L492.12,432.76 L493.13,431.96 L494.14,431.16 L495.15,430.36 L496.16,429.55 L497.17,428.75 L498.18,427.95 L499.19,427.14 L500.20,426.34 L501.21,425.53 L502.22,424.73 L503.23,423.92 L504.24,423.12 L505.25,422.32 L506.26,421.51 L507.27,420.71 L508.28,419.91 L509.29,419.10 L510.30,418.30 L511.31,417.50 L512.32,416.70 L513.33,415.91 L514.34,415.11 L515.35,414.32 L516.36,413.52 L517.37,412.73 L518.38,411.94 L519.39,411.15 L520.40,410.36 L521.41,409.58 L522.42,408.80 L523.43,408.02 L524.44,407.24 L525.45,406.46 L526.46,405.68 L527.47,404.91 L528.48,404.14 L529.49,403.36 L530.50,402.59 L531.51,401.82 L532.52,401.05 L533.53,400.29 L534.54,399.52 L535.55,398.75 L536.56,397.99 L537.57,397.22 L538.58,396.45 L539.59,395.69 L540.60,394.92 L541.61,394.16 L542.62,393.40 L543.63,392.63 L544.64,391.87 L545.65,391.10 L546.66,390.34 L547.67,389.57 L548.68,388.81 L549.69,388.04 L550.70,387.28 L551.71,386.51 L552.72,385.75 L553.73,384.99 L554.74,384.22 L555.75,383.46 L556.76,382.69 L557.77,381.93 L558.78,381.16 L559.79,380.40 L560.80,379.63 L560.80,379.63" fill="none" stroke="#be1e2d" stroke-width="1.5" stroke-opacity="1" clip-path="url(#cBR)"/>
<path d="M379.00,473.84 L380.01,473.76 L381.02,473.68 L382.03,473.61 L383.04,473.53 L384.05,473.46 L385.06,473.38 L386.07,473.31 L387.08,473.24 L388.09,473.17 L389.10,473.09 L390.11,473.02 L391.12,472.95 L392.13,472.88 L393.14,472.81 L394.15,472.74 L395.16,472.67 L396.17,472.59 L397.18,472.52 L398.19,472.45 L399.20,472.37 L400.21,472.29 L401.22,472.22 L402.23,472.14 L403.24,472.05 L404.25,471.97 L405.26,471.89 L406.27,471.80 L407.28,471.71 L408.29,471.61 L409.30,471.52 L410.31,471.42 L411.32,471.32 L412.33,471.21 L413.34,471.11 L414.35,470.99 L415.36,470.88 L416.37,470.76 L417.38,470.64 L418.39,470.51 L419.40,470.38 L420.41,470.24 L421.42,470.10 L422.43,469.96 L423.44,469.81 L424.45,469.65 L425.46,469.49 L426.47,469.32 L427.48,469.14 L428.49,468.95 L429.50,468.76 L430.51,468.56 L431.52,468.35 L432.53,468.13 L433.54,467.90 L434.55,467.66 L435.56,467.41 L436.57,467.14 L437.58,466.87 L438.59,466.58 L439.60,466.29 L440.61,465.97 L441.62,465.65 L442.63,465.31 L443.64,464.96 L444.65,464.59 L445.66,464.21 L446.67,463.81 L447.68,463.39 L448.69,462.96 L449.70,462.51 L450.71,462.05 L451.72,461.56 L452.73,461.06 L453.74,460.53 L454.75,459.99 L455.76,459.43 L456.77,458.84 L457.78,458.24 L458.79,457.61 L459.80,456.96 L460.81,456.29 L461.82,455.59 L462.83,454.86 L463.84,454.11 L464.85,453.32 L465.86,452.50 L466.87,451.64 L467.88,450.75 L468.89,449.82 L469.90,448.85 L470.91,447.83 L471.92,446.77 L472.93,445.67 L473.94,444.52 L474.95,443.32 L475.96,442.07 L476.97,440.77 L477.98,439.41 L478.99,438.00 L480.00,436.53 L481.01,435.01 L482.02,433.42 L483.03,431.77 L484.04,430.06 L485.05,428.29 L486.06,426.47 L487.07,424.58 L488.08,422.64 L489.09,420.65 L490.10,418.60 L491.11,416.50 L492.12,414.35 L493.13,412.16 L494.14,409.92 L495.15,407.63 L496.16,405.30 L497.17,402.93 L498.18,400.52 L499.19,398.08 L500.20,395.59 L501.21,393.07 L502.22,390.52 L503.23,387.93 L504.24,385.31 L505.25,382.66 L506.26,379.97 L507.27,377.25 L508.28,374.50 L509.29,371.71 L510.30,368.89 L511.31,366.04 L512.32,363.16 L513.33,360.25 L514.34,357.32 L515.35,354.37 L516.36,351.39 L517.37,348.39 L518.38,345.38 L519.39,342.34 L520.40,339.29 L521.41,336.22 L522.42,333.13 L523.43,330.02 L524.44,326.89 L525.45,323.75 L526.46,320.59 L527.47,317.41 L528.48,314.22 L529.49,311.01 L530.50,307.80 L531.51,304.57 L532.52,301.33 L533.53,298.09 L534.54,294.85 L535.55,291.60 L535.55,291.60" fill="none" stroke="#b75cf2" stroke-width="1.4" stroke-dasharray="4.6 4.3" stroke-opacity="1" clip-path="url(#cBR)"/>
<path d="M379.00,475.93 L380.01,475.85 L381.02,475.77 L382.03,475.69 L383.04,475.61 L384.05,475.53 L385.06,475.46 L386.07,475.38 L387.08,475.31 L388.09,475.23 L389.10,475.16 L390.11,475.09 L391.12,475.02 L392.13,474.94 L393.14,474.87 L394.15,474.80 L395.16,474.73 L396.17,474.66 L397.18,474.59 L398.19,474.51 L399.20,474.44 L400.21,474.37 L401.22,474.29 L402.23,474.22 L403.24,474.14 L404.25,474.07 L405.26,473.99 L406.27,473.91 L407.28,473.83 L408.29,473.75 L409.30,473.67 L410.31,473.58 L411.32,473.50 L412.33,473.42 L413.34,473.33 L414.35,473.25 L415.36,473.16 L416.37,473.08 L417.38,472.99 L418.39,472.91 L419.40,472.82 L420.41,472.74 L421.42,472.65 L422.43,472.57 L423.44,472.48 L424.45,472.39 L425.46,472.30 L426.47,472.21 L427.48,472.12 L428.49,472.02 L429.50,471.93 L430.51,471.82 L431.52,471.72 L432.53,471.61 L433.54,471.49 L434.55,471.37 L435.56,471.25 L436.57,471.12 L437.58,470.98 L438.59,470.84 L439.60,470.69 L440.61,470.53 L441.62,470.36 L442.63,470.19 L443.64,470.01 L444.65,469.82 L445.66,469.62 L446.67,469.41 L447.68,469.19 L448.69,468.97 L449.70,468.73 L450.71,468.48 L451.72,468.22 L452.73,467.95 L453.74,467.67 L454.75,467.37 L455.76,467.06 L456.77,466.74 L457.78,466.41 L458.79,466.07 L459.80,465.71 L460.81,465.33 L461.82,464.94 L462.83,464.54 L463.84,464.12 L464.85,463.68 L465.86,463.22 L466.87,462.75 L467.88,462.25 L468.89,461.74 L469.90,461.21 L470.91,460.65 L471.92,460.07 L472.93,459.47 L473.94,458.85 L474.95,458.19 L475.96,457.51 L476.97,456.80 L477.98,456.07 L478.99,455.29 L480.00,454.49 L481.01,453.66 L482.02,452.78 L483.03,451.88 L484.04,450.94 L485.05,449.96 L486.06,448.94 L487.07,447.89 L488.08,446.79 L489.09,445.66 L490.10,444.49 L491.11,443.28 L492.12,442.02 L493.13,440.72 L494.14,439.39 L495.15,438.00 L496.16,436.58 L497.17,435.11 L498.18,433.61 L499.19,432.08 L500.20,430.51 L501.21,428.92 L502.22,427.30 L503.23,425.65 L504.24,423.99 L505.25,422.31 L506.26,420.61 L507.27,418.90 L508.28,417.18 L509.29,415.46 L510.30,413.73 L511.31,412.00 L512.32,410.26 L513.33,408.52 L514.34,406.76 L515.35,404.99 L516.36,403.21 L517.37,401.41 L518.38,399.58 L519.39,397.73 L520.40,395.85 L521.41,393.94 L522.42,392.00 L523.43,390.03 L524.44,388.02 L525.45,385.99 L526.46,383.92 L527.47,381.82 L528.48,379.69 L529.49,377.52 L530.50,375.32 L531.51,373.09 L532.52,370.83 L533.53,368.53 L534.54,366.20 L535.55,363.83 L536.56,361.43 L537.57,359.00 L538.58,356.53 L539.59,354.03 L540.60,351.50 L541.61,348.93 L542.62,346.33 L543.63,343.70 L544.64,341.05 L545.65,338.37 L546.66,335.67 L547.67,332.95 L548.68,330.21 L549.69,327.45 L550.70,324.68 L551.71,321.90 L552.72,319.11 L553.73,316.31 L554.74,313.50 L555.75,310.68 L556.76,307.87 L557.77,305.05 L558.78,302.22 L559.79,299.40 L560.80,296.57 L560.80,296.57" fill="none" stroke="#8b2be2" stroke-width="1.9" stroke-dasharray="4.5 4.3" stroke-opacity="1" clip-path="url(#cBR)"/>
<line x1="470.1" y1="306.5" x2="470.1" y2="487.5" stroke="#5e5e5e" stroke-width="1.9" stroke-dasharray="3.6 2.9"/>
<rect x="383" y="308.5" width="1" height="178.50" fill="#000" fill-opacity="0.098"/>
<rect x="384" y="308.5" width="1" height="178.50" fill="#000" fill-opacity="0.467"/>
<rect x="385" y="308.5" width="1" height="178.50" fill="#000" fill-opacity="0.098"/>
<rect x="384" y="486" width="206.00" height="1" fill="#000" fill-opacity="0.098"/>
<rect x="384" y="487" width="206.00" height="1" fill="#000" fill-opacity="0.443"/>
<rect x="384" y="488" width="206.00" height="1" fill="#000" fill-opacity="0.067"/>
<line x1="383.50" y1="471.20" x2="384.5" y2="471.20" stroke="#666" stroke-width="0.9"/>
<line x1="383.50" y1="432.50" x2="384.5" y2="432.50" stroke="#666" stroke-width="0.9"/>
<line x1="383.50" y1="393.80" x2="384.5" y2="393.80" stroke="#666" stroke-width="0.9"/>
<line x1="383.50" y1="355.10" x2="384.5" y2="355.10" stroke="#666" stroke-width="0.9"/>
<line x1="383.50" y1="316.40" x2="384.5" y2="316.40" stroke="#666" stroke-width="0.9"/>
<line x1="419.40" y1="487.5" x2="419.40" y2="488.5" stroke="#666" stroke-width="0.9"/>
<line x1="469.90" y1="487.5" x2="469.90" y2="488.5" stroke="#666" stroke-width="0.9"/>
<line x1="520.40" y1="487.5" x2="520.40" y2="488.5" stroke="#666" stroke-width="0.9"/>
<line x1="570.90" y1="487.5" x2="570.90" y2="488.5" stroke="#666" stroke-width="0.9"/>
<text x="376.53" y="473.10" font-size="9.5" font-weight="normal" fill="#222" stroke="#222" stroke-width="0.18">0</text>
<text x="376.53" y="434.40" font-size="9.5" font-weight="normal" fill="#222" stroke="#222" stroke-width="0.18">5</text>
<text x="371.25" y="395.70" font-size="9.5" font-weight="normal" fill="#222" stroke="#222" stroke-width="0.18">10</text>
<text x="371.25" y="357.00" font-size="9.5" font-weight="normal" fill="#222" stroke="#222" stroke-width="0.18">15</text>
<text x="371.25" y="318.30" font-size="9.5" font-weight="normal" fill="#222" stroke="#222" stroke-width="0.18">20</text>
<text x="407.45" y="495.80" font-size="9.5" font-weight="normal" fill="#222" stroke="#222" stroke-width="0.18">−10</text>
<text x="467.41" y="495.80" font-size="9.5" font-weight="normal" fill="#222" stroke="#222" stroke-width="0.18">0</text>
<text x="515.33" y="495.80" font-size="9.5" font-weight="normal" fill="#222" stroke="#222" stroke-width="0.18">10</text>
<text x="565.83" y="495.80" font-size="9.5" font-weight="normal" fill="#222" stroke="#222" stroke-width="0.18">20</text>
<text x="0" y="0" transform="translate(6.70,158.70) rotate(-90)" font-size="9.4" font-weight="bold" fill="#111" stroke="#111" stroke-width="0.3" textLength="98.58" lengthAdjust="spacingAndGlyphs">Biomarker abnormality</text>
<text x="0" y="0" transform="translate(17.50,128.10) rotate(-90)" font-size="9.4" font-weight="bold" fill="#111" stroke="#111" stroke-width="0.3" textLength="37.29" lengthAdjust="spacingAndGlyphs">(Z-score)</text>
<text x="0" y="0" transform="translate(356.80,158.90) rotate(-90)" font-size="9.4" font-weight="bold" fill="#111" stroke="#111" stroke-width="0.3" textLength="98.68" lengthAdjust="spacingAndGlyphs">Biomarker abnormality</text>
<text x="0" y="0" transform="translate(367.50,128.30) rotate(-90)" font-size="9.4" font-weight="bold" fill="#111" stroke="#111" stroke-width="0.3" textLength="37.49" lengthAdjust="spacingAndGlyphs">(Z-score)</text>
<text x="0" y="0" transform="translate(8.10,459.50) rotate(-90)" font-size="9.4" font-weight="bold" fill="#111" stroke="#111" stroke-width="0.3" textLength="99.08" lengthAdjust="spacingAndGlyphs">Biomarker abnormality</text>
<text x="0" y="0" transform="translate(18.80,428.60) rotate(-90)" font-size="9.4" font-weight="bold" fill="#111" stroke="#111" stroke-width="0.3" textLength="37.59" lengthAdjust="spacingAndGlyphs">(Z-score)</text>
<text x="0" y="0" transform="translate(356.90,456.50) rotate(-90)" font-size="9.4" font-weight="bold" fill="#111" stroke="#111" stroke-width="0.3" textLength="99.18" lengthAdjust="spacingAndGlyphs">Biomarker abnormality</text>
<text x="0" y="0" transform="translate(367.50,425.70) rotate(-90)" font-size="9.4" font-weight="bold" fill="#111" stroke="#111" stroke-width="0.3" textLength="37.49" lengthAdjust="spacingAndGlyphs">(Z-score)</text>
<text x="76.10" y="238.60" font-size="10.6" font-weight="bold" fill="#111" stroke="#111" stroke-width="0.3" textLength="128.11" lengthAdjust="spacingAndGlyphs">Estimated Aβ-PET+ years</text>
<text x="417.90" y="238.60" font-size="10.6" font-weight="bold" fill="#111" stroke="#111" stroke-width="0.3" textLength="132.90" lengthAdjust="spacingAndGlyphs">Estimated Tau-PET+ years</text>
<text x="75.80" y="513.50" font-size="10.6" font-weight="bold" fill="#111" stroke="#111" stroke-width="0.3" textLength="128.11" lengthAdjust="spacingAndGlyphs">Estimated Aβ-PET+ years</text>
<text x="420.50" y="513.50" font-size="10.6" font-weight="bold" fill="#111" stroke="#111" stroke-width="0.3" textLength="133.40" lengthAdjust="spacingAndGlyphs">Estimated Tau-PET+ years</text>
<line x1="247" y1="65.0" x2="253" y2="65.0" stroke="#fecc78" stroke-width="1.8"/>
<text x="255.80" y="65.80" font-size="8.9" font-weight="normal" fill="#111" stroke="#111" stroke-width="0.18" textLength="33.08" lengthAdjust="spacingAndGlyphs">p-tau217</text>
<line x1="248.2" y1="142.5" x2="254" y2="142.5" stroke="#f7a523" stroke-width="1.8"/>
<text x="257.10" y="145.10" font-size="8.9" font-weight="normal" fill="#111" stroke="#111" stroke-width="0.18" textLength="41.02" lengthAdjust="spacingAndGlyphs">%p-tau217</text>
<line x1="248.7" y1="166.5" x2="254" y2="166.5" stroke="#8c5a0f" stroke-width="1.8"/>
<text x="256.90" y="169.10" font-size="8.9" font-weight="normal" fill="#111" stroke="#111" stroke-width="0.18" textLength="68.48" lengthAdjust="spacingAndGlyphs">np-tau mid-region</text>
<line x1="585.3" y1="36.5" x2="591" y2="36.5" stroke="#fecc78" stroke-width="1.8"/>
<text x="594.00" y="38.90" font-size="8.9" font-weight="normal" fill="#111" stroke="#111" stroke-width="0.18" textLength="33.68" lengthAdjust="spacingAndGlyphs">p-tau217</text>
<line x1="585.4" y1="138.3" x2="590.7" y2="138.3" stroke="#f7a523" stroke-width="1.8"/>
<text x="593.00" y="141.00" font-size="8.9" font-weight="normal" fill="#111" stroke="#111" stroke-width="0.18" textLength="41.42" lengthAdjust="spacingAndGlyphs">%p-tau217</text>
<line x1="585.4" y1="161.8" x2="590.7" y2="161.8" stroke="#8c5a0f" stroke-width="1.8"/>
<text x="593.00" y="164.50" font-size="8.9" font-weight="normal" fill="#111" stroke="#111" stroke-width="0.18" textLength="68.98" lengthAdjust="spacingAndGlyphs">np-tau mid-region</text>
<line x1="246.9" y1="373.5" x2="253.1" y2="373.5" stroke="#c97ffa" stroke-width="1.5" stroke-dasharray="2 1.6"/>
<text x="255.30" y="376.00" font-size="9.1" font-weight="normal" fill="#111" stroke="#111" stroke-width="0.18" textLength="88.98" lengthAdjust="spacingAndGlyphs">Tau-PET intermediate</text>
<text x="255.30" y="386.80" font-size="9.1" font-weight="normal" fill="#111" stroke="#111" stroke-width="0.18">ROI</text>
<line x1="247.2" y1="403.2" x2="253.3" y2="403.2" stroke="#8b2be2" stroke-width="1.9" stroke-dasharray="2.2 1.4"/>
<text x="255.80" y="405.50" font-size="9.1" font-weight="normal" fill="#111" stroke="#111" stroke-width="0.18" textLength="71.58" lengthAdjust="spacingAndGlyphs">Tau-PET late ROI</text>
<line x1="247.2" y1="428.1" x2="252.5" y2="428.1" stroke="#be1e2d" stroke-width="1.8"/>
<text x="255.80" y="430.50" font-size="9.1" font-weight="normal" fill="#111" stroke="#111" stroke-width="0.18" textLength="56.20" lengthAdjust="spacingAndGlyphs">MTBR-tau243</text>
<line x1="247.2" y1="440.8" x2="252.5" y2="440.8" stroke="#f55028" stroke-width="1.8"/>
<text x="255.80" y="443.00" font-size="9.1" font-weight="normal" fill="#111" stroke="#111" stroke-width="0.18" textLength="84.18" lengthAdjust="spacingAndGlyphs">MTBR-tau243/np-tau</text>
<line x1="246.9" y1="452.8" x2="252.6" y2="452.8" stroke="#dcaaff" stroke-width="1.8" stroke-dasharray="2 1.6"/>
<text x="255.80" y="455.20" font-size="9.1" font-weight="normal" fill="#111" stroke="#111" stroke-width="0.18" textLength="76.08" lengthAdjust="spacingAndGlyphs">Tau-PET early ROI</text>
<line x1="588.0" y1="311.9" x2="593.4" y2="311.9" stroke="#cf8cff" stroke-width="1.5" stroke-dasharray="1.6 2.0"/>
<text x="596.40" y="313.80" font-size="9.1" font-weight="normal" fill="#111" stroke="#111" stroke-width="0.18" textLength="88.98" lengthAdjust="spacingAndGlyphs">Tau-PET intermediate</text>
<text x="596.40" y="325.00" font-size="9.1" font-weight="normal" fill="#111" stroke="#111" stroke-width="0.18">ROI</text>
<line x1="588.0" y1="333.3" x2="593.4" y2="333.3" stroke="#8b2be2" stroke-width="1.9" stroke-dasharray="1.6 2.0"/>
<text x="596.40" y="335.70" font-size="9.1" font-weight="normal" fill="#111" stroke="#111" stroke-width="0.18" textLength="71.48" lengthAdjust="spacingAndGlyphs">Tau-PET late ROI</text>
<line x1="586.8" y1="379.5" x2="591.6" y2="379.5" stroke="#be1e2d" stroke-width="1.8"/>
<text x="594.90" y="381.80" font-size="9.1" font-weight="normal" fill="#111" stroke="#111" stroke-width="0.18" textLength="56.50" lengthAdjust="spacingAndGlyphs">MTBR-tau243</text>
<line x1="586.8" y1="402.8" x2="591.6" y2="402.8" stroke="#f55028" stroke-width="1.8"/>
<text x="594.90" y="405.50" font-size="9.1" font-weight="normal" fill="#111" stroke="#111" stroke-width="0.18" textLength="84.98" lengthAdjust="spacingAndGlyphs">MTBR-tau243/np-tau</text>
<line x1="586.8" y1="428.4" x2="592.4" y2="428.4" stroke="#dcaaff" stroke-width="1.7" stroke-dasharray="1.8 1.8"/>
<text x="594.90" y="430.70" font-size="9.1" font-weight="normal" fill="#111" stroke="#111" stroke-width="0.18" textLength="76.98" lengthAdjust="spacingAndGlyphs">Tau-PET early ROI</text>
</g>
</svg>
</body></html>
